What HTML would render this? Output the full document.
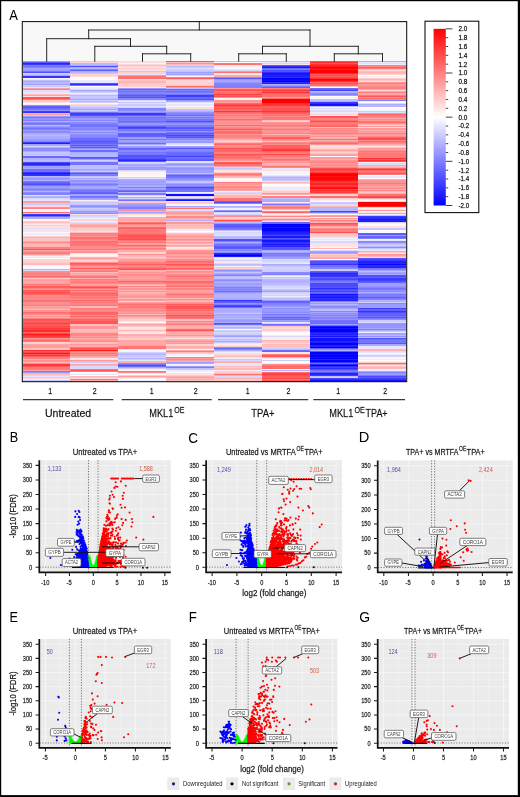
<!DOCTYPE html>
<html lang="en"><head><meta charset="utf-8"><title>Figure</title>
<style>
html,body{margin:0;padding:0;background:#fff;}
body{width:520px;height:797px;overflow:hidden;position:relative;font-family:'Liberation Sans', 'DejaVu Sans', sans-serif;}
svg{display:block;position:absolute;left:0;top:0;}
text{font-family:'Liberation Sans', 'DejaVu Sans', sans-serif;}
.bd{stroke:#000;stroke-width:0.3px;stroke-opacity:0.55;}
</style></head><body>
<svg width="520" height="797" viewBox="0 0 520 797">
<rect x="0" y="0" width="520" height="797" fill="#fff"/>

<rect x="22" y="21.5" width="385" height="360.3" fill="#f8f8f8"/>
<g shape-rendering="crispEdges">
<g fill="none" stroke-width="1"><path stroke="#ff8080" d="M22.50 61.5h47.95M22.50 89.5h47.95M22.50 99.5h47.95M22.50 247.5h47.95M22.50 248.5h47.95M22.50 275.5h47.95M22.50 288.5h47.95M22.50 297.5h47.95M22.50 299.5h47.95M22.50 339.5h47.95M22.50 357.5h47.95M22.50 358.5h47.95M70.43 235.5h47.95M70.43 239.5h47.95M70.43 296.5h47.95M70.43 298.5h47.95M70.43 301.5h47.95M70.43 308.5h47.95M70.43 309.5h47.95M70.43 318.5h47.95M70.43 334.5h47.95M70.43 351.5h47.95M70.43 355.5h47.95M70.43 371.5h47.95M118.36 246.5h47.95M118.36 262.5h47.95M118.36 265.5h47.95M118.36 282.5h47.95M118.36 283.5h47.95M118.36 305.5h47.95M118.36 310.5h47.95M118.36 315.5h47.95M118.36 347.5h47.95M166.29 77.5h47.95M166.29 263.5h47.95M166.29 266.5h47.95M166.29 269.5h47.95M166.29 275.5h47.95M166.29 288.5h47.95M166.29 312.5h47.95M166.29 314.5h47.95M214.22 135.5h47.95M214.22 136.5h47.95M214.22 147.5h47.95M214.22 152.5h47.95M214.22 153.5h47.95M214.22 182.5h47.95M262.15 88.5h47.95M262.15 153.5h47.95M262.15 160.5h47.95M262.15 196.5h47.95M262.15 197.5h47.95M262.15 211.5h47.95M262.15 219.5h47.95M262.15 354.5h47.95M310.08 119.5h47.95M310.08 123.5h47.95M310.08 142.5h47.95M310.08 167.5h47.95M310.08 220.5h47.95M310.08 230.5h47.95M358.01 83.5h47.95M358.01 87.5h47.95M358.01 88.5h47.95M358.01 92.5h47.95M358.01 116.5h47.95M358.01 133.5h47.95M358.01 142.5h47.95M358.01 152.5h47.95"/>
<path stroke="#5959ff" d="M22.50 62.5h47.95M22.50 183.5h47.95M70.43 83.5h47.95M70.43 141.5h47.95M70.43 145.5h47.95M70.43 147.5h47.95M70.43 157.5h47.95M118.36 95.5h47.95M118.36 115.5h47.95M118.36 157.5h47.95M118.36 161.5h47.95M166.29 127.5h47.95M166.29 133.5h47.95M166.29 148.5h47.95M166.29 160.5h47.95M214.22 78.5h47.95M214.22 248.5h47.95M214.22 301.5h47.95M262.15 65.5h47.95M262.15 238.5h47.95M262.15 247.5h47.95M262.15 249.5h47.95M310.08 290.5h47.95M310.08 351.5h47.95M310.08 372.5h47.95M358.01 234.5h47.95M358.01 343.5h47.95M358.01 377.5h47.95"/>
<path stroke="#2626ff" d="M22.50 63.5h47.95M22.50 163.5h47.95M22.50 164.5h47.95M22.50 215.5h47.95M118.36 160.5h47.95M214.22 253.5h47.95M310.08 275.5h47.95M310.08 296.5h47.95M310.08 299.5h47.95M310.08 300.5h47.95M310.08 333.5h47.95M310.08 341.5h47.95M310.08 345.5h47.95M310.08 359.5h47.95M310.08 364.5h47.95M310.08 374.5h47.95M358.01 220.5h47.95M358.01 263.5h47.95M358.01 266.5h47.95M358.01 267.5h47.95"/>
<path stroke="#3939ff" d="M22.50 64.5h47.95M22.50 172.5h47.95M70.43 113.5h47.95M118.36 113.5h47.95M118.36 114.5h47.95M118.36 159.5h47.95M166.29 95.5h47.95M166.29 199.5h47.95M214.22 306.5h47.95M310.08 102.5h47.95M310.08 274.5h47.95M310.08 276.5h47.95M310.08 375.5h47.95M358.01 216.5h47.95M358.01 260.5h47.95M358.01 278.5h47.95M358.01 279.5h47.95"/>
<path stroke="#7979ff" d="M22.50 65.5h47.95M22.50 117.5h47.95M22.50 181.5h47.95M22.50 185.5h47.95M22.50 371.5h47.95M70.43 144.5h47.95M70.43 175.5h47.95M70.43 184.5h47.95M70.43 191.5h47.95M118.36 119.5h47.95M118.36 193.5h47.95M118.36 194.5h47.95M118.36 364.5h47.95M166.29 61.5h47.95M166.29 92.5h47.95M166.29 94.5h47.95M166.29 117.5h47.95M166.29 122.5h47.95M166.29 125.5h47.95M166.29 129.5h47.95M166.29 132.5h47.95M166.29 177.5h47.95M166.29 186.5h47.95M166.29 190.5h47.95M166.29 367.5h47.95M214.22 229.5h47.95M262.15 86.5h47.95M262.15 204.5h47.95M262.15 253.5h47.95M262.15 314.5h47.95M262.15 318.5h47.95M310.08 281.5h47.95M358.01 289.5h47.95M358.01 296.5h47.95M358.01 298.5h47.95M358.01 318.5h47.95M358.01 340.5h47.95M358.01 342.5h47.95M358.01 375.5h47.95"/>
<path stroke="#7373ff" d="M22.50 66.5h47.95M22.50 71.5h47.95M22.50 109.5h47.95M22.50 123.5h47.95M22.50 128.5h47.95M22.50 169.5h47.95M22.50 171.5h47.95M70.43 85.5h47.95M70.43 112.5h47.95M70.43 124.5h47.95M70.43 125.5h47.95M70.43 126.5h47.95M70.43 139.5h47.95M70.43 162.5h47.95M70.43 163.5h47.95M70.43 164.5h47.95M70.43 190.5h47.95M118.36 94.5h47.95M118.36 130.5h47.95M118.36 139.5h47.95M118.36 152.5h47.95M118.36 154.5h47.95M118.36 190.5h47.95M118.36 200.5h47.95M166.29 119.5h47.95M166.29 120.5h47.95M166.29 191.5h47.95M214.22 228.5h47.95M214.22 244.5h47.95M214.22 245.5h47.95M310.08 265.5h47.95M310.08 320.5h47.95M310.08 322.5h47.95M310.08 325.5h47.95M310.08 370.5h47.95M358.01 268.5h47.95M358.01 288.5h47.95M358.01 294.5h47.95M358.01 316.5h47.95M358.01 341.5h47.95"/>
<path stroke="#8686ff" d="M22.50 67.5h47.95M22.50 127.5h47.95M22.50 131.5h47.95M22.50 141.5h47.95M22.50 194.5h47.95M70.43 69.5h47.95M70.43 116.5h47.95M70.43 120.5h47.95M70.43 123.5h47.95M70.43 128.5h47.95M70.43 135.5h47.95M70.43 136.5h47.95M70.43 137.5h47.95M70.43 172.5h47.95M70.43 189.5h47.95M118.36 90.5h47.95M118.36 92.5h47.95M118.36 99.5h47.95M118.36 109.5h47.95M118.36 110.5h47.95M118.36 150.5h47.95M118.36 363.5h47.95M166.29 113.5h47.95M166.29 139.5h47.95M166.29 149.5h47.95M166.29 178.5h47.95M214.22 77.5h47.95M214.22 84.5h47.95M214.22 203.5h47.95M214.22 347.5h47.95M214.22 349.5h47.95M262.15 273.5h47.95M262.15 304.5h47.95M262.15 325.5h47.95M310.08 94.5h47.95M310.08 260.5h47.95M310.08 311.5h47.95M310.08 318.5h47.95M358.01 241.5h47.95M358.01 287.5h47.95M358.01 303.5h47.95M358.01 372.5h47.95"/>
<path stroke="#a6a6ff" d="M22.50 68.5h47.95M22.50 75.5h47.95M22.50 133.5h47.95M22.50 138.5h47.95M22.50 168.5h47.95M70.43 109.5h47.95M70.43 131.5h47.95M70.43 169.5h47.95M70.43 182.5h47.95M70.43 186.5h47.95M70.43 187.5h47.95M70.43 188.5h47.95M70.43 207.5h47.95M118.36 111.5h47.95M118.36 138.5h47.95M118.36 144.5h47.95M118.36 164.5h47.95M118.36 165.5h47.95M118.36 180.5h47.95M118.36 183.5h47.95M118.36 188.5h47.95M118.36 203.5h47.95M118.36 204.5h47.95M118.36 209.5h47.95M118.36 367.5h47.95M166.29 140.5h47.95M166.29 165.5h47.95M166.29 183.5h47.95M166.29 206.5h47.95M214.22 80.5h47.95M214.22 81.5h47.95M214.22 251.5h47.95M214.22 271.5h47.95M214.22 281.5h47.95M214.22 285.5h47.95M214.22 299.5h47.95M214.22 314.5h47.95M214.22 315.5h47.95M214.22 319.5h47.95M262.15 250.5h47.95M262.15 252.5h47.95M310.08 251.5h47.95M310.08 308.5h47.95M310.08 312.5h47.95M358.01 272.5h47.95M358.01 274.5h47.95M358.01 328.5h47.95M358.01 334.5h47.95M358.01 344.5h47.95M358.01 371.5h47.95"/>
<path stroke="#9f9fff" d="M22.50 69.5h47.95M22.50 84.5h47.95M22.50 126.5h47.95M22.50 130.5h47.95M22.50 139.5h47.95M22.50 144.5h47.95M22.50 166.5h47.95M22.50 167.5h47.95M22.50 179.5h47.95M22.50 187.5h47.95M70.43 118.5h47.95M70.43 119.5h47.95M70.43 133.5h47.95M70.43 159.5h47.95M70.43 194.5h47.95M70.43 212.5h47.95M118.36 140.5h47.95M118.36 141.5h47.95M118.36 146.5h47.95M118.36 168.5h47.95M118.36 181.5h47.95M118.36 182.5h47.95M118.36 189.5h47.95M118.36 212.5h47.95M166.29 72.5h47.95M166.29 74.5h47.95M166.29 146.5h47.95M166.29 167.5h47.95M166.29 170.5h47.95M166.29 171.5h47.95M166.29 172.5h47.95M166.29 180.5h47.95M166.29 362.5h47.95M166.29 366.5h47.95M214.22 283.5h47.95M214.22 284.5h47.95M214.22 286.5h47.95M214.22 336.5h47.95M262.15 85.5h47.95M262.15 257.5h47.95M262.15 258.5h47.95M262.15 291.5h47.95M262.15 313.5h47.95M262.15 320.5h47.95M310.08 95.5h47.95M310.08 305.5h47.95M310.08 324.5h47.95M358.01 99.5h47.95M358.01 270.5h47.95M358.01 284.5h47.95M358.01 285.5h47.95M358.01 305.5h47.95M358.01 307.5h47.95M358.01 333.5h47.95M358.01 374.5h47.95"/>
<path stroke="#9999ff" d="M22.50 70.5h47.95M22.50 116.5h47.95M22.50 186.5h47.95M22.50 372.5h47.95M70.43 130.5h47.95M70.43 198.5h47.95M70.43 205.5h47.95M70.43 211.5h47.95M118.36 88.5h47.95M118.36 124.5h47.95M118.36 132.5h47.95M118.36 137.5h47.95M118.36 147.5h47.95M118.36 167.5h47.95M118.36 169.5h47.95M118.36 184.5h47.95M118.36 199.5h47.95M166.29 100.5h47.95M166.29 116.5h47.95M166.29 124.5h47.95M166.29 141.5h47.95M166.29 142.5h47.95M166.29 169.5h47.95M166.29 185.5h47.95M214.22 79.5h47.95M214.22 82.5h47.95M214.22 223.5h47.95M214.22 274.5h47.95M214.22 279.5h47.95M214.22 320.5h47.95M214.22 321.5h47.95M262.15 300.5h47.95M262.15 306.5h47.95M262.15 309.5h47.95M262.15 310.5h47.95M262.15 311.5h47.95M262.15 321.5h47.95M310.08 252.5h47.95M310.08 303.5h47.95M310.08 314.5h47.95M310.08 316.5h47.95M358.01 235.5h47.95M358.01 273.5h47.95M358.01 283.5h47.95M358.01 293.5h47.95M358.01 304.5h47.95M358.01 306.5h47.95M358.01 323.5h47.95M358.01 326.5h47.95"/>
<path stroke="#5353ff" d="M22.50 72.5h47.95M22.50 107.5h47.95M70.43 173.5h47.95M118.36 134.5h47.95M118.36 155.5h47.95M118.36 156.5h47.95M118.36 158.5h47.95M166.29 128.5h47.95M166.29 137.5h47.95M214.22 226.5h47.95M214.22 239.5h47.95M214.22 247.5h47.95M262.15 71.5h47.95M262.15 248.5h47.95M310.08 262.5h47.95M310.08 287.5h47.95M358.01 258.5h47.95M358.01 275.5h47.95M358.01 281.5h47.95M358.01 317.5h47.95M358.01 338.5h47.95"/>
<path stroke="#ccccff" d="M22.50 73.5h47.95M22.50 203.5h47.95M70.43 97.5h47.95M70.43 100.5h47.95M70.43 102.5h47.95M70.43 110.5h47.95M70.43 177.5h47.95M70.43 203.5h47.95M70.43 208.5h47.95M118.36 104.5h47.95M118.36 355.5h47.95M118.36 359.5h47.95M118.36 368.5h47.95M166.29 67.5h47.95M166.29 69.5h47.95M166.29 70.5h47.95M214.22 333.5h47.95M262.15 176.5h47.95M262.15 180.5h47.95M262.15 266.5h47.95M262.15 270.5h47.95M262.15 271.5h47.95M262.15 285.5h47.95M262.15 348.5h47.95M262.15 360.5h47.95M310.08 202.5h47.95M310.08 213.5h47.95M310.08 270.5h47.95M310.08 377.5h47.95M358.01 111.5h47.95M358.01 245.5h47.95M358.01 320.5h47.95M358.01 321.5h47.95M358.01 331.5h47.95M358.01 355.5h47.95"/>
<path stroke="#c6c6ff" d="M22.50 74.5h47.95M22.50 86.5h47.95M22.50 152.5h47.95M22.50 153.5h47.95M22.50 155.5h47.95M22.50 204.5h47.95M22.50 380.5h47.95M22.50 381.5h47.95M70.43 73.5h47.95M70.43 96.5h47.95M70.43 171.5h47.95M70.43 176.5h47.95M70.43 202.5h47.95M70.43 204.5h47.95M70.43 209.5h47.95M118.36 102.5h47.95M118.36 105.5h47.95M118.36 356.5h47.95M166.29 109.5h47.95M166.29 166.5h47.95M166.29 181.5h47.95M166.29 182.5h47.95M166.29 198.5h47.95M166.29 369.5h47.95M214.22 168.5h47.95M214.22 272.5h47.95M214.22 278.5h47.95M214.22 313.5h47.95M214.22 340.5h47.95M214.22 342.5h47.95M214.22 359.5h47.95M262.15 198.5h47.95M262.15 277.5h47.95M262.15 289.5h47.95M310.08 203.5h47.95M310.08 269.5h47.95M358.01 215.5h47.95M358.01 228.5h47.95M358.01 229.5h47.95M358.01 244.5h47.95M358.01 248.5h47.95"/>
<path stroke="#3333ff" d="M22.50 76.5h47.95M22.50 77.5h47.95M22.50 112.5h47.95M22.50 175.5h47.95M214.22 300.5h47.95M262.15 82.5h47.95M262.15 242.5h47.95M262.15 243.5h47.95M262.15 245.5h47.95M310.08 264.5h47.95M310.08 335.5h47.95M310.08 362.5h47.95M358.01 265.5h47.95M358.01 311.5h47.95M358.01 379.5h47.95"/>
<path stroke="#fff2f2" d="M22.50 78.5h47.95M22.50 104.5h47.95M22.50 256.5h47.95M22.50 268.5h47.95M70.43 221.5h47.95M70.43 254.5h47.95M118.36 63.5h47.95M118.36 172.5h47.95M118.36 173.5h47.95M118.36 174.5h47.95M118.36 215.5h47.95M118.36 216.5h47.95M118.36 351.5h47.95M118.36 370.5h47.95M166.29 349.5h47.95M214.22 66.5h47.95M214.22 181.5h47.95M262.15 186.5h47.95M262.15 214.5h47.95M358.01 162.5h47.95M358.01 211.5h47.95"/>
<path stroke="#ffdfdf" d="M22.50 79.5h47.95M22.50 96.5h47.95M22.50 102.5h47.95M22.50 226.5h47.95M22.50 229.5h47.95M22.50 230.5h47.95M22.50 231.5h47.95M70.43 104.5h47.95M70.43 214.5h47.95M70.43 231.5h47.95M70.43 253.5h47.95M70.43 359.5h47.95M118.36 62.5h47.95M118.36 70.5h47.95M166.29 108.5h47.95M166.29 201.5h47.95M166.29 248.5h47.95M166.29 338.5h47.95M166.29 373.5h47.95M166.29 374.5h47.95M214.22 65.5h47.95M214.22 73.5h47.95M214.22 170.5h47.95M214.22 345.5h47.95M262.15 170.5h47.95M262.15 190.5h47.95M262.15 331.5h47.95M262.15 353.5h47.95M310.08 113.5h47.95M310.08 244.5h47.95M358.01 81.5h47.95M358.01 226.5h47.95M358.01 365.5h47.95"/>
<path stroke="#bfbfff" d="M22.50 80.5h47.95M22.50 154.5h47.95M22.50 160.5h47.95M70.43 107.5h47.95M70.43 108.5h47.95M70.43 161.5h47.95M70.43 165.5h47.95M70.43 166.5h47.95M70.43 167.5h47.95M70.43 168.5h47.95M118.36 211.5h47.95M118.36 353.5h47.95M166.29 71.5h47.95M166.29 88.5h47.95M166.29 110.5h47.95M166.29 173.5h47.95M166.29 207.5h47.95M166.29 219.5h47.95M166.29 368.5h47.95M214.22 61.5h47.95M214.22 207.5h47.95M214.22 222.5h47.95M214.22 230.5h47.95M214.22 236.5h47.95M214.22 264.5h47.95M214.22 265.5h47.95M214.22 276.5h47.95M214.22 277.5h47.95M214.22 328.5h47.95M214.22 331.5h47.95M214.22 339.5h47.95M262.15 61.5h47.95M262.15 178.5h47.95M262.15 283.5h47.95M262.15 298.5h47.95M262.15 299.5h47.95M262.15 349.5h47.95M310.08 99.5h47.95M310.08 100.5h47.95M310.08 106.5h47.95M310.08 310.5h47.95M310.08 376.5h47.95M358.01 105.5h47.95M358.01 271.5h47.95"/>
<path stroke="#acacff" d="M22.50 81.5h47.95M22.50 136.5h47.95M22.50 137.5h47.95M22.50 145.5h47.95M22.50 151.5h47.95M22.50 177.5h47.95M22.50 197.5h47.95M22.50 217.5h47.95M22.50 218.5h47.95M70.43 65.5h47.95M70.43 67.5h47.95M70.43 71.5h47.95M70.43 90.5h47.95M70.43 99.5h47.95M70.43 121.5h47.95M70.43 149.5h47.95M70.43 152.5h47.95M70.43 178.5h47.95M70.43 195.5h47.95M70.43 199.5h47.95M118.36 179.5h47.95M118.36 185.5h47.95M118.36 186.5h47.95M118.36 197.5h47.95M166.29 101.5h47.95M166.29 163.5h47.95M166.29 363.5h47.95M214.22 206.5h47.95M214.22 242.5h47.95M214.22 273.5h47.95M214.22 293.5h47.95M214.22 298.5h47.95M214.22 308.5h47.95M214.22 309.5h47.95M214.22 310.5h47.95M214.22 311.5h47.95M214.22 317.5h47.95M214.22 322.5h47.95M214.22 335.5h47.95M214.22 341.5h47.95M214.22 350.5h47.95M262.15 84.5h47.95M262.15 199.5h47.95M262.15 200.5h47.95M262.15 201.5h47.95M262.15 205.5h47.95M262.15 264.5h47.95M262.15 307.5h47.95M310.08 92.5h47.95M310.08 101.5h47.95M310.08 253.5h47.95M358.01 61.5h47.95M358.01 104.5h47.95M358.01 292.5h47.95M358.01 301.5h47.95M358.01 330.5h47.95M358.01 345.5h47.95"/>
<path stroke="#b9b9ff" d="M22.50 82.5h47.95M22.50 83.5h47.95M22.50 135.5h47.95M22.50 176.5h47.95M22.50 196.5h47.95M22.50 269.5h47.95M70.43 63.5h47.95M70.43 64.5h47.95M70.43 68.5h47.95M70.43 72.5h47.95M70.43 91.5h47.95M70.43 95.5h47.95M70.43 98.5h47.95M70.43 101.5h47.95M70.43 111.5h47.95M70.43 155.5h47.95M70.43 179.5h47.95M70.43 210.5h47.95M118.36 192.5h47.95M166.29 66.5h47.95M214.22 238.5h47.95M214.22 269.5h47.95M214.22 318.5h47.95M214.22 325.5h47.95M262.15 179.5h47.95M262.15 203.5h47.95M262.15 251.5h47.95M262.15 279.5h47.95M262.15 284.5h47.95M262.15 290.5h47.95M310.08 91.5h47.95M310.08 208.5h47.95M310.08 210.5h47.95M310.08 304.5h47.95M310.08 309.5h47.95M358.01 246.5h47.95M358.01 300.5h47.95M358.01 335.5h47.95M358.01 337.5h47.95"/>
<path stroke="#d2d2ff" d="M22.50 85.5h47.95M22.50 146.5h47.95M70.43 92.5h47.95M70.43 105.5h47.95M70.43 160.5h47.95M70.43 223.5h47.95M70.43 362.5h47.95M118.36 107.5h47.95M118.36 145.5h47.95M118.36 162.5h47.95M118.36 163.5h47.95M118.36 177.5h47.95M118.36 198.5h47.95M118.36 352.5h47.95M118.36 357.5h47.95M166.29 65.5h47.95M166.29 143.5h47.95M166.29 196.5h47.95M166.29 221.5h47.95M214.22 169.5h47.95M214.22 214.5h47.95M214.22 260.5h47.95M214.22 326.5h47.95M214.22 330.5h47.95M214.22 334.5h47.95M214.22 337.5h47.95M214.22 377.5h47.95M262.15 260.5h47.95M262.15 261.5h47.95M262.15 267.5h47.95M262.15 268.5h47.95M262.15 269.5h47.95M262.15 278.5h47.95M262.15 286.5h47.95M262.15 292.5h47.95M262.15 293.5h47.95M262.15 295.5h47.95M262.15 297.5h47.95M358.01 222.5h47.95M358.01 302.5h47.95"/>
<path stroke="#e6e6ff" d="M22.50 87.5h47.95M22.50 92.5h47.95M22.50 200.5h47.95M22.50 227.5h47.95M22.50 376.5h47.95M70.43 217.5h47.95M70.43 374.5h47.95M118.36 74.5h47.95M118.36 171.5h47.95M118.36 349.5h47.95M118.36 360.5h47.95M166.29 104.5h47.95M166.29 105.5h47.95M166.29 197.5h47.95M214.22 69.5h47.95M214.22 213.5h47.95M214.22 231.5h47.95M214.22 259.5h47.95M214.22 343.5h47.95M214.22 353.5h47.95M214.22 364.5h47.95M262.15 62.5h47.95M262.15 168.5h47.95M262.15 169.5h47.95M262.15 175.5h47.95M262.15 263.5h47.95M262.15 322.5h47.95M310.08 239.5h47.95M310.08 243.5h47.95M358.01 62.5h47.95M358.01 176.5h47.95M358.01 240.5h47.95M358.01 250.5h47.95M358.01 346.5h47.95M358.01 347.5h47.95M358.01 348.5h47.95M358.01 352.5h47.95"/>
<path stroke="#ff9f9f" d="M22.50 88.5h47.95M22.50 114.5h47.95M22.50 202.5h47.95M22.50 254.5h47.95M22.50 283.5h47.95M22.50 346.5h47.95M22.50 347.5h47.95M70.43 225.5h47.95M70.43 250.5h47.95M70.43 258.5h47.95M70.43 273.5h47.95M70.43 284.5h47.95M70.43 336.5h47.95M70.43 339.5h47.95M118.36 226.5h47.95M118.36 247.5h47.95M118.36 259.5h47.95M118.36 260.5h47.95M118.36 273.5h47.95M118.36 277.5h47.95M118.36 278.5h47.95M118.36 294.5h47.95M118.36 295.5h47.95M118.36 300.5h47.95M118.36 302.5h47.95M118.36 312.5h47.95M118.36 316.5h47.95M118.36 341.5h47.95M118.36 345.5h47.95M118.36 376.5h47.95M166.29 212.5h47.95M166.29 240.5h47.95M166.29 245.5h47.95M166.29 254.5h47.95M166.29 287.5h47.95M166.29 291.5h47.95M166.29 292.5h47.95M166.29 322.5h47.95M166.29 358.5h47.95M166.29 360.5h47.95M214.22 102.5h47.95M214.22 124.5h47.95M214.22 166.5h47.95M214.22 185.5h47.95M262.15 161.5h47.95M262.15 165.5h47.95M310.08 150.5h47.95M310.08 157.5h47.95M310.08 207.5h47.95M310.08 215.5h47.95M310.08 218.5h47.95M310.08 221.5h47.95M358.01 89.5h47.95M358.01 132.5h47.95M358.01 135.5h47.95M358.01 255.5h47.95"/>
<path stroke="#dfdfff" d="M22.50 90.5h47.95M22.50 91.5h47.95M22.50 199.5h47.95M22.50 228.5h47.95M70.43 82.5h47.95M70.43 222.5h47.95M70.43 363.5h47.95M118.36 61.5h47.95M118.36 103.5h47.95M118.36 106.5h47.95M118.36 178.5h47.95M166.29 68.5h47.95M166.29 102.5h47.95M166.29 144.5h47.95M166.29 161.5h47.95M166.29 162.5h47.95M166.29 209.5h47.95M166.29 210.5h47.95M214.22 234.5h47.95M214.22 235.5h47.95M214.22 332.5h47.95M262.15 262.5h47.95M262.15 288.5h47.95M262.15 294.5h47.95M310.08 108.5h47.95M310.08 110.5h47.95M310.08 204.5h47.95M358.01 63.5h47.95M358.01 112.5h47.95M358.01 164.5h47.95M358.01 249.5h47.95"/>
<path stroke="#ececff" d="M22.50 93.5h47.95M22.50 233.5h47.95M22.50 234.5h47.95M22.50 257.5h47.95M70.43 80.5h47.95M70.43 81.5h47.95M70.43 88.5h47.95M70.43 93.5h47.95M70.43 218.5h47.95M118.36 101.5h47.95M118.36 196.5h47.95M118.36 380.5h47.95M166.29 192.5h47.95M166.29 229.5h47.95M166.29 230.5h47.95M166.29 365.5h47.95M166.29 370.5h47.95M214.22 261.5h47.95M262.15 187.5h47.95M262.15 188.5h47.95M262.15 296.5h47.95M262.15 335.5h47.95M262.15 337.5h47.95M262.15 371.5h47.95M310.08 109.5h47.95M310.08 112.5h47.95M358.01 64.5h47.95M358.01 177.5h47.95M358.01 214.5h47.95M358.01 253.5h47.95M358.01 332.5h47.95M358.01 354.5h47.95M358.01 369.5h47.95M358.01 370.5h47.95"/>
<path stroke="#ffb9b9" d="M22.50 94.5h47.95M22.50 213.5h47.95M22.50 222.5h47.95M22.50 245.5h47.95M22.50 264.5h47.95M22.50 309.5h47.95M70.43 259.5h47.95M70.43 324.5h47.95M70.43 330.5h47.95M70.43 331.5h47.95M70.43 376.5h47.95M118.36 71.5h47.95M118.36 81.5h47.95M118.36 256.5h47.95M118.36 258.5h47.95M118.36 285.5h47.95M118.36 336.5h47.95M166.29 64.5h47.95M166.29 226.5h47.95M166.29 301.5h47.95M166.29 319.5h47.95M166.29 336.5h47.95M166.29 352.5h47.95M214.22 195.5h47.95M214.22 197.5h47.95M214.22 361.5h47.95M214.22 368.5h47.95M214.22 369.5h47.95M214.22 373.5h47.95M262.15 141.5h47.95M262.15 182.5h47.95M262.15 209.5h47.95M262.15 344.5h47.95M262.15 346.5h47.95M310.08 127.5h47.95M310.08 149.5h47.95M310.08 206.5h47.95M310.08 219.5h47.95M310.08 227.5h47.95M310.08 248.5h47.95M358.01 256.5h47.95M358.01 349.5h47.95M358.01 368.5h47.95"/>
<path stroke="#ffa6a6" d="M22.50 95.5h47.95M22.50 241.5h47.95M22.50 250.5h47.95M22.50 279.5h47.95M22.50 281.5h47.95M22.50 282.5h47.95M22.50 306.5h47.95M22.50 308.5h47.95M22.50 317.5h47.95M22.50 344.5h47.95M22.50 370.5h47.95M70.43 226.5h47.95M70.43 346.5h47.95M70.43 356.5h47.95M70.43 364.5h47.95M70.43 380.5h47.95M118.36 219.5h47.95M118.36 220.5h47.95M118.36 243.5h47.95M118.36 324.5h47.95M118.36 343.5h47.95M118.36 344.5h47.95M166.29 237.5h47.95M166.29 255.5h47.95M166.29 290.5h47.95M166.29 325.5h47.95M166.29 328.5h47.95M166.29 340.5h47.95M166.29 342.5h47.95M166.29 379.5h47.95M166.29 381.5h47.95M214.22 75.5h47.95M214.22 190.5h47.95M214.22 362.5h47.95M310.08 135.5h47.95M310.08 154.5h47.95M310.08 226.5h47.95M310.08 258.5h47.95M358.01 91.5h47.95M358.01 93.5h47.95M358.01 94.5h47.95M358.01 118.5h47.95M358.01 144.5h47.95M358.01 149.5h47.95M358.01 186.5h47.95M358.01 198.5h47.95M358.01 213.5h47.95"/>
<path stroke="#ff5959" d="M22.50 97.5h47.95M22.50 286.5h47.95M22.50 290.5h47.95M22.50 320.5h47.95M22.50 322.5h47.95M22.50 324.5h47.95M22.50 325.5h47.95M22.50 351.5h47.95M22.50 356.5h47.95M22.50 366.5h47.95M70.43 263.5h47.95M70.43 268.5h47.95M70.43 322.5h47.95M70.43 323.5h47.95M118.36 223.5h47.95M118.36 235.5h47.95M118.36 238.5h47.95M166.29 78.5h47.95M166.29 268.5h47.95M166.29 304.5h47.95M166.29 307.5h47.95M214.22 89.5h47.95M214.22 129.5h47.95M214.22 162.5h47.95M262.15 89.5h47.95M262.15 93.5h47.95M262.15 106.5h47.95M262.15 109.5h47.95M262.15 138.5h47.95M262.15 355.5h47.95M262.15 376.5h47.95M310.08 63.5h47.95M310.08 74.5h47.95M310.08 76.5h47.95M310.08 117.5h47.95M310.08 171.5h47.95M358.01 96.5h47.95M358.01 159.5h47.95M358.01 173.5h47.95"/>
<path stroke="#ff4d4d" d="M22.50 98.5h47.95M22.50 292.5h47.95M22.50 319.5h47.95M22.50 326.5h47.95M22.50 327.5h47.95M22.50 333.5h47.95M22.50 354.5h47.95M70.43 287.5h47.95M70.43 348.5h47.95M118.36 236.5h47.95M118.36 239.5h47.95M214.22 104.5h47.95M214.22 106.5h47.95M214.22 108.5h47.95M214.22 220.5h47.95M262.15 108.5h47.95M262.15 110.5h47.95M262.15 148.5h47.95M262.15 154.5h47.95M310.08 75.5h47.95M310.08 121.5h47.95M310.08 168.5h47.95M310.08 189.5h47.95M358.01 138.5h47.95M358.01 139.5h47.95M358.01 161.5h47.95"/>
<path stroke="#ffbfbf" d="M22.50 100.5h47.95M22.50 115.5h47.95M22.50 239.5h47.95M22.50 263.5h47.95M22.50 348.5h47.95M22.50 374.5h47.95M70.43 215.5h47.95M70.43 232.5h47.95M70.43 272.5h47.95M70.43 306.5h47.95M70.43 325.5h47.95M70.43 329.5h47.95M70.43 342.5h47.95M70.43 343.5h47.95M118.36 65.5h47.95M118.36 298.5h47.95M118.36 314.5h47.95M118.36 318.5h47.95M118.36 330.5h47.95M118.36 337.5h47.95M166.29 62.5h47.95M166.29 79.5h47.95M166.29 215.5h47.95M166.29 224.5h47.95M166.29 227.5h47.95M166.29 228.5h47.95M166.29 241.5h47.95M166.29 298.5h47.95M166.29 320.5h47.95M166.29 348.5h47.95M166.29 378.5h47.95M166.29 380.5h47.95M214.22 140.5h47.95M214.22 177.5h47.95M214.22 267.5h47.95M214.22 356.5h47.95M214.22 366.5h47.95M214.22 380.5h47.95M214.22 381.5h47.95M262.15 120.5h47.95M262.15 220.5h47.95M310.08 151.5h47.95M310.08 153.5h47.95M310.08 235.5h47.95M310.08 255.5h47.95M358.01 69.5h47.95M358.01 71.5h47.95M358.01 73.5h47.95M358.01 145.5h47.95M358.01 166.5h47.95"/>
<path stroke="#ffcccc" d="M22.50 101.5h47.95M22.50 255.5h47.95M22.50 262.5h47.95M22.50 343.5h47.95M22.50 375.5h47.95M70.43 228.5h47.95M70.43 261.5h47.95M118.36 68.5h47.95M118.36 86.5h47.95M118.36 202.5h47.95M118.36 253.5h47.95M118.36 257.5h47.95M118.36 301.5h47.95M118.36 319.5h47.95M118.36 320.5h47.95M118.36 338.5h47.95M118.36 339.5h47.95M118.36 375.5h47.95M166.29 203.5h47.95M166.29 353.5h47.95M166.29 375.5h47.95M214.22 167.5h47.95M214.22 172.5h47.95M214.22 367.5h47.95M214.22 372.5h47.95M214.22 379.5h47.95M262.15 63.5h47.95M262.15 121.5h47.95M262.15 191.5h47.95M262.15 192.5h47.95M262.15 213.5h47.95M262.15 347.5h47.95M310.08 194.5h47.95M310.08 195.5h47.95M310.08 234.5h47.95M310.08 254.5h47.95M358.01 125.5h47.95M358.01 147.5h47.95M358.01 362.5h47.95"/>
<path stroke="#fff9f9" d="M22.50 103.5h47.95M22.50 219.5h47.95M70.43 78.5h47.95M70.43 103.5h47.95M118.36 175.5h47.95M118.36 176.5h47.95M118.36 322.5h47.95M118.36 381.5h47.95M166.29 204.5h47.95M166.29 372.5h47.95M214.22 180.5h47.95M214.22 329.5h47.95M262.15 332.5h47.95M262.15 334.5h47.95M262.15 359.5h47.95M310.08 98.5h47.95M358.01 75.5h47.95M358.01 208.5h47.95M358.01 224.5h47.95M358.01 358.5h47.95"/>
<path stroke="#8c8cff" d="M22.50 105.5h47.95M22.50 110.5h47.95M22.50 122.5h47.95M22.50 132.5h47.95M22.50 148.5h47.95M22.50 149.5h47.95M22.50 150.5h47.95M22.50 192.5h47.95M70.43 122.5h47.95M70.43 127.5h47.95M70.43 132.5h47.95M70.43 183.5h47.95M70.43 185.5h47.95M70.43 213.5h47.95M118.36 98.5h47.95M118.36 112.5h47.95M118.36 151.5h47.95M166.29 93.5h47.95M166.29 118.5h47.95M166.29 123.5h47.95M166.29 138.5h47.95M166.29 147.5h47.95M166.29 150.5h47.95M166.29 174.5h47.95M166.29 184.5h47.95M214.22 252.5h47.95M214.22 280.5h47.95M214.22 288.5h47.95M214.22 290.5h47.95M262.15 256.5h47.95M262.15 272.5h47.95M262.15 305.5h47.95M262.15 312.5h47.95M262.15 315.5h47.95M262.15 316.5h47.95M310.08 93.5h47.95M310.08 268.5h47.95M310.08 306.5h47.95M310.08 307.5h47.95M310.08 313.5h47.95M358.01 242.5h47.95M358.01 247.5h47.95M358.01 291.5h47.95M358.01 319.5h47.95"/>
<path stroke="#6666ff" d="M22.50 106.5h47.95M22.50 157.5h47.95M70.43 138.5h47.95M70.43 140.5h47.95M70.43 143.5h47.95M70.43 192.5h47.95M118.36 121.5h47.95M118.36 133.5h47.95M118.36 136.5h47.95M166.29 97.5h47.95M166.29 130.5h47.95M166.29 153.5h47.95M166.29 188.5h47.95M214.22 201.5h47.95M214.22 227.5h47.95M262.15 68.5h47.95M262.15 222.5h47.95M262.15 223.5h47.95M262.15 302.5h47.95M262.15 317.5h47.95M262.15 351.5h47.95M310.08 280.5h47.95M310.08 292.5h47.95M358.01 282.5h47.95M358.01 313.5h47.95"/>
<path stroke="#6c6cff" d="M22.50 108.5h47.95M22.50 156.5h47.95M22.50 170.5h47.95M22.50 182.5h47.95M22.50 216.5h47.95M70.43 150.5h47.95M70.43 151.5h47.95M70.43 196.5h47.95M118.36 91.5h47.95M118.36 96.5h47.95M118.36 117.5h47.95M118.36 143.5h47.95M118.36 149.5h47.95M118.36 366.5h47.95M166.29 89.5h47.95M166.29 91.5h47.95M166.29 98.5h47.95M166.29 115.5h47.95M166.29 134.5h47.95M166.29 152.5h47.95M166.29 154.5h47.95M166.29 157.5h47.95M166.29 158.5h47.95M166.29 176.5h47.95M166.29 189.5h47.95M214.22 211.5h47.95M214.22 291.5h47.95M214.22 307.5h47.95M214.22 324.5h47.95M214.22 348.5h47.95M262.15 319.5h47.95M262.15 324.5h47.95M262.15 350.5h47.95M310.08 88.5h47.95M310.08 266.5h47.95M310.08 321.5h47.95M310.08 323.5h47.95M310.08 363.5h47.95M358.01 236.5h47.95M358.01 339.5h47.95"/>
<path stroke="#4040ff" d="M22.50 111.5h47.95M22.50 142.5h47.95M22.50 214.5h47.95M118.36 127.5h47.95M166.29 96.5h47.95M262.15 239.5h47.95M310.08 90.5h47.95M310.08 211.5h47.95M310.08 291.5h47.95M310.08 367.5h47.95M310.08 381.5h47.95M358.01 280.5h47.95M358.01 308.5h47.95M358.01 378.5h47.95"/>
<path stroke="#ffb2b2" d="M22.50 113.5h47.95M22.50 244.5h47.95M22.50 246.5h47.95M22.50 359.5h47.95M22.50 362.5h47.95M70.43 224.5h47.95M70.43 227.5h47.95M70.43 257.5h47.95M70.43 307.5h47.95M70.43 357.5h47.95M70.43 361.5h47.95M70.43 365.5h47.95M118.36 82.5h47.95M118.36 213.5h47.95M118.36 221.5h47.95M118.36 255.5h47.95M118.36 290.5h47.95M118.36 292.5h47.95M118.36 293.5h47.95M118.36 361.5h47.95M118.36 362.5h47.95M166.29 225.5h47.95M166.29 243.5h47.95M166.29 246.5h47.95M166.29 258.5h47.95M166.29 270.5h47.95M166.29 327.5h47.95M166.29 339.5h47.95M166.29 376.5h47.95M214.22 139.5h47.95M214.22 142.5h47.95M214.22 161.5h47.95M214.22 176.5h47.95M214.22 196.5h47.95M214.22 378.5h47.95M262.15 134.5h47.95M262.15 163.5h47.95M262.15 164.5h47.95M262.15 340.5h47.95M262.15 357.5h47.95M310.08 137.5h47.95M310.08 140.5h47.95M310.08 159.5h47.95M310.08 222.5h47.95M310.08 233.5h47.95M358.01 72.5h47.95M358.01 79.5h47.95M358.01 124.5h47.95M358.01 191.5h47.95M358.01 364.5h47.95M358.01 367.5h47.95"/>
<path stroke="#9393ff" d="M22.50 118.5h47.95M22.50 119.5h47.95M22.50 140.5h47.95M22.50 178.5h47.95M22.50 188.5h47.95M22.50 190.5h47.95M70.43 134.5h47.95M70.43 148.5h47.95M70.43 180.5h47.95M70.43 181.5h47.95M70.43 206.5h47.95M118.36 116.5h47.95M118.36 123.5h47.95M118.36 131.5h47.95M118.36 142.5h47.95M118.36 205.5h47.95M118.36 206.5h47.95M166.29 112.5h47.95M166.29 131.5h47.95M166.29 164.5h47.95M166.29 168.5h47.95M166.29 179.5h47.95M214.22 210.5h47.95M214.22 243.5h47.95M214.22 249.5h47.95M214.22 270.5h47.95M214.22 292.5h47.95M214.22 303.5h47.95M262.15 308.5h47.95M310.08 319.5h47.95M310.08 349.5h47.95M358.01 286.5h47.95M358.01 290.5h47.95M358.01 324.5h47.95M358.01 325.5h47.95M358.01 327.5h47.95M358.01 336.5h47.95M358.01 373.5h47.95"/>
<path stroke="#8080ff" d="M22.50 120.5h47.95M22.50 124.5h47.95M22.50 129.5h47.95M22.50 189.5h47.95M22.50 193.5h47.95M70.43 117.5h47.95M70.43 129.5h47.95M70.43 146.5h47.95M70.43 174.5h47.95M70.43 197.5h47.95M118.36 93.5h47.95M118.36 108.5h47.95M118.36 118.5h47.95M118.36 120.5h47.95M118.36 122.5h47.95M118.36 125.5h47.95M118.36 129.5h47.95M118.36 153.5h47.95M118.36 187.5h47.95M118.36 207.5h47.95M118.36 208.5h47.95M166.29 90.5h47.95M166.29 114.5h47.95M166.29 126.5h47.95M166.29 151.5h47.95M214.22 83.5h47.95M214.22 85.5h47.95M214.22 86.5h47.95M214.22 87.5h47.95M214.22 241.5h47.95M214.22 250.5h47.95M214.22 275.5h47.95M214.22 287.5h47.95M214.22 289.5h47.95M214.22 304.5h47.95M262.15 69.5h47.95M262.15 254.5h47.95M262.15 255.5h47.95M262.15 274.5h47.95M262.15 303.5h47.95M310.08 212.5h47.95M310.08 267.5h47.95M310.08 282.5h47.95M310.08 301.5h47.95M310.08 315.5h47.95M310.08 317.5h47.95M310.08 371.5h47.95M358.01 100.5h47.95M358.01 238.5h47.95M358.01 269.5h47.95M358.01 295.5h47.95M358.01 299.5h47.95M358.01 329.5h47.95"/>
<path stroke="#b2b2ff" d="M22.50 121.5h47.95M22.50 125.5h47.95M22.50 134.5h47.95M22.50 147.5h47.95M22.50 158.5h47.95M22.50 159.5h47.95M22.50 161.5h47.95M22.50 180.5h47.95M22.50 191.5h47.95M70.43 153.5h47.95M70.43 154.5h47.95M70.43 156.5h47.95M70.43 170.5h47.95M118.36 166.5h47.95M118.36 354.5h47.95M118.36 358.5h47.95M166.29 73.5h47.95M166.29 111.5h47.95M166.29 220.5h47.95M214.22 237.5h47.95M214.22 282.5h47.95M214.22 294.5h47.95M214.22 295.5h47.95M214.22 296.5h47.95M214.22 297.5h47.95M214.22 312.5h47.95M214.22 316.5h47.95M214.22 327.5h47.95M262.15 177.5h47.95M262.15 265.5h47.95M262.15 280.5h47.95M262.15 281.5h47.95M262.15 282.5h47.95M262.15 370.5h47.95M310.08 209.5h47.95M310.08 302.5h47.95M310.08 350.5h47.95M358.01 106.5h47.95M358.01 243.5h47.95"/>
<path stroke="#2020ff" d="M22.50 143.5h47.95M214.22 256.5h47.95M262.15 75.5h47.95M262.15 76.5h47.95M262.15 83.5h47.95M262.15 232.5h47.95M262.15 233.5h47.95M262.15 246.5h47.95M310.08 273.5h47.95M310.08 332.5h47.95M310.08 334.5h47.95M310.08 342.5h47.95M310.08 346.5h47.95M310.08 373.5h47.95M358.01 261.5h47.95M358.01 262.5h47.95"/>
<path stroke="#4d4dff" d="M22.50 162.5h47.95M22.50 165.5h47.95M22.50 184.5h47.95M70.43 66.5h47.95M70.43 115.5h47.95M118.36 97.5h47.95M118.36 128.5h47.95M166.29 99.5h47.95M166.29 121.5h47.95M166.29 187.5h47.95M214.22 202.5h47.95M214.22 240.5h47.95M214.22 305.5h47.95M214.22 323.5h47.95M262.15 70.5h47.95M310.08 261.5h47.95M310.08 263.5h47.95M310.08 272.5h47.95M310.08 278.5h47.95M310.08 284.5h47.95M310.08 286.5h47.95M310.08 289.5h47.95M310.08 369.5h47.95M358.01 276.5h47.95M358.01 312.5h47.95M358.01 376.5h47.95"/>
<path stroke="#1919ff" d="M22.50 173.5h47.95M214.22 254.5h47.95M262.15 67.5h47.95M262.15 74.5h47.95M262.15 236.5h47.95M262.15 244.5h47.95M310.08 105.5h47.95M310.08 297.5h47.95M358.01 221.5h47.95"/>
<path stroke="#2d2dff" d="M22.50 174.5h47.95M70.43 84.5h47.95M262.15 66.5h47.95M262.15 72.5h47.95M262.15 77.5h47.95M262.15 234.5h47.95M310.08 103.5h47.95M310.08 288.5h47.95M310.08 295.5h47.95M310.08 298.5h47.95M310.08 366.5h47.95M310.08 368.5h47.95M310.08 379.5h47.95M358.01 217.5h47.95M358.01 218.5h47.95"/>
<path stroke="#d9d9ff" d="M22.50 195.5h47.95M22.50 198.5h47.95M22.50 270.5h47.95M70.43 89.5h47.95M70.43 94.5h47.95M70.43 106.5h47.95M70.43 201.5h47.95M70.43 216.5h47.95M70.43 366.5h47.95M70.43 367.5h47.95M70.43 368.5h47.95M118.36 100.5h47.95M118.36 170.5h47.95M118.36 195.5h47.95M166.29 75.5h47.95M166.29 193.5h47.95M214.22 70.5h47.95M214.22 192.5h47.95M214.22 212.5h47.95M214.22 232.5h47.95M214.22 233.5h47.95M214.22 257.5h47.95M214.22 338.5h47.95M214.22 351.5h47.95M214.22 360.5h47.95M214.22 376.5h47.95M262.15 259.5h47.95M262.15 275.5h47.95M262.15 287.5h47.95M262.15 323.5h47.95M262.15 336.5h47.95M310.08 111.5h47.95M310.08 241.5h47.95M310.08 242.5h47.95M310.08 250.5h47.95M358.01 103.5h47.95M358.01 163.5h47.95M358.01 257.5h47.95M358.01 322.5h47.95M358.01 356.5h47.95"/>
<path stroke="#ff9999" d="M22.50 201.5h47.95M22.50 280.5h47.95M22.50 307.5h47.95M22.50 316.5h47.95M22.50 338.5h47.95M22.50 345.5h47.95M22.50 361.5h47.95M70.43 251.5h47.95M70.43 266.5h47.95M70.43 269.5h47.95M70.43 285.5h47.95M70.43 289.5h47.95M70.43 327.5h47.95M70.43 328.5h47.95M70.43 344.5h47.95M70.43 360.5h47.95M118.36 75.5h47.95M118.36 225.5h47.95M118.36 244.5h47.95M118.36 272.5h47.95M118.36 276.5h47.95M118.36 279.5h47.95M118.36 291.5h47.95M118.36 296.5h47.95M118.36 297.5h47.95M118.36 311.5h47.95M166.29 87.5h47.95M166.29 222.5h47.95M166.29 223.5h47.95M166.29 242.5h47.95M166.29 251.5h47.95M166.29 257.5h47.95M166.29 331.5h47.95M166.29 343.5h47.95M166.29 377.5h47.95M214.22 71.5h47.95M214.22 88.5h47.95M214.22 126.5h47.95M214.22 160.5h47.95M214.22 183.5h47.95M214.22 184.5h47.95M214.22 188.5h47.95M214.22 215.5h47.95M262.15 97.5h47.95M262.15 122.5h47.95M262.15 127.5h47.95M262.15 131.5h47.95M262.15 140.5h47.95M262.15 193.5h47.95M310.08 129.5h47.95M310.08 134.5h47.95M310.08 155.5h47.95M310.08 158.5h47.95M310.08 163.5h47.95M310.08 166.5h47.95M310.08 216.5h47.95M358.01 84.5h47.95M358.01 120.5h47.95M358.01 126.5h47.95M358.01 128.5h47.95M358.01 129.5h47.95M358.01 131.5h47.95M358.01 134.5h47.95M358.01 180.5h47.95M358.01 187.5h47.95M358.01 210.5h47.95"/>
<path stroke="#ffd9d9" d="M22.50 205.5h47.95M22.50 223.5h47.95M22.50 378.5h47.95M70.43 62.5h47.95M70.43 76.5h47.95M70.43 219.5h47.95M70.43 378.5h47.95M118.36 64.5h47.95M118.36 66.5h47.95M118.36 69.5h47.95M118.36 79.5h47.95M118.36 214.5h47.95M118.36 329.5h47.95M166.29 80.5h47.95M166.29 107.5h47.95M214.22 141.5h47.95M214.22 217.5h47.95M214.22 268.5h47.95M214.22 354.5h47.95M214.22 357.5h47.95M214.22 365.5h47.95M262.15 181.5h47.95M262.15 217.5h47.95M262.15 221.5h47.95M262.15 328.5h47.95M262.15 343.5h47.95M310.08 147.5h47.95M310.08 199.5h47.95M310.08 237.5h47.95M358.01 70.5h47.95M358.01 90.5h47.95M358.01 127.5h47.95"/>
<path stroke="#ffd2d2" d="M22.50 206.5h47.95M22.50 221.5h47.95M22.50 225.5h47.95M22.50 236.5h47.95M22.50 259.5h47.95M22.50 260.5h47.95M22.50 261.5h47.95M22.50 342.5h47.95M70.43 74.5h47.95M70.43 75.5h47.95M70.43 220.5h47.95M70.43 230.5h47.95M70.43 260.5h47.95M118.36 72.5h47.95M118.36 73.5h47.95M118.36 85.5h47.95M118.36 252.5h47.95M118.36 331.5h47.95M166.29 81.5h47.95M166.29 82.5h47.95M166.29 83.5h47.95M166.29 84.5h47.95M166.29 249.5h47.95M166.29 344.5h47.95M166.29 345.5h47.95M214.22 194.5h47.95M214.22 263.5h47.95M214.22 346.5h47.95M214.22 371.5h47.95M262.15 183.5h47.95M262.15 327.5h47.95M262.15 330.5h47.95M310.08 114.5h47.95M310.08 145.5h47.95M310.08 148.5h47.95M310.08 152.5h47.95M310.08 198.5h47.95M310.08 205.5h47.95M310.08 236.5h47.95M358.01 74.5h47.95M358.01 78.5h47.95M358.01 201.5h47.95M358.01 207.5h47.95M358.01 351.5h47.95"/>
<path stroke="#ff9393" d="M22.50 207.5h47.95M22.50 271.5h47.95M22.50 289.5h47.95M22.50 302.5h47.95M22.50 310.5h47.95M22.50 311.5h47.95M22.50 360.5h47.95M22.50 363.5h47.95M70.43 236.5h47.95M70.43 262.5h47.95M70.43 275.5h47.95M70.43 326.5h47.95M70.43 340.5h47.95M70.43 352.5h47.95M70.43 354.5h47.95M70.43 381.5h47.95M118.36 210.5h47.95M118.36 254.5h47.95M118.36 261.5h47.95M118.36 275.5h47.95M118.36 280.5h47.95M118.36 288.5h47.95M118.36 289.5h47.95M118.36 299.5h47.95M118.36 309.5h47.95M166.29 63.5h47.95M166.29 213.5h47.95M166.29 236.5h47.95M166.29 250.5h47.95M166.29 256.5h47.95M166.29 271.5h47.95M166.29 272.5h47.95M166.29 280.5h47.95M166.29 302.5h47.95M166.29 335.5h47.95M214.22 100.5h47.95M214.22 101.5h47.95M214.22 121.5h47.95M214.22 122.5h47.95M214.22 134.5h47.95M214.22 138.5h47.95M214.22 145.5h47.95M214.22 189.5h47.95M262.15 124.5h47.95M262.15 130.5h47.95M262.15 132.5h47.95M262.15 162.5h47.95M262.15 364.5h47.95M310.08 132.5h47.95M310.08 136.5h47.95M310.08 141.5h47.95M310.08 144.5h47.95M310.08 160.5h47.95M310.08 164.5h47.95M358.01 82.5h47.95M358.01 85.5h47.95M358.01 113.5h47.95M358.01 148.5h47.95M358.01 182.5h47.95M358.01 184.5h47.95M358.01 254.5h47.95"/>
<path stroke="#ff8686" d="M22.50 208.5h47.95M22.50 252.5h47.95M22.50 274.5h47.95M22.50 277.5h47.95M22.50 285.5h47.95M22.50 296.5h47.95M22.50 314.5h47.95M22.50 318.5h47.95M70.43 234.5h47.95M70.43 246.5h47.95M70.43 270.5h47.95M70.43 280.5h47.95M70.43 291.5h47.95M70.43 303.5h47.95M70.43 304.5h47.95M70.43 311.5h47.95M70.43 315.5h47.95M70.43 317.5h47.95M118.36 224.5h47.95M118.36 266.5h47.95M118.36 286.5h47.95M118.36 303.5h47.95M118.36 308.5h47.95M118.36 372.5h47.95M166.29 217.5h47.95M166.29 253.5h47.95M166.29 278.5h47.95M166.29 289.5h47.95M166.29 293.5h47.95M166.29 295.5h47.95M166.29 311.5h47.95M166.29 321.5h47.95M166.29 359.5h47.95M214.22 116.5h47.95M214.22 120.5h47.95M214.22 127.5h47.95M214.22 130.5h47.95M214.22 137.5h47.95M214.22 146.5h47.95M214.22 159.5h47.95M214.22 187.5h47.95M214.22 221.5h47.95M262.15 123.5h47.95M262.15 133.5h47.95M262.15 157.5h47.95M262.15 167.5h47.95M262.15 208.5h47.95M262.15 216.5h47.95M310.08 118.5h47.95M310.08 128.5h47.95M310.08 130.5h47.95M310.08 162.5h47.95M310.08 228.5h47.95M358.01 65.5h47.95M358.01 66.5h47.95M358.01 117.5h47.95M358.01 190.5h47.95"/>
<path stroke="#f9f9ff" d="M22.50 209.5h47.95M22.50 232.5h47.95M22.50 258.5h47.95M22.50 266.5h47.95M22.50 267.5h47.95M70.43 255.5h47.95M70.43 372.5h47.95M70.43 373.5h47.95M118.36 350.5h47.95M166.29 106.5h47.95M166.29 356.5h47.95M214.22 62.5h47.95M214.22 68.5h47.95M214.22 98.5h47.95M214.22 205.5h47.95M214.22 266.5h47.95M262.15 172.5h47.95M262.15 174.5h47.95M262.15 195.5h47.95M262.15 361.5h47.95M262.15 369.5h47.95M310.08 156.5h47.95M310.08 201.5h47.95M310.08 214.5h47.95M310.08 247.5h47.95M358.01 108.5h47.95M358.01 109.5h47.95M358.01 200.5h47.95M358.01 225.5h47.95M358.01 230.5h47.95M358.01 231.5h47.95M358.01 232.5h47.95M358.01 353.5h47.95"/>
<path stroke="#f2f2ff" d="M22.50 210.5h47.95M22.50 211.5h47.95M22.50 235.5h47.95M22.50 379.5h47.95M118.36 369.5h47.95M166.29 76.5h47.95M166.29 103.5h47.95M166.29 145.5h47.95M166.29 205.5h47.95M166.29 354.5h47.95M166.29 355.5h47.95M166.29 364.5h47.95M166.29 371.5h47.95M214.22 67.5h47.95M214.22 99.5h47.95M214.22 191.5h47.95M214.22 204.5h47.95M214.22 208.5h47.95M214.22 209.5h47.95M214.22 258.5h47.95M214.22 352.5h47.95M214.22 358.5h47.95M262.15 173.5h47.95M262.15 276.5h47.95M310.08 97.5h47.95M310.08 107.5h47.95M310.08 217.5h47.95M310.08 238.5h47.95M310.08 240.5h47.95M358.01 101.5h47.95M358.01 110.5h47.95M358.01 239.5h47.95M358.01 357.5h47.95"/>
<path stroke="#ff6c6c" d="M22.50 212.5h47.95M22.50 276.5h47.95M22.50 301.5h47.95M22.50 312.5h47.95M70.43 237.5h47.95M70.43 241.5h47.95M70.43 286.5h47.95M70.43 290.5h47.95M70.43 294.5h47.95M70.43 295.5h47.95M70.43 314.5h47.95M70.43 316.5h47.95M118.36 78.5h47.95M118.36 245.5h47.95M118.36 304.5h47.95M166.29 86.5h47.95M166.29 261.5h47.95M166.29 265.5h47.95M166.29 282.5h47.95M166.29 305.5h47.95M166.29 316.5h47.95M166.29 329.5h47.95M214.22 92.5h47.95M214.22 93.5h47.95M214.22 107.5h47.95M214.22 110.5h47.95M214.22 119.5h47.95M214.22 164.5h47.95M262.15 95.5h47.95M262.15 98.5h47.95M262.15 159.5h47.95M262.15 368.5h47.95M262.15 372.5h47.95M310.08 85.5h47.95M310.08 120.5h47.95M310.08 125.5h47.95M310.08 139.5h47.95M358.01 98.5h47.95M358.01 114.5h47.95M358.01 122.5h47.95M358.01 172.5h47.95M358.01 195.5h47.95"/>
<path stroke="#ffecec" d="M22.50 220.5h47.95M22.50 265.5h47.95M70.43 200.5h47.95M70.43 256.5h47.95M118.36 378.5h47.95M166.29 232.5h47.95M166.29 247.5h47.95M214.22 74.5h47.95M214.22 171.5h47.95M214.22 178.5h47.95M214.22 344.5h47.95M214.22 370.5h47.95M262.15 171.5h47.95M262.15 210.5h47.95M262.15 338.5h47.95M262.15 339.5h47.95M310.08 115.5h47.95M310.08 200.5h47.95M358.01 76.5h47.95M358.01 77.5h47.95M358.01 223.5h47.95M358.01 361.5h47.95"/>
<path stroke="#ffe6e6" d="M22.50 224.5h47.95M70.43 87.5h47.95M70.43 358.5h47.95M118.36 67.5h47.95M118.36 87.5h47.95M118.36 321.5h47.95M118.36 327.5h47.95M118.36 328.5h47.95M118.36 332.5h47.95M118.36 333.5h47.95M118.36 373.5h47.95M214.22 262.5h47.95M214.22 363.5h47.95M262.15 64.5h47.95M262.15 189.5h47.95M262.15 202.5h47.95M262.15 352.5h47.95M262.15 358.5h47.95M262.15 363.5h47.95M310.08 146.5h47.95M310.08 245.5h47.95M310.08 246.5h47.95M358.01 146.5h47.95M358.01 199.5h47.95M358.01 209.5h47.95M358.01 212.5h47.95M358.01 227.5h47.95M358.01 359.5h47.95"/>
<path stroke="#ffacac" d="M22.50 237.5h47.95M22.50 243.5h47.95M22.50 315.5h47.95M22.50 373.5h47.95M70.43 274.5h47.95M70.43 278.5h47.95M70.43 332.5h47.95M70.43 338.5h47.95M70.43 345.5h47.95M118.36 217.5h47.95M118.36 218.5h47.95M118.36 250.5h47.95M118.36 251.5h47.95M118.36 270.5h47.95M118.36 271.5h47.95M118.36 284.5h47.95M118.36 287.5h47.95M118.36 317.5h47.95M118.36 325.5h47.95M118.36 334.5h47.95M118.36 335.5h47.95M118.36 340.5h47.95M118.36 342.5h47.95M166.29 211.5h47.95M166.29 214.5h47.95M166.29 218.5h47.95M166.29 234.5h47.95M166.29 235.5h47.95M166.29 238.5h47.95M166.29 273.5h47.95M166.29 300.5h47.95M166.29 326.5h47.95M166.29 332.5h47.95M166.29 333.5h47.95M166.29 334.5h47.95M166.29 346.5h47.95M166.29 347.5h47.95M166.29 350.5h47.95M166.29 361.5h47.95M214.22 76.5h47.95M214.22 219.5h47.95M214.22 375.5h47.95M262.15 194.5h47.95M310.08 138.5h47.95M310.08 257.5h47.95M358.01 130.5h47.95M358.01 165.5h47.95M358.01 167.5h47.95M358.01 179.5h47.95M358.01 189.5h47.95M358.01 193.5h47.95M358.01 251.5h47.95M358.01 350.5h47.95"/>
<path stroke="#ffc6c6" d="M22.50 238.5h47.95M22.50 240.5h47.95M22.50 278.5h47.95M22.50 349.5h47.95M22.50 377.5h47.95M70.43 61.5h47.95M70.43 229.5h47.95M70.43 377.5h47.95M118.36 80.5h47.95M118.36 83.5h47.95M118.36 84.5h47.95M118.36 201.5h47.95M118.36 323.5h47.95M118.36 326.5h47.95M118.36 377.5h47.95M166.29 85.5h47.95M166.29 202.5h47.95M166.29 233.5h47.95M166.29 244.5h47.95M166.29 337.5h47.95M214.22 193.5h47.95M214.22 218.5h47.95M214.22 355.5h47.95M262.15 215.5h47.95M262.15 218.5h47.95M262.15 326.5h47.95M262.15 329.5h47.95M262.15 341.5h47.95M262.15 342.5h47.95M262.15 345.5h47.95M310.08 86.5h47.95M310.08 256.5h47.95M358.01 80.5h47.95M358.01 192.5h47.95M358.01 252.5h47.95M358.01 366.5h47.95"/>
<path stroke="#ff8c8c" d="M22.50 242.5h47.95M22.50 251.5h47.95M22.50 272.5h47.95M22.50 295.5h47.95M22.50 298.5h47.95M22.50 303.5h47.95M22.50 304.5h47.95M70.43 240.5h47.95M70.43 247.5h47.95M70.43 248.5h47.95M70.43 252.5h47.95M70.43 267.5h47.95M70.43 281.5h47.95M70.43 283.5h47.95M70.43 299.5h47.95M70.43 310.5h47.95M70.43 333.5h47.95M70.43 335.5h47.95M70.43 337.5h47.95M70.43 341.5h47.95M118.36 241.5h47.95M118.36 249.5h47.95M118.36 274.5h47.95M118.36 313.5h47.95M166.29 216.5h47.95M166.29 239.5h47.95M166.29 252.5h47.95M166.29 259.5h47.95M166.29 260.5h47.95M166.29 267.5h47.95M166.29 274.5h47.95M166.29 277.5h47.95M166.29 279.5h47.95M166.29 284.5h47.95M166.29 296.5h47.95M166.29 297.5h47.95M166.29 299.5h47.95M166.29 303.5h47.95M166.29 323.5h47.95M166.29 341.5h47.95M214.22 97.5h47.95M214.22 114.5h47.95M214.22 117.5h47.95M214.22 118.5h47.95M214.22 123.5h47.95M214.22 173.5h47.95M214.22 175.5h47.95M214.22 186.5h47.95M214.22 216.5h47.95M262.15 116.5h47.95M262.15 126.5h47.95M262.15 128.5h47.95M262.15 135.5h47.95M262.15 136.5h47.95M262.15 139.5h47.95M262.15 142.5h47.95M262.15 144.5h47.95M262.15 158.5h47.95M262.15 206.5h47.95M310.08 131.5h47.95M310.08 161.5h47.95M310.08 165.5h47.95M358.01 86.5h47.95M358.01 97.5h47.95M358.01 119.5h47.95M358.01 123.5h47.95M358.01 136.5h47.95M358.01 140.5h47.95M358.01 143.5h47.95M358.01 150.5h47.95M358.01 181.5h47.95M358.01 185.5h47.95M358.01 188.5h47.95"/>
<path stroke="#ff5353" d="M22.50 249.5h47.95M70.43 321.5h47.95M70.43 370.5h47.95M118.36 269.5h47.95M166.29 264.5h47.95M166.29 306.5h47.95M166.29 308.5h47.95M166.29 315.5h47.95M166.29 330.5h47.95M214.22 90.5h47.95M214.22 96.5h47.95M214.22 148.5h47.95M214.22 154.5h47.95M214.22 163.5h47.95M262.15 91.5h47.95M262.15 112.5h47.95M262.15 356.5h47.95M262.15 375.5h47.95M262.15 380.5h47.95M262.15 381.5h47.95M310.08 61.5h47.95M310.08 83.5h47.95M310.08 116.5h47.95M310.08 223.5h47.95M310.08 232.5h47.95M358.01 196.5h47.95"/>
<path stroke="#ff7373" d="M22.50 253.5h47.95M22.50 300.5h47.95M22.50 368.5h47.95M70.43 238.5h47.95M70.43 242.5h47.95M70.43 244.5h47.95M70.43 249.5h47.95M70.43 276.5h47.95M70.43 282.5h47.95M70.43 297.5h47.95M70.43 305.5h47.95M70.43 353.5h47.95M118.36 76.5h47.95M118.36 77.5h47.95M118.36 240.5h47.95M118.36 242.5h47.95M118.36 267.5h47.95M118.36 346.5h47.95M118.36 348.5h47.95M166.29 208.5h47.95M166.29 262.5h47.95M166.29 276.5h47.95M166.29 286.5h47.95M166.29 294.5h47.95M166.29 313.5h47.95M214.22 64.5h47.95M214.22 72.5h47.95M214.22 113.5h47.95M214.22 131.5h47.95M214.22 133.5h47.95M214.22 156.5h47.95M214.22 165.5h47.95M214.22 174.5h47.95M214.22 198.5h47.95M214.22 199.5h47.95M214.22 200.5h47.95M214.22 374.5h47.95M262.15 94.5h47.95M262.15 96.5h47.95M262.15 114.5h47.95M262.15 115.5h47.95M262.15 117.5h47.95M262.15 125.5h47.95M262.15 129.5h47.95M262.15 155.5h47.95M262.15 207.5h47.95M262.15 367.5h47.95M310.08 122.5h47.95M310.08 124.5h47.95M310.08 225.5h47.95M358.01 68.5h47.95M358.01 194.5h47.95"/>
<path stroke="#ff7979" d="M22.50 273.5h47.95M22.50 284.5h47.95M22.50 305.5h47.95M22.50 313.5h47.95M22.50 341.5h47.95M22.50 367.5h47.95M22.50 369.5h47.95M70.43 233.5h47.95M70.43 243.5h47.95M70.43 245.5h47.95M70.43 265.5h47.95M70.43 271.5h47.95M70.43 277.5h47.95M70.43 279.5h47.95M70.43 288.5h47.95M70.43 292.5h47.95M70.43 302.5h47.95M70.43 347.5h47.95M70.43 369.5h47.95M70.43 379.5h47.95M118.36 222.5h47.95M118.36 229.5h47.95M118.36 230.5h47.95M118.36 231.5h47.95M118.36 232.5h47.95M118.36 233.5h47.95M118.36 248.5h47.95M118.36 263.5h47.95M118.36 306.5h47.95M118.36 307.5h47.95M118.36 371.5h47.95M166.29 283.5h47.95M166.29 285.5h47.95M166.29 309.5h47.95M166.29 318.5h47.95M166.29 324.5h47.95M166.29 351.5h47.95M166.29 357.5h47.95M214.22 63.5h47.95M214.22 91.5h47.95M214.22 115.5h47.95M214.22 128.5h47.95M214.22 143.5h47.95M214.22 158.5h47.95M262.15 118.5h47.95M262.15 119.5h47.95M262.15 143.5h47.95M262.15 152.5h47.95M262.15 156.5h47.95M262.15 166.5h47.95M262.15 365.5h47.95M262.15 379.5h47.95M310.08 133.5h47.95M310.08 193.5h47.95M310.08 196.5h47.95M310.08 229.5h47.95M310.08 231.5h47.95M358.01 95.5h47.95M358.01 115.5h47.95M358.01 121.5h47.95M358.01 151.5h47.95M358.01 153.5h47.95M358.01 154.5h47.95M358.01 155.5h47.95M358.01 156.5h47.95M358.01 157.5h47.95M358.01 171.5h47.95M358.01 174.5h47.95M358.01 183.5h47.95"/>
<path stroke="#ff6060" d="M22.50 287.5h47.95M22.50 291.5h47.95M22.50 293.5h47.95M22.50 294.5h47.95M22.50 321.5h47.95M70.43 293.5h47.95M70.43 312.5h47.95M70.43 319.5h47.95M118.36 228.5h47.95M118.36 234.5h47.95M118.36 237.5h47.95M118.36 264.5h47.95M118.36 268.5h47.95M118.36 281.5h47.95M214.22 95.5h47.95M214.22 125.5h47.95M214.22 155.5h47.95M262.15 107.5h47.95M262.15 137.5h47.95M262.15 145.5h47.95M262.15 146.5h47.95M262.15 377.5h47.95M310.08 126.5h47.95M358.01 67.5h47.95M358.01 137.5h47.95"/>
<path stroke="#ff4040" d="M22.50 323.5h47.95M22.50 336.5h47.95M214.22 94.5h47.95M214.22 105.5h47.95M262.15 90.5h47.95M262.15 374.5h47.95M310.08 172.5h47.95M310.08 185.5h47.95M310.08 192.5h47.95M358.01 197.5h47.95"/>
<path stroke="#ff3939" d="M22.50 328.5h47.95M22.50 355.5h47.95M22.50 365.5h47.95M214.22 111.5h47.95M262.15 92.5h47.95M262.15 105.5h47.95M310.08 169.5h47.95M310.08 182.5h47.95M358.01 169.5h47.95"/>
<path stroke="#ff4646" d="M22.50 329.5h47.95M22.50 337.5h47.95M22.50 352.5h47.95M262.15 149.5h47.95M262.15 373.5h47.95M262.15 378.5h47.95M310.08 77.5h47.95M310.08 170.5h47.95M310.08 191.5h47.95"/>
<path stroke="#ff2626" d="M22.50 330.5h47.95M310.08 73.5h47.95M310.08 183.5h47.95"/>
<path stroke="#ff2d2d" d="M22.50 331.5h47.95M22.50 350.5h47.95M262.15 103.5h47.95M262.15 150.5h47.95M310.08 62.5h47.95M310.08 190.5h47.95"/>
<path stroke="#ff6666" d="M22.50 332.5h47.95M22.50 340.5h47.95M70.43 264.5h47.95M70.43 300.5h47.95M70.43 313.5h47.95M70.43 320.5h47.95M70.43 349.5h47.95M118.36 227.5h47.95M166.29 281.5h47.95M166.29 310.5h47.95M166.29 317.5h47.95M214.22 103.5h47.95M214.22 109.5h47.95M214.22 112.5h47.95M214.22 132.5h47.95M214.22 144.5h47.95M214.22 149.5h47.95M214.22 150.5h47.95M214.22 151.5h47.95M214.22 157.5h47.95M262.15 113.5h47.95M262.15 147.5h47.95M262.15 151.5h47.95M262.15 212.5h47.95M262.15 366.5h47.95M310.08 82.5h47.95M310.08 84.5h47.95M310.08 143.5h47.95M310.08 197.5h47.95M310.08 224.5h47.95M358.01 141.5h47.95M358.01 168.5h47.95M358.01 170.5h47.95M358.01 363.5h47.95"/>
<path stroke="#ff1313" d="M22.50 334.5h47.95M310.08 180.5h47.95M310.08 187.5h47.95"/>
<path stroke="#ff3333" d="M22.50 335.5h47.95M22.50 364.5h47.95M262.15 104.5h47.95M262.15 111.5h47.95M310.08 64.5h47.95M310.08 78.5h47.95M310.08 81.5h47.95M310.08 181.5h47.95M310.08 186.5h47.95M358.01 158.5h47.95M358.01 160.5h47.95"/>
<path stroke="#ff1919" d="M22.50 353.5h47.95M70.43 350.5h47.95M310.08 66.5h47.95M310.08 69.5h47.95"/>
<path stroke="#6060ff" d="M70.43 70.5h47.95M70.43 142.5h47.95M70.43 158.5h47.95M70.43 193.5h47.95M118.36 89.5h47.95M118.36 126.5h47.95M118.36 135.5h47.95M118.36 148.5h47.95M118.36 191.5h47.95M166.29 136.5h47.95M166.29 155.5h47.95M166.29 159.5h47.95M166.29 175.5h47.95M214.22 224.5h47.95M214.22 225.5h47.95M214.22 246.5h47.95M214.22 302.5h47.95M262.15 87.5h47.95M262.15 301.5h47.95M310.08 89.5h47.95M310.08 271.5h47.95M310.08 277.5h47.95M310.08 293.5h47.95M310.08 348.5h47.95M358.01 233.5h47.95M358.01 237.5h47.95M358.01 277.5h47.95M358.01 297.5h47.95M358.01 309.5h47.95M358.01 310.5h47.95M358.01 314.5h47.95M358.01 315.5h47.95"/>
<path stroke="#ffffff" d="M70.43 77.5h47.95M70.43 79.5h47.95M70.43 86.5h47.95M70.43 375.5h47.95M118.36 374.5h47.95M118.36 379.5h47.95M166.29 231.5h47.95M214.22 179.5h47.95M262.15 184.5h47.95M262.15 185.5h47.95M262.15 333.5h47.95M262.15 362.5h47.95M310.08 87.5h47.95M310.08 96.5h47.95M310.08 249.5h47.95M310.08 259.5h47.95M358.01 102.5h47.95M358.01 107.5h47.95M358.01 175.5h47.95M358.01 178.5h47.95M358.01 360.5h47.95"/>
<path stroke="#4646ff" d="M70.43 114.5h47.95M118.36 365.5h47.95M166.29 135.5h47.95M166.29 156.5h47.95M262.15 235.5h47.95M310.08 279.5h47.95M310.08 283.5h47.95M310.08 285.5h47.95M310.08 337.5h47.95M310.08 378.5h47.95M358.01 259.5h47.95M358.01 381.5h47.95"/>
<path stroke="#0d0dff" d="M166.29 194.5h47.95M166.29 195.5h47.95M262.15 80.5h47.95M310.08 104.5h47.95M310.08 294.5h47.95M310.08 339.5h47.95M310.08 340.5h47.95M310.08 354.5h47.95M310.08 357.5h47.95"/>
<path stroke="#1313ff" d="M166.29 200.5h47.95M262.15 73.5h47.95M262.15 227.5h47.95M262.15 231.5h47.95M262.15 237.5h47.95M262.15 240.5h47.95M262.15 241.5h47.95M310.08 326.5h47.95M310.08 328.5h47.95M310.08 336.5h47.95M310.08 338.5h47.95M310.08 380.5h47.95M358.01 219.5h47.95M358.01 380.5h47.95"/>
<path stroke="#0000ff" d="M214.22 255.5h47.95M262.15 78.5h47.95M262.15 81.5h47.95M262.15 224.5h47.95M262.15 226.5h47.95M262.15 228.5h47.95M262.15 229.5h47.95M262.15 230.5h47.95M310.08 327.5h47.95M310.08 329.5h47.95M310.08 330.5h47.95M310.08 331.5h47.95M310.08 343.5h47.95M310.08 344.5h47.95M310.08 347.5h47.95M310.08 352.5h47.95M310.08 353.5h47.95M310.08 355.5h47.95M310.08 356.5h47.95M310.08 358.5h47.95M310.08 360.5h47.95M310.08 361.5h47.95M310.08 365.5h47.95"/>
<path stroke="#0606ff" d="M262.15 79.5h47.95M262.15 225.5h47.95M358.01 264.5h47.95"/>
<path stroke="#ff0000" d="M262.15 99.5h47.95M262.15 100.5h47.95M262.15 101.5h47.95M262.15 102.5h47.95M310.08 67.5h47.95M310.08 71.5h47.95M310.08 72.5h47.95M310.08 79.5h47.95M310.08 174.5h47.95M310.08 175.5h47.95M310.08 178.5h47.95M358.01 202.5h47.95M358.01 203.5h47.95M358.01 204.5h47.95M358.01 205.5h47.95"/>
<path stroke="#ff2020" d="M310.08 65.5h47.95M310.08 184.5h47.95M358.01 206.5h47.95"/>
<path stroke="#ff0d0d" d="M310.08 68.5h47.95M310.08 80.5h47.95M310.08 173.5h47.95M310.08 176.5h47.95M310.08 177.5h47.95M310.08 179.5h47.95"/>
<path stroke="#ff0606" d="M310.08 70.5h47.95M310.08 188.5h47.95"/></g>
</g>
<rect x="22.3" y="21.6" width="384.4" height="360.1" fill="none" stroke="#111" stroke-width="1.05"/>
<g stroke="#1c1c1c" stroke-width="0.95" fill="none" stroke-linecap="square">
<line x1="199.3" y1="21.5" x2="199.3" y2="30"/>
<line x1="88.7" y1="30" x2="310" y2="30"/>
<line x1="88.7" y1="30" x2="88.7" y2="38.7"/>
<line x1="310" y1="30" x2="310" y2="46.3"/>
<line x1="46.7" y1="38.7" x2="130.5" y2="38.7"/>
<line x1="46.7" y1="38.7" x2="46.7" y2="61.3"/>
<line x1="130.5" y1="38.7" x2="130.5" y2="46.3"/>
<line x1="94.8" y1="46.3" x2="166.7" y2="46.3"/>
<line x1="94.8" y1="46.3" x2="94.8" y2="61.3"/>
<line x1="166.7" y1="46.3" x2="166.7" y2="53.8"/>
<line x1="142.5" y1="53.8" x2="190.7" y2="53.8"/>
<line x1="142.5" y1="53.8" x2="142.5" y2="61.3"/>
<line x1="190.7" y1="53.8" x2="190.7" y2="61.3"/>
<line x1="262.5" y1="46.3" x2="358.3" y2="46.3"/>
<line x1="262.5" y1="46.3" x2="262.5" y2="53.8"/>
<line x1="358.3" y1="46.3" x2="358.3" y2="53.8"/>
<line x1="238.7" y1="53.8" x2="286.3" y2="53.8"/>
<line x1="238.7" y1="53.8" x2="238.7" y2="61.3"/>
<line x1="286.3" y1="53.8" x2="286.3" y2="61.3"/>
<line x1="334.3" y1="53.8" x2="382.5" y2="53.8"/>
<line x1="334.3" y1="53.8" x2="334.3" y2="61.3"/>
<line x1="382.5" y1="53.8" x2="382.5" y2="61.3"/>
</g>
<defs><linearGradient id="cb" x1="0" y1="0" x2="0" y2="1">
<stop offset="0" stop-color="#ff0000"/><stop offset="0.5" stop-color="#ffffff"/><stop offset="1" stop-color="#0000ff"/></linearGradient></defs>
<rect x="425" y="21.2" width="53.8" height="191.4" fill="#fff" stroke="#111" stroke-width="1.1"/>
<rect x="433.6" y="28.85" width="12.2" height="176.65" fill="url(#cb)"/>
<line x1="445.8" y1="28.85" x2="452.4" y2="28.85" stroke="#222" stroke-width="0.85"/>
<text class="bd" x="458.5" y="31.25" font-size="6.8" fill="#000" textLength="8.8" lengthAdjust="spacingAndGlyphs">2.0</text>
<line x1="445.8" y1="37.68" x2="448.2" y2="37.68" stroke="#222" stroke-width="0.85"/>
<text class="bd" x="458.5" y="40.08" font-size="6.8" fill="#000" textLength="8.8" lengthAdjust="spacingAndGlyphs">1.8</text>
<line x1="445.8" y1="46.52" x2="448.2" y2="46.52" stroke="#222" stroke-width="0.85"/>
<text class="bd" x="458.5" y="48.91" font-size="6.8" fill="#000" textLength="8.8" lengthAdjust="spacingAndGlyphs">1.6</text>
<line x1="445.8" y1="55.35" x2="448.2" y2="55.35" stroke="#222" stroke-width="0.85"/>
<text class="bd" x="458.5" y="57.75" font-size="6.8" fill="#000" textLength="8.8" lengthAdjust="spacingAndGlyphs">1.4</text>
<line x1="445.8" y1="64.18" x2="448.2" y2="64.18" stroke="#222" stroke-width="0.85"/>
<text class="bd" x="458.5" y="66.58" font-size="6.8" fill="#000" textLength="8.8" lengthAdjust="spacingAndGlyphs">1.2</text>
<line x1="445.8" y1="73.01" x2="452.4" y2="73.01" stroke="#222" stroke-width="0.85"/>
<text class="bd" x="458.5" y="75.41" font-size="6.8" fill="#000" textLength="8.8" lengthAdjust="spacingAndGlyphs">1.0</text>
<line x1="445.8" y1="81.84" x2="448.2" y2="81.84" stroke="#222" stroke-width="0.85"/>
<text class="bd" x="458.5" y="84.25" font-size="6.8" fill="#000" textLength="8.8" lengthAdjust="spacingAndGlyphs">0.8</text>
<line x1="445.8" y1="90.68" x2="448.2" y2="90.68" stroke="#222" stroke-width="0.85"/>
<text class="bd" x="458.5" y="93.08" font-size="6.8" fill="#000" textLength="8.8" lengthAdjust="spacingAndGlyphs">0.6</text>
<line x1="445.8" y1="99.51" x2="448.2" y2="99.51" stroke="#222" stroke-width="0.85"/>
<text class="bd" x="458.5" y="101.91" font-size="6.8" fill="#000" textLength="8.8" lengthAdjust="spacingAndGlyphs">0.4</text>
<line x1="445.8" y1="108.34" x2="448.2" y2="108.34" stroke="#222" stroke-width="0.85"/>
<text class="bd" x="458.5" y="110.74" font-size="6.8" fill="#000" textLength="8.8" lengthAdjust="spacingAndGlyphs">0.2</text>
<line x1="445.8" y1="117.18" x2="452.4" y2="117.18" stroke="#222" stroke-width="0.85"/>
<text class="bd" x="458.5" y="119.58" font-size="6.8" fill="#000" textLength="8.8" lengthAdjust="spacingAndGlyphs">0.0</text>
<line x1="445.8" y1="126.01" x2="448.2" y2="126.01" stroke="#222" stroke-width="0.85"/>
<text class="bd" x="458.5" y="128.41" font-size="6.8" fill="#000" textLength="10.6" lengthAdjust="spacingAndGlyphs">-0.2</text>
<line x1="445.8" y1="134.84" x2="448.2" y2="134.84" stroke="#222" stroke-width="0.85"/>
<text class="bd" x="458.5" y="137.24" font-size="6.8" fill="#000" textLength="10.6" lengthAdjust="spacingAndGlyphs">-0.4</text>
<line x1="445.8" y1="143.67" x2="448.2" y2="143.67" stroke="#222" stroke-width="0.85"/>
<text class="bd" x="458.5" y="146.07" font-size="6.8" fill="#000" textLength="10.6" lengthAdjust="spacingAndGlyphs">-0.6</text>
<line x1="445.8" y1="152.50" x2="448.2" y2="152.50" stroke="#222" stroke-width="0.85"/>
<text class="bd" x="458.5" y="154.91" font-size="6.8" fill="#000" textLength="10.6" lengthAdjust="spacingAndGlyphs">-0.8</text>
<line x1="445.8" y1="161.34" x2="452.4" y2="161.34" stroke="#222" stroke-width="0.85"/>
<text class="bd" x="458.5" y="163.74" font-size="6.8" fill="#000" textLength="10.6" lengthAdjust="spacingAndGlyphs">-1.0</text>
<line x1="445.8" y1="170.17" x2="448.2" y2="170.17" stroke="#222" stroke-width="0.85"/>
<text class="bd" x="458.5" y="172.57" font-size="6.8" fill="#000" textLength="10.6" lengthAdjust="spacingAndGlyphs">-1.2</text>
<line x1="445.8" y1="179.00" x2="448.2" y2="179.00" stroke="#222" stroke-width="0.85"/>
<text class="bd" x="458.5" y="181.40" font-size="6.8" fill="#000" textLength="10.6" lengthAdjust="spacingAndGlyphs">-1.4</text>
<line x1="445.8" y1="187.84" x2="448.2" y2="187.84" stroke="#222" stroke-width="0.85"/>
<text class="bd" x="458.5" y="190.24" font-size="6.8" fill="#000" textLength="10.6" lengthAdjust="spacingAndGlyphs">-1.6</text>
<line x1="445.8" y1="196.67" x2="448.2" y2="196.67" stroke="#222" stroke-width="0.85"/>
<text class="bd" x="458.5" y="199.07" font-size="6.8" fill="#000" textLength="10.6" lengthAdjust="spacingAndGlyphs">-1.8</text>
<line x1="445.8" y1="205.50" x2="452.4" y2="205.50" stroke="#222" stroke-width="0.85"/>
<text class="bd" x="458.5" y="207.90" font-size="6.8" fill="#000" textLength="10.6" lengthAdjust="spacingAndGlyphs">-2.0</text>
<text class="bd" x="50.10" y="394.30" font-size="8.3" text-anchor="middle" fill="#111" textLength="3.90" lengthAdjust="spacingAndGlyphs">1</text>
<text class="bd" x="94.60" y="394.30" font-size="8.3" text-anchor="middle" fill="#111" textLength="3.90" lengthAdjust="spacingAndGlyphs">2</text>
<text class="bd" x="151.80" y="394.30" font-size="8.3" text-anchor="middle" fill="#111" textLength="3.90" lengthAdjust="spacingAndGlyphs">1</text>
<text class="bd" x="195.80" y="394.30" font-size="8.3" text-anchor="middle" fill="#111" textLength="3.90" lengthAdjust="spacingAndGlyphs">2</text>
<text class="bd" x="247.60" y="394.30" font-size="8.3" text-anchor="middle" fill="#111" textLength="3.90" lengthAdjust="spacingAndGlyphs">1</text>
<text class="bd" x="288.40" y="394.30" font-size="8.3" text-anchor="middle" fill="#111" textLength="3.90" lengthAdjust="spacingAndGlyphs">2</text>
<text class="bd" x="338.10" y="394.30" font-size="8.3" text-anchor="middle" fill="#111" textLength="3.90" lengthAdjust="spacingAndGlyphs">1</text>
<text class="bd" x="385.10" y="394.30" font-size="8.3" text-anchor="middle" fill="#111" textLength="3.90" lengthAdjust="spacingAndGlyphs">2</text>
<line x1="23" y1="399.6" x2="113.3" y2="399.6" stroke="#3a3a3a" stroke-width="1.1"/>
<line x1="121.7" y1="399.6" x2="211.7" y2="399.6" stroke="#3a3a3a" stroke-width="1.1"/>
<line x1="218" y1="399.6" x2="308.3" y2="399.6" stroke="#3a3a3a" stroke-width="1.1"/>
<line x1="313.3" y1="399.6" x2="405" y2="399.6" stroke="#3a3a3a" stroke-width="1.1"/>
<text class="bd" x="45.00" y="416.80" font-size="11.2" text-anchor="start" fill="#111" textLength="46.20" lengthAdjust="spacingAndGlyphs">Untreated</text>
<text class="bd" x="149.30" y="416.80" font-size="11.2" text-anchor="start" fill="#111" textLength="24.00" lengthAdjust="spacingAndGlyphs">MKL1</text>
<text class="bd" x="174.30" y="413.10" font-size="8.5" text-anchor="start" fill="#111" textLength="10.20" lengthAdjust="spacingAndGlyphs">OE</text>
<text class="bd" x="251.30" y="416.80" font-size="11.2" text-anchor="start" fill="#111" textLength="23.20" lengthAdjust="spacingAndGlyphs">TPA+</text>
<text class="bd" x="329.30" y="416.80" font-size="11.2" text-anchor="start" fill="#111" textLength="24.00" lengthAdjust="spacingAndGlyphs">MKL1</text>
<text class="bd" x="354.50" y="413.10" font-size="8.5" text-anchor="start" fill="#111" textLength="10.30" lengthAdjust="spacingAndGlyphs">OE</text>
<text class="bd" x="365.60" y="416.80" font-size="11.2" text-anchor="start" fill="#111" textLength="22.00" lengthAdjust="spacingAndGlyphs">TPA+</text>
<text x="9.23" y="20.3" font-size="15.1" fill="#000" textLength="8.66" lengthAdjust="spacingAndGlyphs">A</text>
<text x="9.64" y="442.3" font-size="15.1" fill="#000" textLength="8.46" lengthAdjust="spacingAndGlyphs">B</text>
<text x="188.15" y="442.5" font-size="15.1" fill="#000" textLength="9.81" lengthAdjust="spacingAndGlyphs">C</text>
<text x="358.80" y="442.3" font-size="15.1" fill="#000" textLength="10.58" lengthAdjust="spacingAndGlyphs">D</text>
<text x="9.39" y="621.9" font-size="15.1" fill="#000" textLength="8.46" lengthAdjust="spacingAndGlyphs">E</text>
<text x="188.74" y="621.9" font-size="15.1" fill="#000" textLength="8.12" lengthAdjust="spacingAndGlyphs">F</text>
<text x="359.37" y="622.0" font-size="15.1" fill="#000" textLength="10.81" lengthAdjust="spacingAndGlyphs">G</text>
<g id="pB">
<rect x="39.6" y="460.2" width="131.20" height="112.10" fill="#ebebeb"/>
<path d="M57.52 460.2V572.3M81.38 460.2V572.3M105.22 460.2V572.3M129.07 460.2V572.3M152.92 460.2V572.3M39.6 560.02H170.8M39.6 545.46H170.8M39.6 530.90H170.8M39.6 516.34H170.8M39.6 501.78H170.8M39.6 487.22H170.8M39.6 472.66H170.8" stroke="#f3f3f3" stroke-width="0.5" fill="none"/>
<path d="M45.60 460.2V572.3M69.45 460.2V572.3M93.30 460.2V572.3M117.15 460.2V572.3M141.00 460.2V572.3M164.85 460.2V572.3M39.6 567.30H170.8M39.6 552.74H170.8M39.6 538.18H170.8M39.6 523.62H170.8M39.6 509.06H170.8M39.6 494.50H170.8M39.6 479.94H170.8M39.6 465.38H170.8" stroke="#fafafa" stroke-width="0.6" fill="none"/>
<path d="M88.53 460.2V572.3M98.07 460.2V572.3M39.6 567.13H170.8" stroke="#666" stroke-width="0.9" stroke-dasharray="1.2 1.5" fill="none"/>
<path d="M88.34 567.30L88.34 555.65L88.69 555.65L89.05 555.65L89.40 555.65L89.76 555.65L90.11 557.02L90.47 558.81L90.82 560.39L91.17 561.76L91.53 562.92L91.88 563.87L92.24 564.60L92.59 565.13L92.95 565.45L93.30 565.55L93.65 565.45L94.01 565.13L94.36 564.60L94.72 563.87L95.07 562.92L95.43 561.76L95.78 560.39L96.13 558.81L96.49 557.02L96.84 555.65L97.20 555.65L97.55 555.65L97.91 555.65L98.26 555.65L98.26 567.30Z" fill="#00fa00" stroke="#00fa00" stroke-width="0.8" stroke-linejoin="round"/>
<path d="M78.2 557.2h0M81.8 563.8h0M81.8 565.9h0M85.1 558.8h0M83.7 561.4h0M77.2 560.9h0M85.9 565.5h0M86.3 561.8h0M85.1 564.5h0M87.8 566.3h0M86.4 556.9h0M80.3 564.1h0M85.5 563.7h0M83.9 564.6h0M83.5 564.3h0M84.3 562.8h0M80.9 561.6h0M87.5 564.6h0M85.8 549.5h0M88.0 564.0h0M84.5 563.9h0M86.4 563.0h0M87.6 566.9h0M87.1 563.0h0M87.6 566.1h0M83.5 565.9h0M79.0 563.9h0M86.0 561.6h0M82.1 559.2h0M85.6 562.7h0M80.0 560.2h0M85.6 551.5h0M87.4 565.8h0M83.9 555.0h0M79.8 533.6h0M79.8 561.4h0M80.9 562.0h0M82.3 541.4h0M81.8 562.4h0M78.8 559.4h0M83.1 560.0h0M80.9 541.7h0M84.8 552.1h0M84.7 566.8h0M87.1 565.0h0M84.6 549.2h0M84.0 566.1h0M81.1 562.9h0M83.6 563.9h0M86.1 548.8h0M84.6 565.9h0M85.4 564.6h0M84.3 547.8h0M86.0 563.6h0M84.6 554.7h0M85.2 562.0h0M87.4 564.8h0M86.2 552.1h0M83.1 556.3h0M87.5 566.1h0M87.7 566.0h0M84.6 560.6h0M81.9 553.2h0M86.8 557.9h0M83.1 560.2h0M83.6 560.4h0M85.3 566.5h0M82.5 565.0h0M83.4 546.7h0M86.8 563.2h0M77.8 565.1h0M82.9 557.9h0M84.9 562.0h0M84.8 558.8h0M87.1 555.3h0M84.3 556.1h0M76.8 561.3h0M81.6 563.2h0M86.8 559.3h0M85.7 563.5h0M80.6 549.2h0M80.8 537.5h0M86.8 565.3h0M84.5 563.2h0M86.3 563.5h0M82.3 556.2h0M83.8 544.7h0M87.6 558.2h0M84.0 549.4h0M80.5 563.9h0M85.6 565.9h0M86.1 558.8h0M83.5 564.2h0M84.1 549.4h0M82.1 563.1h0M86.2 549.4h0M87.5 566.3h0M80.1 557.2h0M84.0 566.1h0M84.6 559.1h0M83.9 553.9h0M87.3 561.4h0M84.1 562.2h0M85.5 564.2h0M85.8 562.3h0M85.1 555.7h0M80.6 529.9h0M82.8 566.1h0M86.2 562.7h0M82.7 543.8h0M86.1 566.9h0M82.8 560.5h0M81.9 560.1h0M81.8 557.0h0M84.4 556.6h0M82.1 542.6h0M87.1 564.8h0M85.2 565.7h0M84.0 564.0h0M84.1 550.9h0M84.1 554.4h0M86.6 559.3h0M80.2 562.3h0M85.5 558.9h0M86.2 562.1h0M86.4 558.6h0M80.7 556.0h0M76.9 541.0h0M82.4 559.8h0M86.3 549.1h0M85.8 549.1h0M87.0 562.8h0M77.5 541.7h0M86.2 558.3h0M84.9 563.7h0M81.2 537.4h0M85.4 560.5h0M79.8 554.4h0M87.9 566.9h0M85.7 565.2h0M86.5 558.6h0M84.9 555.8h0M86.8 559.5h0M85.0 565.1h0M86.5 562.3h0M84.9 565.8h0M81.3 562.1h0M86.6 565.4h0M82.8 564.0h0M84.1 559.4h0M79.2 558.8h0M87.8 566.1h0M85.1 563.4h0M85.6 560.2h0M86.4 565.9h0M84.3 559.2h0M83.7 550.5h0M86.6 550.7h0M86.9 559.0h0M82.9 554.2h0M84.7 562.4h0M83.4 543.4h0M85.4 564.2h0M86.8 548.5h0M84.7 563.1h0M78.7 541.2h0M86.8 562.6h0M85.5 565.7h0M81.1 564.5h0M78.7 555.2h0M83.2 562.8h0M84.4 560.8h0M86.0 548.2h0M85.7 552.9h0M83.3 561.1h0M85.5 566.9h0M85.0 558.4h0M86.1 550.3h0M86.8 552.5h0M85.5 562.4h0M84.0 557.5h0M85.1 563.4h0M85.3 559.2h0M85.7 559.7h0M83.2 560.6h0M82.2 558.7h0M85.7 564.8h0M86.5 557.7h0M84.7 549.8h0M82.4 564.4h0M81.4 561.6h0M81.8 555.2h0M85.4 564.6h0M85.2 554.8h0M84.6 558.2h0M87.1 561.3h0M84.2 559.9h0M83.1 563.3h0M81.8 562.8h0M84.9 564.8h0M85.6 559.5h0M81.3 536.9h0M87.0 559.0h0M82.9 564.7h0M80.6 532.4h0M86.6 564.2h0M85.5 563.6h0M84.7 565.2h0M85.8 556.3h0M85.7 565.0h0M84.3 564.6h0M82.2 552.8h0M85.6 561.6h0M80.5 546.6h0M84.2 545.5h0M83.4 556.9h0M86.6 555.8h0M86.0 559.1h0M85.8 565.3h0M84.8 543.1h0M84.4 555.3h0M85.7 566.2h0M80.3 540.9h0M83.2 538.0h0M84.9 561.4h0M80.4 555.0h0M81.5 564.0h0M82.3 544.0h0M87.5 562.2h0M78.5 557.5h0M87.6 561.6h0M86.5 562.6h0M86.0 566.4h0M83.6 546.3h0M81.5 542.7h0M86.8 564.2h0M86.7 563.7h0M86.9 557.7h0M82.2 556.4h0M86.1 566.3h0M87.3 562.1h0M79.5 544.0h0M85.9 553.3h0M84.8 560.7h0M86.5 565.5h0M81.1 556.0h0M82.4 557.5h0M82.7 550.5h0M85.9 562.0h0M82.2 566.5h0M85.1 563.8h0M85.8 561.8h0M87.0 564.6h0M78.9 555.4h0M85.8 557.7h0M84.4 548.8h0M81.7 562.2h0M85.1 564.2h0M82.5 556.4h0M80.7 539.7h0M83.1 540.0h0M77.0 561.9h0M85.9 565.4h0M84.9 563.8h0M85.6 546.5h0M82.1 564.1h0M82.1 565.0h0M83.5 566.5h0M79.8 563.9h0M85.6 555.9h0M87.1 565.9h0M83.0 563.3h0M86.6 559.2h0M80.5 534.2h0M85.0 561.0h0M83.1 556.3h0M84.6 550.4h0M85.8 556.5h0M80.3 564.1h0M87.9 564.2h0M87.3 567.0h0M85.6 554.7h0M84.8 564.9h0M85.1 560.1h0M84.8 565.3h0M86.8 564.6h0M84.2 563.7h0M79.4 563.6h0M85.0 563.0h0M80.2 553.5h0M85.8 564.2h0M84.6 559.5h0M86.2 565.1h0M87.7 564.4h0M86.5 566.8h0M87.1 560.5h0M87.1 565.9h0M84.6 563.2h0M85.0 556.6h0M86.1 562.7h0M83.8 563.2h0M87.8 562.5h0M85.3 559.5h0M85.8 566.8h0M85.6 566.7h0M84.1 556.5h0M82.8 563.3h0M80.3 552.2h0M85.1 556.6h0M83.4 552.5h0M85.0 551.5h0M86.2 553.0h0M80.1 562.3h0M86.6 566.4h0M84.7 564.9h0M80.4 552.7h0M86.0 561.9h0M79.4 540.0h0M83.1 558.2h0M83.7 554.0h0M79.8 565.5h0M82.3 556.1h0M81.9 561.5h0M86.4 565.1h0M87.7 566.8h0M84.7 563.0h0M86.9 562.9h0M84.4 558.1h0M80.2 562.2h0M78.2 560.9h0M83.8 565.7h0M87.4 557.6h0M82.6 543.9h0M85.1 561.3h0M87.8 564.4h0M79.8 556.6h0M85.4 562.1h0M84.3 565.4h0M86.9 557.6h0M86.5 555.9h0M86.7 564.8h0M81.9 563.4h0M83.1 563.3h0M84.7 547.4h0M84.8 565.1h0M82.1 560.0h0M85.1 564.4h0M84.3 561.4h0M86.0 563.9h0M82.8 566.4h0M86.6 558.8h0M85.9 548.9h0M86.1 562.9h0M85.1 561.9h0M86.9 565.0h0M83.3 566.4h0M86.4 557.4h0M85.0 554.1h0M87.8 566.7h0M80.4 556.0h0M85.6 566.5h0M86.4 566.3h0M85.5 562.5h0M87.4 564.3h0M86.0 555.3h0M82.6 566.2h0M77.9 531.1h0M86.2 564.5h0M82.8 536.6h0M83.7 541.9h0M85.6 566.1h0M87.5 563.9h0M85.3 559.1h0M85.9 563.2h0M85.7 558.0h0M86.8 558.7h0M87.1 557.2h0M79.4 561.9h0M83.4 553.0h0M83.3 562.6h0M84.3 559.0h0M84.0 561.5h0M84.8 548.9h0M86.1 566.8h0M80.5 561.8h0M76.8 529.9h0M86.1 565.3h0M82.1 561.5h0M81.8 538.6h0M87.8 563.1h0M81.2 537.8h0M84.5 559.1h0M87.5 560.3h0M86.2 564.7h0M86.1 565.4h0M84.0 557.4h0M84.0 546.1h0M78.4 541.4h0M84.8 566.6h0M87.2 561.6h0M81.1 566.3h0M78.5 562.8h0M86.6 565.4h0M83.5 552.5h0M87.1 561.5h0M86.3 556.3h0M81.9 539.7h0M79.7 561.9h0M79.5 536.3h0M81.9 545.3h0M85.0 554.2h0M84.6 564.5h0M80.9 555.7h0M85.4 562.4h0M81.1 558.2h0M86.3 566.2h0M84.1 559.6h0M86.0 550.0h0M79.6 540.5h0M86.0 565.0h0M81.9 559.4h0M87.2 553.7h0M87.0 565.1h0M84.2 566.6h0M86.9 562.2h0M82.5 566.2h0M82.6 563.5h0M77.6 532.5h0M84.1 563.6h0M83.5 565.5h0M84.3 566.5h0M84.8 553.7h0M87.2 565.8h0M83.5 556.8h0M83.0 559.2h0M84.5 564.6h0M86.2 561.0h0M82.6 564.2h0M85.0 548.5h0M81.4 566.3h0M84.0 565.5h0M85.7 563.3h0M85.4 564.8h0M82.9 552.4h0M86.8 559.5h0M86.6 563.4h0M85.5 557.3h0M85.1 566.0h0M87.2 562.4h0M80.8 546.6h0M85.8 557.4h0M87.7 565.3h0M85.0 545.9h0M86.6 563.0h0M85.1 563.8h0M87.2 558.9h0M85.4 555.3h0M84.8 563.9h0M85.3 554.3h0M83.9 564.0h0M84.2 557.9h0M81.9 556.5h0M84.8 548.7h0M86.0 561.9h0M86.1 561.3h0M83.0 544.9h0M83.6 548.4h0M86.7 559.9h0M84.1 557.1h0M84.7 550.5h0M86.8 558.0h0M85.0 562.0h0M86.5 562.9h0M85.2 557.3h0M80.9 564.1h0M81.5 564.1h0M81.9 559.2h0M84.2 549.8h0M85.9 562.5h0M81.3 553.1h0M85.7 561.6h0M85.2 559.1h0M84.3 560.4h0M85.5 559.6h0M86.0 560.1h0M87.0 561.6h0M87.2 566.4h0M84.1 565.5h0M84.1 556.3h0M85.6 548.4h0M86.5 557.1h0M83.5 550.6h0M81.0 562.0h0M86.2 566.1h0M86.6 559.4h0M85.4 566.7h0M76.6 557.5h0M80.3 541.3h0M82.4 563.1h0M86.5 565.7h0M81.7 534.5h0M86.3 563.5h0M86.4 564.2h0M85.2 553.8h0M80.4 552.2h0M85.5 562.3h0M84.5 550.0h0M85.7 555.7h0M82.3 551.4h0M87.0 558.4h0M86.5 566.1h0M83.3 549.0h0M86.1 566.6h0M86.2 563.9h0M84.4 560.8h0M79.7 562.2h0M80.3 534.7h0M81.3 561.6h0M85.5 560.8h0M82.3 553.1h0M85.8 554.5h0M79.8 533.8h0M83.8 551.2h0M79.8 559.9h0M76.8 532.4h0M84.0 562.9h0M81.2 560.8h0M82.9 566.4h0M87.5 565.9h0M79.7 564.5h0M87.1 566.7h0M80.4 543.3h0M81.8 550.0h0M81.7 545.7h0M85.1 561.9h0M84.1 561.7h0M84.4 559.5h0M83.0 566.0h0M85.7 557.1h0M84.6 553.2h0M84.2 544.0h0M81.0 558.0h0M83.7 554.3h0M87.3 566.3h0M81.4 554.0h0M84.0 540.7h0M82.6 542.2h0M86.9 565.2h0M82.1 566.2h0M87.7 566.6h0M86.1 557.6h0M77.2 563.6h0M85.0 563.8h0M85.0 566.0h0M80.5 550.5h0M85.6 550.5h0M86.1 562.5h0M84.2 566.2h0M85.9 566.8h0M83.6 548.9h0M85.6 563.3h0M86.3 566.8h0M79.6 533.1h0M82.4 556.1h0M86.4 561.4h0M86.8 564.8h0M83.4 566.3h0M77.8 534.5h0M78.3 541.5h0M84.5 565.6h0M87.0 562.2h0M81.6 540.0h0M84.5 559.1h0M85.3 556.4h0M83.7 561.6h0M84.2 545.9h0M82.2 566.0h0M82.7 556.1h0M77.3 549.6h0M86.7 566.1h0M87.8 563.9h0M81.6 563.4h0M86.2 552.1h0M85.2 554.5h0M86.7 551.7h0M82.6 554.0h0M85.2 564.4h0M82.9 560.0h0M80.6 529.6h0M84.0 554.5h0M86.2 564.8h0M83.9 566.0h0M82.5 555.8h0M84.7 561.7h0M84.8 558.7h0M86.1 554.1h0M83.3 562.8h0M85.9 546.6h0M79.4 559.9h0M86.9 564.3h0M86.6 563.8h0M86.5 564.4h0M87.6 566.9h0M85.9 563.8h0M81.7 561.0h0M87.1 562.3h0M78.0 564.0h0M86.9 562.3h0M81.6 563.8h0M80.0 530.5h0M77.0 554.1h0M86.7 554.0h0M80.6 552.8h0M87.5 563.8h0M81.7 540.1h0M87.2 565.7h0M84.6 564.2h0M87.6 566.1h0M86.1 555.7h0M84.7 551.4h0M84.3 565.4h0M82.0 563.8h0M85.8 554.4h0M85.1 546.3h0M86.3 556.2h0M77.1 530.8h0M87.2 560.8h0M87.2 555.3h0M78.5 557.4h0M84.5 547.5h0M84.2 566.8h0M86.1 558.9h0M86.1 551.3h0M87.0 559.6h0M83.7 564.8h0M83.8 565.5h0M85.7 566.6h0M86.4 564.3h0M81.9 556.5h0M87.7 565.2h0M81.8 537.0h0M85.3 557.2h0M86.5 561.9h0M83.1 564.9h0M86.8 563.3h0M82.1 564.4h0M86.9 564.2h0M85.9 555.6h0M81.1 542.3h0M84.8 562.2h0M83.7 545.9h0M87.1 557.2h0M83.7 562.6h0M80.8 556.6h0M81.3 559.3h0M87.2 562.2h0M86.1 549.4h0M85.1 554.0h0M85.0 558.4h0M83.8 543.6h0M87.9 565.3h0M86.0 555.6h0M81.9 560.3h0M84.8 562.2h0M87.3 563.6h0M83.5 565.0h0M80.5 556.0h0M86.0 565.5h0M86.3 562.3h0M86.1 563.5h0M83.1 564.7h0M82.5 546.6h0M84.1 566.4h0M84.8 564.8h0M84.9 563.0h0M87.1 566.8h0M83.5 559.7h0M86.5 566.5h0M84.3 565.8h0M84.3 562.1h0M77.6 565.2h0M85.9 554.5h0M81.8 551.9h0M86.2 554.5h0M83.0 551.4h0M84.7 549.4h0M85.7 556.6h0M85.8 556.9h0M83.6 564.4h0M85.3 544.8h0M87.1 564.5h0M82.0 565.0h0M86.3 559.8h0M85.0 566.5h0M86.1 555.2h0M85.4 550.0h0M80.9 548.9h0M82.1 541.4h0M82.2 551.8h0M82.8 547.8h0M82.7 566.3h0M84.2 566.3h0M82.2 565.6h0M81.1 566.2h0M85.7 564.0h0M82.6 563.7h0M87.2 566.4h0M84.8 562.5h0M86.5 564.1h0M81.9 561.6h0M85.9 560.0h0M83.5 559.3h0M85.2 551.0h0M86.6 565.0h0M85.2 565.9h0M87.3 563.4h0M81.8 558.9h0M86.2 562.3h0M81.6 535.2h0M86.9 555.1h0M83.0 539.6h0M86.3 563.3h0M83.8 566.0h0M80.9 562.5h0M79.3 561.2h0M84.2 564.1h0M83.7 566.3h0M87.0 565.3h0M84.0 565.6h0M82.0 561.7h0M85.3 557.2h0M87.2 563.8h0M79.3 565.1h0M84.8 562.6h0M86.5 564.9h0M86.5 561.8h0M86.5 559.2h0M86.8 566.5h0M85.6 564.7h0M83.3 558.8h0M78.4 564.8h0M85.5 559.9h0M78.6 560.8h0M87.4 562.4h0M86.1 563.5h0M85.0 557.7h0M82.4 562.0h0M84.0 553.8h0M81.6 553.5h0M87.5 565.8h0M84.7 556.3h0M83.8 565.9h0M82.2 556.8h0M83.4 555.4h0M88.2 566.6h0M84.4 566.7h0M87.6 557.7h0M87.8 564.0h0M86.9 565.9h0M79.4 564.1h0M82.4 564.2h0M83.6 543.0h0M86.7 561.5h0M83.5 564.7h0M85.1 549.4h0M77.3 563.0h0M87.1 566.1h0M82.6 536.7h0M84.5 548.0h0M83.4 565.0h0M84.5 557.8h0M86.6 558.6h0M79.8 565.8h0M85.7 552.1h0M85.0 565.2h0M84.0 555.1h0M85.1 559.9h0M82.6 543.3h0M84.8 566.0h0M86.4 560.2h0M86.1 560.2h0M86.1 560.9h0M85.1 566.4h0M86.4 565.5h0M87.7 565.1h0M87.4 565.9h0M84.9 563.2h0M87.4 563.0h0M86.7 548.5h0M83.8 551.7h0M83.6 552.1h0M76.9 555.5h0M84.6 566.8h0M86.4 562.8h0M82.5 565.9h0M82.3 540.2h0M83.6 544.4h0M87.9 566.0h0M85.2 562.8h0M86.1 551.9h0M80.9 561.7h0M80.7 534.1h0M78.9 565.6h0M80.2 555.2h0M86.4 565.5h0M79.1 554.9h0M84.5 556.6h0M81.3 564.4h0M81.6 562.5h0M84.4 562.7h0M86.8 561.1h0M82.3 554.4h0M84.8 565.9h0M82.9 564.8h0M86.4 556.2h0M87.2 560.7h0M83.1 556.9h0M84.6 559.9h0M85.1 554.1h0M85.7 561.6h0M82.3 565.8h0M86.6 560.0h0M84.7 566.7h0M88.2 566.0h0M83.9 557.6h0M82.7 561.5h0M85.2 557.6h0M87.0 565.3h0M87.6 566.5h0M80.5 562.9h0M85.2 555.8h0M83.1 557.3h0M84.3 553.9h0M83.5 566.6h0M83.7 566.2h0M82.6 560.1h0M80.7 558.3h0M82.8 540.9h0M79.8 537.0h0M86.2 565.3h0M85.2 562.5h0M86.1 556.1h0M82.7 548.6h0M86.5 560.2h0M76.9 565.5h0M86.1 561.1h0M85.0 560.1h0M87.0 565.0h0M81.7 565.4h0M87.7 565.2h0M83.6 548.2h0M85.8 551.0h0M85.6 564.4h0M78.5 536.1h0M85.0 566.8h0M80.8 556.7h0M85.5 551.7h0M87.1 561.9h0M80.0 562.8h0M78.8 558.9h0M85.3 563.9h0M76.6 534.5h0M84.0 563.4h0M84.7 553.5h0M81.9 539.6h0M85.9 562.1h0M84.1 543.3h0M78.1 540.8h0M85.5 546.2h0M84.9 564.3h0M82.6 566.2h0M82.4 544.0h0M87.6 564.6h0M82.9 554.1h0M82.0 545.0h0M83.0 548.5h0M82.1 560.1h0M85.9 556.8h0M79.5 565.9h0M84.4 564.5h0M87.4 561.1h0M87.1 552.1h0M87.5 563.3h0M80.0 561.8h0M83.7 565.3h0M83.8 564.7h0M86.7 561.6h0M86.3 560.8h0M77.6 555.5h0M83.3 551.4h0M82.0 558.0h0M82.3 564.6h0M85.6 555.8h0M83.0 559.2h0M85.0 564.6h0M84.9 557.3h0M86.1 564.2h0M86.6 566.4h0M82.6 563.0h0M83.3 563.4h0M81.2 562.3h0M86.1 566.3h0M87.0 563.1h0M84.6 551.9h0M83.5 564.9h0M83.2 562.5h0M86.5 557.0h0M85.8 563.8h0M85.8 561.1h0M79.6 558.8h0M85.0 556.4h0M81.8 560.0h0M84.4 556.8h0M87.1 566.8h0M86.2 559.1h0M84.0 550.2h0M83.3 539.0h0M83.6 561.9h0M86.1 558.7h0M79.2 530.5h0M83.3 540.9h0M87.2 560.7h0M86.8 559.3h0M84.9 563.3h0M81.1 565.0h0M78.7 553.4h0M85.8 553.8h0M87.1 561.9h0M87.8 564.1h0M84.3 562.2h0M79.2 564.2h0M81.2 563.3h0M82.6 562.4h0M85.7 565.0h0M86.4 561.9h0M79.0 550.6h0M85.0 557.2h0M79.2 564.2h0M86.8 564.7h0M85.6 562.3h0M79.7 532.1h0M80.4 565.2h0M86.9 558.7h0M83.4 553.6h0M85.2 562.1h0M84.6 557.6h0M83.7 558.2h0M87.1 559.8h0M87.3 557.6h0M86.4 550.8h0M85.5 564.4h0M81.7 562.1h0M86.1 565.6h0M84.2 566.5h0M84.1 566.2h0M80.3 538.3h0M83.3 543.2h0M84.5 566.2h0M82.6 538.1h0M85.7 549.7h0M82.7 551.2h0M87.1 563.2h0M80.9 534.2h0M81.6 531.3h0M82.3 551.0h0M82.2 564.9h0M82.3 536.3h0M84.1 556.0h0M83.9 564.0h0M85.3 562.5h0M86.5 559.6h0M81.0 534.2h0M83.5 565.2h0M80.4 561.1h0M81.7 534.7h0M87.2 565.4h0M86.1 559.3h0M81.6 539.2h0M80.1 551.6h0M80.5 564.5h0M84.7 551.7h0M86.7 563.8h0M87.6 567.0h0M82.1 564.1h0M87.3 566.7h0M84.9 556.0h0M81.5 565.3h0M84.1 557.1h0M84.9 552.0h0M80.3 539.5h0M82.1 557.7h0M87.0 563.3h0M87.9 565.0h0M82.3 560.3h0M82.1 565.7h0M86.9 564.0h0M86.6 551.8h0M86.3 555.5h0M83.5 559.8h0M88.0 566.2h0M50.4 558.0h0M60.9 565.0h0M76.6 561.5h0M75.7 554.2h0M77.1 549.2h0M74.2 557.1h0M77.6 565.0h0M76.1 546.9h0M74.7 541.7h0M77.6 535.3h0M76.6 532.4h0M78.0 530.9h0M69.5 558.6h0M68.0 563.8h0M72.3 549.8h0M71.4 565.6h0M75.4 511.4h0M78.7 510.8h0M79.4 512.0h0M75.2 516.9h0M78.7 516.9h0M79.7 517.5h0M80.1 520.1h0M78.3 521.6h0M77.1 514.0h0M79.2 523.6h0M77.6 524.8h0" stroke="#0000ff" stroke-width="2.1" stroke-linecap="round" fill="none"/>
<path d="M112.6 558.2h0M120.8 547.3h0M111.7 551.2h0M115.6 552.4h0M106.8 542.2h0M115.5 552.0h0M115.4 545.1h0M123.5 555.1h0M123.9 543.0h0M114.4 553.0h0M118.7 551.4h0M111.1 557.7h0M111.1 521.9h0M107.9 554.8h0M112.6 525.0h0M115.9 530.7h0M108.9 538.7h0M118.5 527.3h0M120.4 549.8h0M121.8 550.4h0M120.3 537.6h0M108.0 536.3h0M114.7 522.3h0M105.1 552.4h0M107.3 549.9h0M115.1 552.6h0M110.8 556.7h0M118.5 555.6h0M120.1 529.3h0M111.6 532.9h0M119.5 540.4h0M105.5 534.9h0M110.8 535.5h0M112.7 522.5h0M108.3 529.5h0M118.3 537.5h0M105.9 552.3h0M123.6 549.8h0M107.5 547.7h0M115.0 538.9h0M104.3 558.4h0M114.2 551.6h0M116.4 528.3h0M106.2 539.4h0M112.4 528.6h0M123.4 542.8h0M109.1 525.3h0M104.8 546.1h0M112.2 551.8h0M117.9 538.9h0M109.3 542.9h0M118.1 546.3h0M105.6 541.1h0M108.2 535.0h0M108.3 553.5h0M122.2 546.1h0M110.1 538.2h0M118.2 533.2h0M120.3 548.7h0M112.8 544.8h0M114.6 536.8h0M116.9 556.0h0M111.7 531.7h0M118.0 543.4h0M113.3 548.6h0M119.0 540.4h0M109.6 557.5h0M111.2 523.7h0M117.8 534.9h0M123.0 557.4h0M116.3 551.4h0M112.2 551.7h0M111.3 524.4h0M105.8 547.2h0M120.0 557.0h0M108.1 555.5h0M120.6 549.8h0M112.8 558.0h0M106.5 539.1h0M120.1 545.7h0M115.0 566.7h0M111.6 566.0h0M113.2 563.0h0M115.6 560.2h0M114.5 561.0h0M111.4 563.3h0M118.6 562.4h0M116.5 563.3h0M122.2 565.9h0M118.4 562.9h0M122.3 565.9h0M116.5 566.8h0M120.4 560.9h0M115.6 561.3h0M120.4 566.9h0M117.4 566.7h0M114.9 561.4h0M112.0 563.1h0M110.9 566.2h0M125.0 566.3h0M112.7 560.4h0M114.9 565.5h0M111.5 563.5h0M110.9 565.5h0M113.5 561.8h0M112.5 562.9h0M113.8 560.1h0M124.2 563.1h0M112.5 561.9h0M123.4 566.9h0M113.1 561.5h0M122.1 563.1h0M111.9 565.2h0M113.7 560.2h0M113.5 564.4h0M120.8 562.4h0M118.8 562.5h0M111.7 566.8h0M115.8 564.2h0M120.8 564.1h0M101.9 564.5h0M100.9 554.4h0M102.6 557.3h0M123.3 554.7h0M107.4 555.6h0M106.1 562.3h0M99.4 566.3h0M100.9 551.9h0M99.8 558.0h0M100.4 562.4h0M102.3 554.4h0M112.9 508.9h0M99.5 555.3h0M105.9 555.3h0M100.3 563.6h0M104.1 562.4h0M99.1 557.7h0M109.5 565.6h0M99.8 563.6h0M100.9 564.5h0M112.3 562.4h0M108.0 555.7h0M98.1 565.9h0M99.2 564.7h0M102.0 560.6h0M100.1 563.5h0M104.4 555.1h0M102.8 563.2h0M103.1 537.8h0M99.3 561.6h0M101.5 555.9h0M106.9 565.1h0M105.7 564.7h0M104.8 536.7h0M104.4 566.2h0M109.8 551.0h0M102.2 564.9h0M101.8 565.5h0M99.7 565.9h0M101.9 565.8h0M105.9 539.9h0M99.1 562.7h0M101.6 542.1h0M102.2 565.3h0M103.7 562.0h0M98.7 566.0h0M103.4 551.1h0M103.1 564.1h0M102.0 559.2h0M99.6 562.7h0M101.2 555.0h0M102.2 566.2h0M108.6 560.3h0M108.0 538.4h0M108.5 565.0h0M99.7 564.3h0M98.2 564.8h0M98.4 566.3h0M101.0 565.6h0M106.4 557.4h0M100.1 565.8h0M102.2 562.4h0M100.1 560.9h0M99.2 566.5h0M102.8 563.4h0M99.4 564.2h0M104.9 544.6h0M100.0 558.5h0M99.0 564.1h0M102.9 540.5h0M102.2 552.8h0M101.7 550.8h0M99.8 566.9h0M101.8 559.0h0M102.8 549.5h0M113.2 563.4h0M99.3 554.3h0M100.0 563.5h0M102.3 551.5h0M117.4 563.2h0M105.5 535.9h0M102.6 555.8h0M100.0 550.4h0M100.7 563.0h0M107.1 533.2h0M99.2 558.6h0M102.9 556.1h0M101.7 547.1h0M107.6 551.7h0M99.3 564.7h0M110.3 554.1h0M102.9 534.5h0M103.2 537.9h0M99.8 561.7h0M100.6 563.0h0M101.9 566.1h0M104.4 531.0h0M102.5 552.3h0M101.7 553.5h0M106.4 546.1h0M109.9 495.8h0M103.6 545.2h0M105.4 563.5h0M102.8 549.7h0M103.6 555.5h0M100.9 547.3h0M119.8 561.0h0M104.0 531.5h0M104.1 554.9h0M122.7 495.7h0M113.3 542.3h0M102.3 557.2h0M101.0 564.4h0M100.6 555.0h0M101.2 542.5h0M100.6 566.1h0M110.3 547.9h0M100.3 565.5h0M104.0 555.5h0M100.5 558.2h0M104.6 549.4h0M100.9 566.6h0M106.4 565.1h0M105.8 540.2h0M100.2 553.4h0M102.9 559.1h0M100.8 566.2h0M102.0 563.1h0M98.5 565.1h0M105.3 551.7h0M98.8 558.1h0M101.3 566.4h0M101.2 562.3h0M101.1 549.2h0M109.0 553.3h0M102.9 557.0h0M101.8 543.8h0M100.7 550.3h0M99.7 561.8h0M101.1 547.7h0M116.0 542.4h0M100.9 549.3h0M114.8 564.2h0M100.5 551.9h0M98.2 564.3h0M99.9 563.5h0M106.7 562.9h0M103.2 551.9h0M99.0 555.1h0M100.8 547.0h0M104.2 565.2h0M103.9 563.7h0M99.4 553.3h0M101.3 543.1h0M106.5 529.5h0M101.7 546.4h0M101.7 563.8h0M100.4 548.7h0M107.9 556.2h0M109.7 562.5h0M106.1 538.1h0M114.5 562.0h0M100.8 557.2h0M99.5 565.0h0M98.6 559.5h0M102.0 551.7h0M99.2 556.9h0M101.4 544.7h0M103.4 551.6h0M102.8 550.3h0M104.0 529.4h0M99.1 559.3h0M98.2 566.8h0M100.5 565.4h0M101.2 564.3h0M98.5 565.0h0M99.9 552.2h0M104.0 556.3h0M104.2 544.2h0M99.8 561.5h0M99.1 566.5h0M99.4 562.2h0M99.6 556.5h0M105.7 547.2h0M105.4 562.0h0M104.6 539.3h0M98.4 558.5h0M109.8 550.3h0M98.3 565.3h0M98.3 563.8h0M106.1 566.2h0M102.4 559.1h0M107.9 562.3h0M111.7 563.0h0M103.8 528.9h0M100.6 547.8h0M100.5 564.8h0M101.6 562.7h0M100.4 561.7h0M103.6 550.6h0M104.2 553.9h0M105.9 559.1h0M102.7 537.4h0M99.8 556.0h0M101.5 559.5h0M104.4 558.5h0M100.3 561.9h0M106.1 552.8h0M119.3 561.9h0M100.5 562.9h0M100.1 561.5h0M108.8 510.5h0M100.1 552.1h0M106.5 563.3h0M98.5 561.9h0M101.3 562.7h0M103.5 542.7h0M110.1 560.0h0M104.1 554.7h0M105.1 562.9h0M98.1 562.5h0M99.0 565.3h0M101.2 559.5h0M104.6 549.2h0M98.5 560.1h0M106.1 528.9h0M107.2 554.8h0M100.0 566.6h0M99.2 561.4h0M103.4 559.3h0M108.0 562.8h0M100.0 561.4h0M101.4 552.0h0M100.4 552.8h0M99.1 564.5h0M101.7 564.3h0M104.6 563.6h0M100.7 544.0h0M105.9 525.7h0M102.2 564.5h0M108.1 560.8h0M102.5 556.4h0M99.3 557.4h0M108.4 556.1h0M102.0 549.8h0M101.0 562.3h0M100.8 565.0h0M101.1 561.5h0M109.2 553.0h0M112.6 494.8h0M105.2 564.8h0M106.0 565.1h0M111.3 544.2h0M103.0 548.2h0M100.1 556.4h0M100.1 554.9h0M99.3 560.1h0M105.7 562.8h0M98.2 560.0h0M99.1 558.7h0M99.4 561.1h0M99.9 563.9h0M101.9 563.3h0M101.7 558.9h0M99.2 560.6h0M114.0 542.3h0M99.7 564.1h0M102.9 547.6h0M103.9 554.1h0M102.3 558.2h0M106.7 550.3h0M104.0 530.8h0M99.5 563.9h0M108.3 538.0h0M99.8 565.5h0M100.1 548.5h0M99.8 563.5h0M101.0 550.4h0M106.8 557.2h0M100.6 549.7h0M101.2 557.9h0M101.3 562.4h0M109.4 551.4h0M102.1 558.0h0M102.9 562.2h0M113.1 529.5h0M98.4 563.7h0M98.8 566.9h0M98.4 563.3h0M100.1 565.4h0M104.0 564.0h0M100.7 566.2h0M103.5 566.2h0M104.1 532.9h0M111.4 556.6h0M99.7 558.4h0M101.8 563.3h0M104.2 561.1h0M102.2 546.0h0M125.7 519.9h0M103.2 563.5h0M101.4 559.8h0M112.1 561.6h0M104.5 562.2h0M102.2 556.0h0M106.8 540.6h0M107.2 559.3h0M98.6 561.1h0M101.7 556.9h0M98.2 566.7h0M101.2 548.6h0M102.6 546.2h0M104.7 558.8h0M98.6 558.8h0M101.3 555.8h0M102.0 563.9h0M125.0 507.4h0M101.3 565.9h0M110.2 565.1h0M100.0 566.9h0M100.4 553.9h0M104.5 551.9h0M100.5 553.4h0M106.1 539.9h0M103.8 561.1h0M101.1 564.6h0M111.3 549.1h0M104.0 553.1h0M99.6 560.4h0M116.0 557.9h0M98.7 562.4h0M98.3 564.0h0M99.4 565.2h0M103.3 565.5h0M99.4 565.4h0M99.0 563.3h0M111.9 552.2h0M100.9 557.7h0M109.8 512.3h0M100.8 555.5h0M105.5 531.8h0M101.1 555.5h0M102.9 564.6h0M98.3 565.1h0M102.9 558.8h0M105.4 561.0h0M102.7 564.8h0M103.6 564.7h0M100.0 566.0h0M99.7 560.7h0M109.8 555.4h0M116.7 548.5h0M100.6 563.8h0M100.9 545.8h0M99.6 557.8h0M105.7 561.8h0M108.3 558.6h0M103.0 563.7h0M99.3 553.8h0M115.6 545.9h0M112.4 531.3h0M119.3 556.3h0M110.6 562.0h0M103.9 558.7h0M99.4 564.5h0M100.7 562.4h0M98.3 566.3h0M99.4 562.1h0M101.7 546.2h0M102.5 557.4h0M99.5 565.8h0M99.7 566.8h0M98.2 560.1h0M103.5 563.3h0M103.1 564.5h0M98.8 559.7h0M107.3 559.8h0M109.5 523.2h0M104.0 561.4h0M111.2 563.5h0M99.9 564.7h0M111.4 559.9h0M99.9 553.4h0M105.0 546.9h0M98.3 563.9h0M98.2 562.5h0M101.8 557.3h0M99.3 561.1h0M105.3 565.6h0M107.9 564.0h0M98.5 562.1h0M100.9 566.6h0M107.2 564.0h0M102.1 545.0h0M100.8 559.7h0M99.4 563.7h0M98.3 559.2h0M100.5 566.3h0M98.3 566.3h0M99.1 557.8h0M104.3 563.0h0M111.8 550.4h0M104.1 547.2h0M105.6 561.5h0M107.9 563.1h0M104.0 562.6h0M104.3 550.0h0M104.9 549.0h0M103.5 538.2h0M100.5 564.4h0M108.2 556.2h0M106.3 544.1h0M103.7 565.3h0M101.2 548.1h0M98.8 566.7h0M99.7 566.1h0M99.4 557.4h0M101.9 556.7h0M106.4 549.1h0M99.0 565.9h0M108.3 565.1h0M102.8 559.8h0M105.6 559.1h0M103.9 564.9h0M107.6 518.1h0M104.5 541.5h0M99.4 564.0h0M113.9 497.1h0M103.2 548.0h0M100.2 561.9h0M102.2 565.5h0M100.3 555.0h0M103.5 563.0h0M100.2 552.8h0M109.3 499.6h0M111.6 555.7h0M101.5 550.7h0M107.8 563.7h0M101.5 545.4h0M102.0 563.5h0M100.7 555.9h0M100.8 555.0h0M98.3 563.3h0M101.1 557.0h0M99.6 559.5h0M102.9 556.5h0M98.4 565.5h0M105.2 561.7h0M101.9 563.1h0M99.3 558.8h0M101.8 566.5h0M99.5 566.1h0M102.2 541.3h0M103.8 564.2h0M100.3 549.2h0M103.6 558.8h0M102.5 562.4h0M98.9 565.7h0M102.4 560.8h0M101.1 565.3h0M104.1 564.3h0M105.2 529.6h0M100.6 551.4h0M110.0 503.7h0M106.6 564.9h0M111.5 491.5h0M99.0 564.6h0M100.9 549.5h0M99.8 565.0h0M107.8 557.4h0M101.3 562.8h0M101.9 565.2h0M107.1 547.3h0M98.7 563.0h0M99.0 563.6h0M106.3 560.5h0M100.2 553.4h0M99.6 564.6h0M102.0 552.4h0M109.1 562.5h0M107.6 519.6h0M99.4 562.1h0M105.1 552.0h0M100.0 551.5h0M103.4 536.6h0M100.8 564.2h0M109.6 561.8h0M99.0 565.4h0M103.4 537.3h0M109.0 553.3h0M112.6 558.4h0M100.5 545.9h0M100.8 560.3h0M108.0 563.5h0M99.5 564.4h0M101.2 557.9h0M107.1 556.8h0M100.5 564.6h0M101.6 562.1h0M101.6 557.9h0M99.3 565.7h0M99.5 555.6h0M99.1 565.4h0M109.7 560.4h0M107.2 564.3h0M100.4 564.4h0M101.8 551.3h0M98.3 560.9h0M98.4 559.4h0M103.4 563.1h0M99.3 554.2h0M107.7 557.6h0M103.7 558.8h0M98.3 560.7h0M107.0 548.8h0M103.7 560.7h0M102.6 565.3h0M101.1 542.5h0M101.7 553.8h0M104.6 548.2h0M106.9 538.7h0M101.6 553.7h0M98.9 564.9h0M101.7 549.4h0M110.9 557.2h0M100.1 566.3h0M103.5 557.6h0M102.8 564.9h0M112.5 555.7h0M98.6 566.6h0M112.1 535.8h0M105.5 564.1h0M104.7 540.8h0M106.3 565.9h0M102.2 558.9h0M101.6 559.4h0M98.6 558.9h0M100.5 560.9h0M101.9 548.5h0M122.3 525.2h0M98.5 565.3h0M106.0 559.8h0M98.8 563.1h0M99.7 562.4h0M101.0 556.9h0M103.4 556.5h0M109.4 562.1h0M106.1 564.5h0M103.6 564.8h0M104.5 565.8h0M104.1 564.4h0M100.2 565.8h0M98.7 566.3h0M100.9 547.2h0M99.4 561.7h0M110.0 554.2h0M103.3 539.2h0M103.1 564.9h0M99.6 566.7h0M103.5 561.6h0M105.4 537.8h0M101.2 562.4h0M99.6 562.4h0M113.5 549.3h0M102.2 560.5h0M101.3 545.6h0M102.2 546.1h0M116.2 552.7h0M100.6 564.9h0M103.4 553.6h0M98.7 557.8h0M99.3 558.3h0M100.2 548.6h0M109.2 542.2h0M98.9 556.0h0M103.1 564.6h0M101.7 562.0h0M108.2 551.4h0M107.4 562.6h0M101.9 544.6h0M100.1 559.9h0M103.3 562.1h0M100.9 552.4h0M101.7 559.9h0M99.0 562.9h0M100.8 558.7h0M99.0 563.0h0M110.2 555.3h0M100.4 563.7h0M101.5 562.6h0M100.7 554.4h0M102.4 554.8h0M102.6 565.6h0M100.2 563.3h0M105.0 559.5h0M103.7 558.7h0M107.6 552.2h0M114.5 564.4h0M105.2 558.8h0M100.6 561.1h0M98.2 560.5h0M118.3 548.7h0M108.3 561.1h0M103.5 552.5h0M102.7 563.7h0M103.6 535.3h0M109.6 560.6h0M110.5 562.8h0M101.9 560.7h0M108.8 547.7h0M99.4 554.5h0M112.3 546.5h0M100.1 547.8h0M100.8 546.8h0M111.0 565.2h0M103.3 559.3h0M102.3 550.0h0M98.3 565.4h0M104.2 558.9h0M99.9 558.6h0M108.9 558.5h0M101.3 562.3h0M105.6 550.1h0M99.2 560.9h0M100.2 566.9h0M110.3 523.8h0M106.0 545.4h0M104.9 565.4h0M101.2 546.9h0M102.9 549.6h0M99.1 558.2h0M107.5 547.8h0M99.7 559.9h0M106.5 544.0h0M103.1 564.6h0M98.5 562.0h0M101.2 560.0h0M102.8 566.2h0M102.0 565.4h0M109.6 551.0h0M99.7 561.5h0M102.8 552.3h0M107.5 565.4h0M98.9 563.7h0M102.0 547.8h0M100.8 555.4h0M99.0 563.4h0M102.2 536.4h0M103.0 540.2h0M108.9 564.2h0M116.1 555.1h0M103.4 551.2h0M101.3 543.4h0M101.1 553.7h0M104.2 565.0h0M105.1 564.8h0M99.5 558.9h0M98.3 564.3h0M121.2 555.6h0M103.1 555.1h0M101.9 564.4h0M101.2 547.4h0M100.9 556.4h0M99.1 566.7h0M102.8 554.7h0M98.7 560.3h0M104.4 565.9h0M99.4 566.3h0M99.6 566.3h0M100.4 549.8h0M103.7 540.3h0M103.9 566.2h0M101.2 565.3h0M98.6 557.9h0M100.1 563.1h0M100.8 562.9h0M122.9 544.4h0M103.3 565.8h0M101.8 552.3h0M98.6 558.5h0M98.8 560.8h0M99.3 557.8h0M99.8 551.0h0M109.9 525.4h0M120.1 554.9h0M102.0 564.6h0M100.9 564.5h0M112.1 545.5h0M101.6 565.2h0M109.8 547.2h0M98.8 560.2h0M100.5 552.4h0M98.4 564.5h0M99.0 561.1h0M99.2 564.5h0M104.3 560.1h0M103.3 566.2h0M103.6 554.0h0M102.6 555.4h0M115.8 549.5h0M103.5 560.8h0M99.6 565.6h0M99.4 552.7h0M100.4 564.8h0M103.1 552.3h0M102.3 563.7h0M100.3 552.4h0M104.0 560.9h0M106.4 534.6h0M103.7 547.1h0M100.4 560.0h0M105.3 562.7h0M98.5 565.1h0M99.0 557.7h0M103.6 548.5h0M101.9 556.9h0M103.8 558.9h0M102.8 553.9h0M101.9 563.5h0M106.5 560.0h0M99.6 563.2h0M100.0 560.7h0M100.0 557.2h0M101.4 566.6h0M102.3 541.3h0M109.7 553.5h0M101.2 563.3h0M102.8 561.6h0M113.0 554.9h0M99.8 562.3h0M103.9 542.9h0M101.8 538.3h0M102.1 554.4h0M100.4 565.4h0M99.1 557.6h0M99.1 566.4h0M107.0 553.7h0M106.0 551.3h0M98.6 559.2h0M99.4 552.1h0M98.9 562.0h0M102.5 545.4h0M98.8 562.2h0M102.5 560.5h0M111.3 556.3h0M112.2 564.4h0M112.7 546.8h0M98.5 559.7h0M110.8 542.9h0M104.0 565.9h0M105.8 555.3h0M106.4 558.8h0M115.5 518.3h0M101.7 550.5h0M108.7 543.3h0M101.4 542.9h0M106.0 563.4h0M103.0 557.4h0M117.0 547.3h0M119.6 551.5h0M101.3 561.6h0M103.3 559.0h0M98.3 566.0h0M99.2 559.5h0M105.1 548.7h0M111.3 555.0h0M99.1 562.5h0M101.3 565.6h0M101.8 562.6h0M100.4 566.5h0M103.8 532.9h0M101.9 565.3h0M101.0 561.8h0M102.4 549.1h0M107.6 525.1h0M101.1 565.7h0M100.0 558.8h0M102.7 549.8h0M101.1 551.3h0M99.3 556.0h0M104.4 559.9h0M99.9 567.0h0M99.9 556.5h0M99.9 561.9h0M99.3 564.9h0M99.1 563.0h0M104.2 558.7h0M98.2 559.9h0M103.4 561.4h0M98.4 560.9h0M100.7 563.6h0M103.1 546.9h0M100.0 555.6h0M108.9 560.8h0M104.4 548.2h0M101.8 563.6h0M98.2 565.9h0M99.7 566.1h0M98.2 562.8h0M99.5 555.2h0M100.5 545.0h0M100.3 546.5h0M105.1 552.1h0M103.1 559.9h0M102.6 559.0h0M102.5 566.3h0M111.0 565.0h0M98.2 565.3h0M103.0 544.4h0M125.6 556.7h0M113.1 562.4h0M101.5 554.6h0M100.0 556.2h0M104.2 550.4h0M105.7 553.0h0M103.4 545.2h0M106.1 536.3h0M99.4 561.9h0M101.5 549.4h0M100.0 564.6h0M110.5 537.9h0M104.2 564.2h0M98.3 561.1h0M109.9 564.9h0M100.6 558.8h0M101.3 549.9h0M109.5 560.1h0M108.2 564.5h0M116.8 517.7h0M105.5 556.3h0M112.7 549.3h0M98.2 564.8h0M98.3 563.9h0M101.9 561.7h0M114.3 487.9h0M99.1 558.6h0M101.7 566.7h0M99.7 563.5h0M98.4 563.5h0M104.0 545.3h0M98.4 559.4h0M107.5 546.8h0M104.2 556.0h0M108.0 556.9h0M101.9 563.1h0M103.7 565.2h0M103.5 552.5h0M102.8 547.2h0M112.0 558.0h0M106.5 558.6h0M99.1 556.8h0M105.6 549.2h0M109.4 565.1h0M99.3 563.1h0M107.7 562.4h0M99.1 559.6h0M104.6 531.8h0M102.6 565.4h0M107.0 516.8h0M102.6 556.9h0M99.7 560.2h0M100.1 557.8h0M99.7 557.3h0M99.1 555.4h0M100.1 565.2h0M99.7 553.3h0M103.5 530.6h0M110.0 557.1h0M99.8 555.3h0M100.0 558.8h0M102.3 559.4h0M106.7 553.2h0M110.4 551.7h0M99.0 565.3h0M110.8 558.2h0M101.4 559.5h0M102.0 553.0h0M100.7 562.2h0M101.0 553.5h0M98.1 563.8h0M107.6 564.8h0M99.9 560.7h0M107.2 565.2h0M100.3 556.7h0M99.9 563.0h0M103.4 560.5h0M102.0 555.7h0M113.5 552.5h0M103.6 556.3h0M113.5 556.4h0M99.1 565.6h0M100.4 552.0h0M104.0 536.5h0M102.2 549.8h0M105.8 540.4h0M103.4 547.9h0M103.6 551.6h0M100.8 564.4h0M100.3 566.5h0M100.4 549.8h0M117.4 549.9h0M98.5 565.1h0M107.0 557.7h0M107.5 544.1h0M109.5 503.2h0M104.8 554.5h0M101.5 554.1h0M100.7 561.1h0M99.2 563.1h0M101.2 566.9h0M104.3 542.4h0M104.3 555.1h0M103.5 551.2h0M102.8 559.6h0M99.1 555.9h0M114.4 563.6h0M104.1 565.1h0M101.0 558.1h0M101.2 563.4h0M99.9 563.8h0M101.0 554.1h0M109.9 512.5h0M99.3 558.3h0M102.7 560.1h0M98.7 566.9h0M99.8 554.6h0M98.1 565.3h0M108.6 529.1h0M101.2 561.3h0M98.9 559.5h0M112.5 534.8h0M102.8 552.7h0M104.0 566.3h0M102.3 564.7h0M98.9 564.3h0M103.2 562.0h0M103.7 561.7h0M101.1 561.5h0M106.7 564.8h0M99.2 566.4h0M98.6 560.3h0M105.5 565.9h0M109.2 564.1h0M104.2 562.7h0M102.7 556.7h0M103.2 532.7h0M109.9 542.7h0M109.5 560.0h0M100.4 561.8h0M98.4 559.3h0M106.7 557.6h0M99.2 558.9h0M100.8 555.8h0M100.5 565.1h0M99.9 559.3h0M111.0 551.4h0M99.6 565.8h0M98.7 562.2h0M108.2 563.8h0M108.2 549.0h0M105.8 529.7h0M100.4 545.9h0M104.4 540.3h0M99.6 559.2h0M100.3 555.7h0M99.6 565.0h0M100.4 555.6h0M119.1 554.8h0M113.5 557.0h0M104.9 553.3h0M102.7 565.4h0M102.7 554.5h0M104.9 535.7h0M101.0 556.7h0M100.5 565.5h0M101.7 554.1h0M108.6 563.7h0M103.8 544.1h0M106.9 554.4h0M100.6 566.6h0M103.4 553.4h0M121.6 507.7h0M100.1 559.3h0M102.5 563.4h0M101.8 557.4h0M99.2 564.0h0M98.8 565.3h0M104.7 548.0h0M102.6 566.1h0M125.7 542.5h0M102.6 558.5h0M103.8 557.8h0M100.2 558.1h0M103.7 528.4h0M98.8 562.4h0M100.0 564.8h0M102.6 540.6h0M112.2 556.1h0M99.7 566.2h0M98.2 564.7h0M102.7 563.8h0M98.8 562.0h0M100.0 551.9h0M99.9 566.5h0M99.6 562.5h0M100.5 563.5h0M105.5 551.7h0M98.5 562.8h0M102.2 563.2h0M98.6 562.8h0M101.2 562.3h0M101.2 560.8h0M102.2 563.8h0M105.4 544.4h0M114.0 562.8h0M98.9 557.4h0M105.6 558.1h0M106.0 551.3h0M98.6 562.9h0M99.0 561.8h0M100.1 565.5h0M104.1 553.9h0M98.6 567.0h0M98.5 564.1h0M98.2 561.1h0M103.2 551.1h0M123.1 522.9h0M100.8 556.2h0M98.9 554.5h0M105.4 564.4h0M115.1 519.1h0M98.3 559.5h0M98.4 558.9h0M104.0 550.5h0M98.3 564.5h0M101.9 559.7h0M99.4 561.9h0M99.2 566.5h0M109.2 551.4h0M110.0 565.2h0M106.9 562.9h0M102.0 553.6h0M104.8 556.3h0M99.3 564.8h0M99.2 558.5h0M105.0 553.9h0M104.8 566.4h0M106.4 518.0h0M103.5 564.2h0M110.6 555.9h0M98.9 566.1h0M108.4 533.9h0M100.1 562.8h0M111.5 560.7h0M101.3 542.8h0M102.0 546.7h0M116.8 535.6h0M102.3 555.3h0M110.2 558.5h0M100.3 557.8h0M99.4 562.3h0M101.2 550.8h0M107.3 565.2h0M101.9 548.1h0M104.6 546.3h0M101.6 559.0h0M98.3 560.8h0M98.3 564.0h0M105.9 565.1h0M103.7 563.5h0M104.1 533.8h0M100.5 554.0h0M98.1 560.6h0M105.6 564.2h0M104.7 539.9h0M100.6 553.8h0M101.6 557.1h0M102.4 538.7h0M105.9 566.0h0M104.8 563.0h0M106.1 556.2h0M99.6 554.4h0M100.1 561.6h0M100.4 567.0h0M98.8 560.6h0M121.9 544.4h0M98.9 562.7h0M98.9 556.8h0M102.7 554.9h0M102.8 559.9h0M99.8 557.2h0M98.9 555.6h0M102.5 545.2h0M99.8 553.6h0M122.9 552.0h0M116.8 515.8h0M99.0 565.6h0M107.6 534.4h0M102.9 559.2h0M121.6 519.1h0M99.4 553.1h0M99.4 564.9h0M108.3 559.1h0M99.3 555.3h0M99.5 563.1h0M110.4 549.6h0M102.3 564.7h0M108.9 512.3h0M109.8 498.2h0M106.0 561.8h0M101.1 564.5h0M109.2 564.7h0M103.1 544.1h0M100.4 560.3h0M105.4 565.6h0M106.0 552.2h0M102.1 553.6h0M100.4 564.3h0M101.3 565.6h0M99.9 557.3h0M99.9 562.9h0M109.5 554.3h0M99.8 562.8h0M112.5 564.0h0M103.0 548.0h0M113.6 547.1h0M99.2 557.1h0M102.0 558.9h0M104.1 547.1h0M100.9 561.0h0M104.3 550.6h0M100.9 552.3h0M99.4 559.2h0M112.0 565.0h0M98.3 562.5h0M117.4 486.7h0M101.1 563.4h0M101.3 561.8h0M107.8 560.7h0M104.6 554.1h0M103.4 549.2h0M102.6 546.9h0M105.5 535.9h0M100.2 560.2h0M111.3 562.8h0M98.3 566.9h0M101.1 549.0h0M109.3 548.5h0M103.5 553.3h0M101.9 565.6h0M125.9 546.1h0M100.1 566.8h0M103.4 544.6h0M103.3 563.0h0M98.3 566.4h0M100.1 553.5h0M98.4 565.3h0M99.8 557.6h0M102.3 548.8h0M98.8 563.3h0M103.0 547.5h0M98.5 566.0h0M108.9 541.3h0M100.7 558.2h0M98.9 557.4h0M103.4 544.2h0M105.1 543.1h0M100.9 564.4h0M101.4 551.3h0M99.4 563.6h0M99.8 565.2h0M99.2 565.9h0M99.4 555.8h0M100.5 562.8h0M104.1 549.4h0M99.5 560.6h0M116.6 551.8h0M110.2 564.9h0M103.8 559.6h0M98.6 566.9h0M98.3 563.6h0M104.3 524.7h0M103.9 553.2h0M104.3 542.1h0M112.5 564.2h0M103.2 548.3h0M105.1 566.2h0M100.7 546.1h0M106.1 564.6h0M100.4 561.6h0M107.6 556.9h0M102.5 561.6h0M108.0 542.4h0M101.0 566.6h0M103.8 545.8h0M105.1 558.5h0M101.4 540.2h0M100.8 558.2h0M102.9 552.4h0M109.3 564.8h0M106.6 564.5h0M102.6 547.1h0M112.5 508.2h0M98.5 557.9h0M112.2 563.2h0M103.1 549.2h0M111.5 564.8h0M100.6 564.9h0M106.7 546.1h0M105.5 555.5h0M100.4 558.8h0M99.1 565.4h0M111.2 562.0h0M101.1 565.7h0M110.6 532.9h0M99.4 565.9h0M99.2 565.7h0M99.7 552.8h0M100.9 561.5h0M99.2 559.2h0M106.5 550.6h0M101.7 549.3h0M126.9 540.5h0M99.7 565.8h0M103.6 563.8h0M99.3 563.2h0M101.9 555.4h0M99.2 557.3h0M105.3 563.3h0M106.4 547.8h0M101.4 546.0h0M99.7 557.2h0M101.9 556.8h0M98.7 562.4h0M100.9 558.0h0M103.2 551.5h0M106.2 565.5h0M100.8 566.9h0M98.5 561.0h0M115.7 486.5h0M100.7 565.8h0M98.3 560.6h0M105.4 562.0h0M98.9 564.3h0M101.9 548.4h0M99.1 562.6h0M99.8 564.3h0M102.7 559.3h0M99.3 560.6h0M98.2 565.9h0M105.3 565.0h0M99.4 561.6h0M104.7 554.0h0M104.7 551.1h0M101.4 565.5h0M107.4 538.7h0M103.0 558.7h0M111.7 561.6h0M100.1 550.1h0M98.4 565.4h0M102.5 558.8h0M99.5 566.8h0M99.7 555.1h0M106.8 531.0h0M109.0 510.2h0M105.8 552.5h0M102.2 543.6h0M100.3 560.1h0M102.1 564.4h0M98.7 564.5h0M100.8 563.0h0M105.1 565.1h0M102.9 538.6h0M103.9 564.6h0M103.3 565.8h0M118.4 561.0h0M103.5 553.9h0M99.5 557.0h0M111.1 554.8h0M102.9 539.4h0M109.3 518.2h0M106.5 558.6h0M99.8 565.6h0M103.7 563.5h0M101.5 542.0h0M101.8 560.1h0M101.8 566.7h0M98.6 557.1h0M102.7 553.9h0M100.2 558.1h0M111.5 557.8h0M103.7 558.1h0M102.4 555.1h0M98.3 564.8h0M106.3 521.4h0M105.5 559.1h0M99.0 566.4h0M100.1 550.3h0M98.6 564.9h0M98.9 557.3h0M111.3 563.8h0M98.2 566.6h0M108.4 533.1h0M100.4 555.1h0M98.8 567.0h0M101.5 565.0h0M98.5 561.6h0M104.1 552.7h0M100.6 564.1h0M101.7 548.4h0M100.1 563.9h0M103.0 565.1h0M103.9 560.8h0M100.1 558.2h0M99.9 556.2h0M102.3 563.5h0M107.7 549.4h0M103.6 554.3h0M102.7 558.7h0M102.1 561.2h0M98.6 562.3h0M98.5 560.1h0M102.7 541.0h0M109.8 544.8h0M100.1 565.7h0M107.9 560.1h0M102.5 566.4h0M103.9 557.5h0M115.7 482.2h0M107.2 551.5h0M104.1 562.8h0M98.7 566.3h0M114.8 551.5h0M99.9 563.7h0M100.8 566.6h0M105.9 561.9h0M110.3 555.0h0M98.4 565.6h0M98.9 563.0h0M99.3 566.6h0M100.3 559.8h0M103.4 562.2h0M103.4 546.6h0M105.8 548.3h0M102.2 560.7h0M99.5 566.0h0M99.2 556.6h0M102.1 553.6h0M103.1 565.6h0M113.3 553.6h0M108.3 565.3h0M120.8 543.5h0M103.4 565.2h0M101.1 555.2h0M98.9 566.5h0M113.0 563.1h0M108.6 554.1h0M100.0 564.5h0M99.5 552.8h0M99.5 559.2h0M113.0 543.0h0M105.6 550.9h0M99.4 557.4h0M102.7 561.0h0M107.7 554.3h0M99.0 560.4h0M99.7 561.3h0M100.5 564.5h0M109.3 519.5h0M102.2 557.2h0M105.9 555.2h0M108.3 561.5h0M111.5 560.3h0M99.2 554.5h0M109.2 564.4h0M100.9 557.9h0M99.9 563.7h0M107.8 516.4h0M99.8 560.1h0M98.8 566.5h0M101.9 557.8h0M101.5 553.7h0M106.6 565.5h0M100.5 560.9h0M102.1 561.7h0M105.9 565.3h0M101.2 541.5h0M103.1 560.9h0M108.4 548.1h0M109.8 556.2h0M106.2 566.1h0M101.6 566.6h0M106.6 548.6h0M117.7 514.3h0M103.1 554.3h0M99.2 558.6h0M106.3 556.2h0M103.0 554.2h0M103.7 564.7h0M99.1 566.4h0M99.1 566.0h0M100.4 564.2h0M106.5 550.5h0M101.2 554.8h0M108.8 547.8h0M101.6 563.3h0M105.3 531.8h0M108.4 519.9h0M98.6 566.2h0M101.3 561.4h0M106.8 565.8h0M103.2 558.2h0M99.3 566.7h0M112.5 555.6h0M99.5 558.5h0M105.1 551.8h0M100.8 565.9h0M101.9 553.7h0M102.3 562.9h0M101.3 555.6h0M100.6 563.7h0M100.4 546.3h0M105.6 528.8h0M104.1 557.6h0M101.3 563.8h0M100.3 562.7h0M101.7 554.3h0M108.1 562.1h0M107.3 514.8h0M99.7 566.6h0M102.2 557.9h0M104.9 528.8h0M99.9 561.5h0M109.7 560.8h0M103.0 538.9h0M106.0 564.9h0M98.7 559.7h0M105.1 561.9h0M100.4 558.1h0M100.9 545.5h0M99.3 557.9h0M104.3 558.7h0M101.9 542.0h0M123.3 560.2h0M98.6 565.8h0M102.9 533.5h0M115.7 554.5h0M108.5 564.4h0M98.7 564.2h0M98.9 561.0h0M99.4 561.9h0M99.3 565.6h0M125.7 485.8h0M99.7 553.9h0M102.0 539.1h0M105.5 561.9h0M100.3 555.8h0M104.7 566.1h0M115.8 548.1h0M98.5 565.6h0M111.2 478.5h0M112.4 478.5h0M113.3 478.5h0M114.8 478.5h0M115.7 478.5h0M117.1 478.5h0M118.1 478.5h0M121.9 478.5h0M123.4 478.5h0M124.8 478.5h0M126.2 478.5h0M127.6 478.5h0M129.1 478.5h0M130.5 478.5h0M131.9 478.5h0M133.4 478.5h0M153.4 516.9h0M131.9 519.0h0M129.6 512.6h0M131.5 526.5h0M132.4 522.2h0M143.4 539.6h0M136.2 537.6h0M123.8 492.8h0M122.9 498.9h0M121.0 481.4h0M120.5 504.7h0" stroke="#ff0000" stroke-width="2.1" stroke-linecap="round" fill="none"/>
<line x1="72.3" y1="567.47" x2="113.3" y2="567.47" stroke="#0a0a0a" stroke-width="1.15" stroke-linecap="round"/>
<path d="M125.4 567.7h0M142.9 567.7h0M147.2 567.7h0" stroke="#111111" stroke-width="2.0" stroke-linecap="round" fill="none"/>
<path d="M39.30 460.2V573.10M38.50 572.3H170.8" stroke="#111" stroke-width="1.7" fill="none"/>
<path d="M35.60 567.30H39.6M35.60 552.74H39.6M35.60 538.18H39.6M35.60 523.62H39.6M35.60 509.06H39.6M35.60 494.50H39.6M35.60 479.94H39.6M35.60 465.38H39.6M45.60 572.3V575.9M69.45 572.3V575.9M93.30 572.3V575.9M117.15 572.3V575.9M141.00 572.3V575.9M164.85 572.3V575.9" stroke="#1a1a1a" stroke-width="1.05" fill="none"/>
<text x="32.20" y="569.60" font-size="6.5" text-anchor="end" fill="#222" textLength="3.15" lengthAdjust="spacingAndGlyphs" class="bd">0</text>
<text x="32.20" y="555.04" font-size="6.5" text-anchor="end" fill="#222" textLength="6.30" lengthAdjust="spacingAndGlyphs" class="bd">50</text>
<text x="32.20" y="540.48" font-size="6.5" text-anchor="end" fill="#222" textLength="9.45" lengthAdjust="spacingAndGlyphs" class="bd">100</text>
<text x="32.20" y="525.92" font-size="6.5" text-anchor="end" fill="#222" textLength="9.45" lengthAdjust="spacingAndGlyphs" class="bd">150</text>
<text x="32.20" y="511.36" font-size="6.5" text-anchor="end" fill="#222" textLength="9.45" lengthAdjust="spacingAndGlyphs" class="bd">200</text>
<text x="32.20" y="496.80" font-size="6.5" text-anchor="end" fill="#222" textLength="9.45" lengthAdjust="spacingAndGlyphs" class="bd">250</text>
<text x="32.20" y="482.24" font-size="6.5" text-anchor="end" fill="#222" textLength="9.45" lengthAdjust="spacingAndGlyphs" class="bd">300</text>
<text x="32.20" y="467.68" font-size="6.5" text-anchor="end" fill="#222" textLength="9.45" lengthAdjust="spacingAndGlyphs" class="bd">350</text>
<text x="45.30" y="584.60" font-size="6.5" text-anchor="middle" fill="#222" textLength="8.30" lengthAdjust="spacingAndGlyphs" class="bd">-10</text>
<text x="69.15" y="584.60" font-size="6.5" text-anchor="middle" fill="#222" textLength="5.15" lengthAdjust="spacingAndGlyphs" class="bd">-5</text>
<text x="93.30" y="584.60" font-size="6.5" text-anchor="middle" fill="#222" textLength="3.15" lengthAdjust="spacingAndGlyphs" class="bd">0</text>
<text x="117.15" y="584.60" font-size="6.5" text-anchor="middle" fill="#222" textLength="3.15" lengthAdjust="spacingAndGlyphs" class="bd">5</text>
<text x="141.00" y="584.60" font-size="6.5" text-anchor="middle" fill="#222" textLength="6.30" lengthAdjust="spacingAndGlyphs" class="bd">10</text>
<text x="164.85" y="584.60" font-size="6.5" text-anchor="middle" fill="#222" textLength="6.30" lengthAdjust="spacingAndGlyphs" class="bd">15</text>
<text x="72.80" y="454.80" font-size="8.8" text-anchor="start" fill="#111" textLength="64.40" lengthAdjust="spacingAndGlyphs" class="bd">Untreated vs TPA+</text>
<text class="bd" transform="translate(16.0,516.2) rotate(-90)" font-size="8.2" text-anchor="middle" textLength="43.9" lengthAdjust="spacingAndGlyphs" fill="#111">-log10 (FDR)</text>
<text x="47.70" y="470.90" font-size="6.5" text-anchor="start" fill="#5a50a5" textLength="13.70" lengthAdjust="spacingAndGlyphs">1,133</text>
<text x="139.20" y="470.90" font-size="6.5" text-anchor="start" fill="#d75a46" textLength="13.70" lengthAdjust="spacingAndGlyphs">1,588</text>
<line x1="134.5" y1="478.6" x2="142.7" y2="478.6" stroke="#111" stroke-width="0.95"/>
<line x1="74.3" y1="542.3" x2="81.7" y2="541.8" stroke="#111" stroke-width="0.95"/>
<line x1="63.5" y1="552.3" x2="106" y2="552.3" stroke="#111" stroke-width="0.95"/>
<line x1="102" y1="546.8" x2="139.1" y2="546.8" stroke="#111" stroke-width="0.95"/>
<line x1="102" y1="563" x2="121.6" y2="563" stroke="#111" stroke-width="0.95"/>
<rect x="142.7" y="475.0" width="16.70" height="7.30" rx="1.4" fill="#fff" stroke="#555" stroke-width="0.75"/>
<text x="151.05" y="480.50" font-size="5.8" text-anchor="middle" textLength="10.9" lengthAdjust="spacingAndGlyphs" fill="#3a3a3a">EGR3</text>
<rect x="57.5" y="538.4" width="16.80" height="7.80" rx="1.4" fill="#fff" stroke="#555" stroke-width="0.75"/>
<text x="65.90" y="544.15" font-size="5.8" text-anchor="middle" textLength="11.0" lengthAdjust="spacingAndGlyphs" fill="#3a3a3a">GYPE</text>
<rect x="45.4" y="548.3" width="18.10" height="8.00" rx="1.4" fill="#fff" stroke="#555" stroke-width="0.75"/>
<text x="54.45" y="554.15" font-size="5.8" text-anchor="middle" textLength="12.3" lengthAdjust="spacingAndGlyphs" fill="#3a3a3a">GYPB</text>
<rect x="62.2" y="558.6" width="18.80" height="7.80" rx="1.4" fill="#fff" stroke="#555" stroke-width="0.75"/>
<text x="71.60" y="564.35" font-size="5.8" text-anchor="middle" textLength="13.0" lengthAdjust="spacingAndGlyphs" fill="#3a3a3a">ACTA2</text>
<rect x="139.1" y="543.5" width="19.40" height="7.30" rx="1.4" fill="#fff" stroke="#555" stroke-width="0.75"/>
<text x="148.80" y="549.00" font-size="5.8" text-anchor="middle" textLength="13.6" lengthAdjust="spacingAndGlyphs" fill="#3a3a3a">CAPN2</text>
<rect x="105.8" y="549.1" width="18.10" height="7.40" rx="1.4" fill="#fff" stroke="#555" stroke-width="0.75"/>
<text x="114.85" y="554.65" font-size="5.8" text-anchor="middle" textLength="12.3" lengthAdjust="spacingAndGlyphs" fill="#3a3a3a">GYPA</text>
<rect x="121.6" y="558.3" width="23.40" height="7.60" rx="1.4" fill="#fff" stroke="#555" stroke-width="0.75"/>
<text x="133.30" y="563.95" font-size="5.8" text-anchor="middle" textLength="17.6" lengthAdjust="spacingAndGlyphs" fill="#3a3a3a">CORO1A</text>
</g>
<g id="pC">
<rect x="206.4" y="460.2" width="135.70" height="112.10" fill="#ebebeb"/>
<path d="M224.50 460.2V572.3M249.30 460.2V572.3M274.10 460.2V572.3M298.90 460.2V572.3M323.70 460.2V572.3M206.4 560.02H342.1M206.4 545.46H342.1M206.4 530.90H342.1M206.4 516.34H342.1M206.4 501.78H342.1M206.4 487.22H342.1M206.4 472.66H342.1" stroke="#f3f3f3" stroke-width="0.5" fill="none"/>
<path d="M212.10 460.2V572.3M236.90 460.2V572.3M261.70 460.2V572.3M286.50 460.2V572.3M311.30 460.2V572.3M336.10 460.2V572.3M206.4 567.30H342.1M206.4 552.74H342.1M206.4 538.18H342.1M206.4 523.62H342.1M206.4 509.06H342.1M206.4 494.50H342.1M206.4 479.94H342.1M206.4 465.38H342.1" stroke="#fafafa" stroke-width="0.6" fill="none"/>
<path d="M256.74 460.2V572.3M266.66 460.2V572.3M206.4 567.13H342.1" stroke="#666" stroke-width="0.9" stroke-dasharray="1.2 1.5" fill="none"/>
<path d="M256.54 567.30L256.54 556.23L256.91 556.23L257.28 556.23L257.65 556.23L258.02 556.23L258.38 557.52L258.75 559.20L259.12 560.69L259.49 561.98L259.86 563.07L260.23 563.97L260.59 564.66L260.96 565.16L261.33 565.45L261.70 565.55L262.07 565.45L262.44 565.16L262.81 564.66L263.17 563.97L263.54 563.07L263.91 561.98L264.28 560.69L264.65 559.20L265.02 557.52L265.38 556.23L265.75 556.23L266.12 556.23L266.49 556.23L266.86 556.23L266.86 567.30Z" fill="#00fa00" stroke="#00fa00" stroke-width="0.8" stroke-linejoin="round"/>
<path d="M248.1 536.3h0M255.4 564.3h0M251.3 543.8h0M251.7 563.5h0M254.0 558.9h0M253.2 561.9h0M255.0 559.8h0M252.5 558.9h0M253.5 565.1h0M256.0 563.6h0M254.6 565.9h0M250.1 538.6h0M249.0 529.4h0M253.9 553.0h0M251.5 553.3h0M256.0 559.1h0M251.1 552.1h0M252.7 560.9h0M251.4 565.0h0M255.5 566.0h0M252.9 554.3h0M253.0 554.6h0M254.7 564.4h0M242.2 562.1h0M250.6 562.1h0M254.4 566.3h0M255.0 566.6h0M251.3 549.6h0M252.0 544.1h0M253.7 555.8h0M253.1 559.2h0M249.9 547.6h0M247.9 542.5h0M250.3 543.2h0M251.1 555.0h0M254.8 561.3h0M253.4 564.2h0M250.3 565.6h0M248.1 543.9h0M251.7 557.6h0M249.3 558.5h0M246.8 553.3h0M251.5 560.9h0M254.9 565.0h0M256.3 566.2h0M253.4 556.7h0M254.0 563.6h0M249.7 535.9h0M250.6 558.4h0M255.5 560.2h0M252.1 547.6h0M250.1 554.5h0M251.7 565.3h0M246.0 555.5h0M248.2 555.0h0M245.7 544.1h0M249.3 546.0h0M247.7 561.2h0M252.8 556.9h0M254.8 558.2h0M252.8 563.3h0M253.6 553.8h0M249.9 538.3h0M252.5 548.8h0M251.5 549.9h0M254.3 556.5h0M250.0 565.4h0M252.2 565.4h0M252.7 566.2h0M249.9 556.3h0M253.9 551.6h0M251.0 554.2h0M249.1 563.2h0M252.5 566.1h0M251.3 547.3h0M256.3 565.6h0M254.5 556.1h0M251.6 559.1h0M253.1 550.9h0M247.4 557.7h0M253.7 558.8h0M247.8 549.7h0M250.7 541.0h0M244.0 563.3h0M245.8 562.3h0M252.5 556.1h0M253.6 561.4h0M252.1 558.9h0M252.4 557.6h0M253.7 559.2h0M253.3 554.4h0M253.1 563.6h0M252.1 543.6h0M254.8 562.0h0M255.1 564.5h0M252.6 553.2h0M255.3 565.1h0M247.9 563.9h0M252.5 565.3h0M255.8 563.7h0M250.0 560.2h0M251.9 548.1h0M252.1 561.6h0M248.6 561.9h0M251.8 565.5h0M255.3 559.6h0M251.1 555.8h0M254.1 557.6h0M252.7 551.8h0M253.1 565.4h0M251.5 562.2h0M254.6 566.9h0M253.3 559.5h0M250.3 556.5h0M255.1 566.2h0M252.7 558.3h0M252.5 565.9h0M253.0 550.5h0M244.9 564.0h0M253.2 549.3h0M250.9 565.8h0M251.4 563.4h0M256.2 560.0h0M253.6 552.5h0M247.5 559.2h0M251.2 541.3h0M251.8 551.4h0M254.2 558.1h0M252.1 558.3h0M249.2 535.7h0M250.6 562.2h0M248.7 549.2h0M250.0 564.0h0M251.3 565.1h0M250.5 562.2h0M245.9 565.6h0M250.3 538.2h0M246.7 557.2h0M253.4 555.8h0M247.0 558.4h0M252.0 546.1h0M250.4 545.5h0M253.4 564.6h0M255.7 565.3h0M246.2 529.6h0M246.4 532.7h0M251.2 560.9h0M255.7 559.7h0M250.4 559.2h0M253.9 556.6h0M247.6 538.0h0M247.3 532.2h0M250.6 556.9h0M249.3 564.9h0M251.2 558.2h0M249.4 553.0h0M254.6 559.8h0M254.6 561.0h0M253.1 563.9h0M248.1 566.1h0M246.0 529.8h0M253.5 555.9h0M254.2 559.5h0M248.2 527.5h0M252.1 555.8h0M247.1 542.4h0M250.8 564.1h0M253.5 552.4h0M248.7 558.2h0M254.9 561.9h0M254.4 561.8h0M254.8 561.9h0M249.7 551.5h0M247.0 556.3h0M253.2 562.6h0M251.0 559.6h0M251.1 538.2h0M252.8 562.2h0M251.1 555.9h0M253.2 554.3h0M249.3 551.9h0M254.4 557.7h0M249.5 546.1h0M253.4 562.5h0M246.8 542.4h0M254.3 559.0h0M254.3 555.5h0M255.2 565.0h0M252.2 563.1h0M254.6 558.3h0M247.6 557.0h0M254.0 555.7h0M253.1 555.8h0M251.8 563.0h0M250.6 535.9h0M250.7 542.6h0M252.5 551.1h0M251.3 544.6h0M249.1 540.9h0M251.2 552.4h0M254.4 564.1h0M252.5 552.3h0M253.5 549.9h0M254.6 561.4h0M250.6 562.2h0M247.8 561.4h0M251.8 546.2h0M250.7 558.4h0M246.4 525.1h0M254.8 564.8h0M250.9 560.2h0M250.1 535.4h0M256.1 564.4h0M247.6 559.4h0M252.6 562.9h0M244.8 542.9h0M252.1 554.3h0M251.3 557.9h0M250.5 547.4h0M245.0 552.6h0M251.8 546.4h0M252.0 563.4h0M249.2 563.9h0M245.1 556.0h0M253.4 563.3h0M253.0 561.3h0M250.8 563.5h0M249.8 558.6h0M240.7 555.2h0M252.6 558.2h0M251.2 554.7h0M247.7 536.7h0M254.9 562.4h0M243.4 543.3h0M253.4 562.1h0M254.4 566.9h0M252.4 549.4h0M253.4 556.8h0M254.9 565.9h0M246.3 563.3h0M254.8 565.5h0M253.0 565.6h0M245.3 541.3h0M254.2 564.8h0M240.8 564.2h0M250.6 566.4h0M254.2 557.3h0M243.6 553.2h0M248.2 565.7h0M250.6 543.1h0M254.8 560.6h0M255.9 560.7h0M250.3 538.5h0M252.4 563.2h0M250.9 539.4h0M254.5 561.8h0M254.6 555.0h0M254.5 559.5h0M252.2 564.2h0M253.5 564.4h0M251.5 559.8h0M256.2 565.1h0M247.6 564.4h0M251.5 559.7h0M252.8 551.9h0M252.1 557.7h0M252.6 558.4h0M248.4 534.1h0M253.6 565.3h0M250.2 563.6h0M256.2 562.2h0M249.4 547.8h0M252.1 555.3h0M247.5 560.7h0M249.9 529.0h0M249.1 535.9h0M252.8 561.7h0M252.6 564.8h0M253.1 562.0h0M252.3 561.0h0M248.4 561.7h0M251.0 566.1h0M251.7 559.2h0M255.8 566.0h0M248.9 529.8h0M247.8 550.4h0M249.9 558.4h0M248.6 560.2h0M248.3 531.0h0M252.2 564.4h0M254.0 561.4h0M250.8 551.4h0M252.1 562.1h0M254.5 563.2h0M255.4 559.5h0M241.7 544.7h0M243.2 561.5h0M252.2 564.1h0M252.4 558.4h0M253.3 552.3h0M252.0 564.8h0M254.9 563.9h0M250.1 547.9h0M251.4 565.9h0M248.2 555.9h0M253.0 559.0h0M244.3 540.5h0M250.1 534.0h0M254.8 557.0h0M255.9 565.7h0M247.3 555.6h0M245.0 532.8h0M249.4 537.8h0M251.4 566.3h0M252.5 544.6h0M252.5 549.5h0M254.8 563.7h0M256.1 566.9h0M250.9 562.2h0M250.7 548.5h0M252.7 561.9h0M255.0 556.4h0M253.1 557.2h0M247.7 561.4h0M250.7 544.9h0M247.3 551.2h0M253.8 561.2h0M248.0 541.1h0M252.2 549.1h0M248.2 560.9h0M250.1 551.4h0M253.4 563.2h0M252.8 562.2h0M243.5 542.2h0M252.9 554.3h0M252.4 566.3h0M254.6 554.0h0M252.1 564.9h0M250.9 540.8h0M252.6 564.6h0M251.6 556.8h0M249.7 533.1h0M249.0 558.8h0M251.4 556.1h0M249.5 523.9h0M251.2 555.0h0M252.4 549.4h0M255.5 557.3h0M253.7 564.9h0M255.2 561.9h0M250.0 564.2h0M253.6 562.2h0M250.8 549.3h0M254.7 563.6h0M256.0 564.5h0M254.8 554.5h0M248.5 547.5h0M248.9 558.3h0M253.5 554.7h0M254.1 562.4h0M247.6 558.3h0M252.3 564.9h0M252.4 552.8h0M249.2 525.8h0M253.9 556.5h0M251.8 546.7h0M252.3 556.7h0M253.4 560.9h0M249.9 549.6h0M253.6 565.0h0M249.5 535.4h0M254.9 566.4h0M251.9 552.7h0M254.6 554.4h0M254.7 561.7h0M253.6 566.7h0M253.6 566.0h0M250.3 565.9h0M254.4 555.0h0M255.1 566.0h0M254.3 556.9h0M252.9 564.7h0M244.2 553.4h0M248.8 563.8h0M253.5 562.2h0M254.7 566.2h0M255.8 562.1h0M250.1 561.3h0M253.6 566.7h0M247.8 539.6h0M253.0 565.2h0M251.0 547.6h0M252.4 548.8h0M254.7 554.8h0M246.6 537.6h0M253.3 550.5h0M254.1 565.3h0M249.9 557.0h0M255.9 560.1h0M245.2 526.7h0M249.8 551.7h0M253.7 554.3h0M250.4 562.2h0M250.7 556.0h0M253.1 559.5h0M254.8 556.4h0M241.7 544.2h0M250.2 563.3h0M255.4 566.6h0M253.0 564.9h0M249.9 565.0h0M253.2 558.3h0M254.3 563.7h0M253.1 566.7h0M249.8 547.3h0M249.3 549.2h0M255.5 563.4h0M246.4 565.4h0M249.0 535.5h0M247.5 540.9h0M251.8 554.6h0M253.8 559.0h0M251.5 558.9h0M248.4 530.1h0M254.5 561.1h0M251.9 556.9h0M248.2 550.8h0M247.7 552.0h0M249.0 546.2h0M247.7 565.7h0M251.0 566.0h0M252.4 559.9h0M255.1 565.9h0M248.6 557.1h0M253.8 559.1h0M251.5 562.0h0M252.7 560.4h0M254.1 564.2h0M247.7 557.1h0M247.2 533.6h0M256.1 564.1h0M250.7 565.8h0M252.7 549.6h0M253.7 563.3h0M254.0 562.4h0M254.7 557.3h0M246.4 551.7h0M253.9 557.4h0M253.7 557.9h0M250.2 541.0h0M247.2 553.8h0M247.8 564.5h0M253.8 565.9h0M252.9 562.4h0M251.0 549.7h0M254.4 564.6h0M253.6 564.3h0M249.2 565.6h0M254.8 566.3h0M249.7 533.1h0M254.0 565.0h0M255.9 563.5h0M253.9 556.7h0M250.8 563.4h0M254.4 564.6h0M254.4 564.3h0M243.8 560.2h0M255.1 560.4h0M252.5 550.3h0M242.1 562.3h0M250.5 556.0h0M248.6 552.3h0M253.2 551.9h0M249.2 543.5h0M248.6 555.4h0M249.7 546.0h0M250.4 549.1h0M250.9 547.4h0M256.1 566.7h0M251.3 566.0h0M255.5 561.8h0M249.9 553.5h0M249.9 561.6h0M247.3 540.1h0M250.6 553.9h0M248.5 549.7h0M251.6 543.1h0M244.6 565.6h0M252.2 564.6h0M255.2 562.0h0M254.4 564.0h0M248.6 564.6h0M253.5 552.9h0M253.1 555.6h0M254.6 563.1h0M252.9 561.2h0M254.4 565.8h0M247.9 548.9h0M253.9 550.2h0M254.9 561.8h0M247.2 556.0h0M254.7 565.6h0M253.8 555.6h0M252.2 561.1h0M253.0 565.6h0M254.6 560.0h0M246.9 541.2h0M252.7 564.0h0M249.4 525.6h0M249.8 554.0h0M253.0 564.8h0M242.4 556.7h0M254.3 561.3h0M249.7 553.1h0M246.6 539.0h0M252.8 563.7h0M251.7 555.6h0M247.7 543.0h0M254.1 557.8h0M256.3 565.9h0M253.7 565.5h0M250.4 564.8h0M249.0 535.0h0M254.7 557.7h0M248.4 563.9h0M256.6 566.3h0M253.7 557.8h0M244.5 541.0h0M253.4 556.4h0M247.6 546.4h0M248.8 563.5h0M250.5 565.9h0M242.3 550.3h0M250.0 554.1h0M255.4 557.0h0M252.6 560.5h0M250.6 553.5h0M254.9 564.4h0M248.4 545.4h0M251.4 559.7h0M250.5 550.7h0M253.1 564.0h0M252.5 565.4h0M254.3 561.3h0M254.7 554.2h0M250.9 555.8h0M252.1 562.4h0M250.1 559.3h0M253.8 564.6h0M252.6 564.8h0M253.5 549.5h0M253.4 557.7h0M252.6 563.4h0M251.0 565.8h0M255.5 562.4h0M248.1 554.9h0M247.2 564.8h0M248.0 565.8h0M254.3 552.6h0M255.1 566.7h0M253.3 563.9h0M249.4 525.7h0M248.7 541.0h0M250.1 565.0h0M250.3 555.5h0M250.9 551.2h0M242.0 556.1h0M251.5 564.4h0M254.6 559.2h0M250.6 549.4h0M252.4 551.5h0M250.8 548.6h0M255.1 567.0h0M254.7 561.9h0M253.3 552.1h0M250.0 543.5h0M252.2 563.5h0M253.9 562.8h0M253.9 560.9h0M247.4 545.7h0M252.4 549.4h0M247.6 541.0h0M254.1 560.3h0M253.9 565.9h0M252.5 558.1h0M252.0 563.8h0M253.0 560.1h0M251.6 542.5h0M253.1 550.2h0M244.4 538.1h0M252.4 552.1h0M254.2 564.1h0M249.4 564.5h0M253.2 563.9h0M253.2 561.5h0M251.6 542.4h0M250.8 545.9h0M253.2 550.8h0M251.2 548.6h0M251.0 547.5h0M250.0 540.3h0M251.2 557.8h0M245.6 531.9h0M250.1 548.0h0M255.4 562.1h0M248.2 535.8h0M251.3 565.2h0M253.5 557.7h0M244.0 558.2h0M251.6 563.6h0M253.7 562.4h0M252.1 565.4h0M255.1 559.3h0M249.4 562.3h0M243.3 546.0h0M254.5 564.5h0M247.8 551.8h0M253.5 552.0h0M251.8 561.2h0M250.8 565.4h0M253.4 555.8h0M252.8 563.0h0M251.2 549.7h0M247.7 554.7h0M254.4 558.2h0M251.0 547.2h0M255.1 558.4h0M251.9 550.3h0M254.0 566.0h0M249.3 542.6h0M248.5 563.9h0M252.8 557.3h0M246.1 537.2h0M249.1 558.0h0M250.2 561.1h0M251.5 565.7h0M249.7 545.4h0M253.8 564.6h0M240.4 549.8h0M252.9 564.8h0M254.6 566.9h0M245.1 544.8h0M252.0 562.4h0M254.5 563.7h0M251.7 561.1h0M254.2 563.1h0M245.8 546.5h0M254.2 562.7h0M255.1 560.6h0M249.7 538.9h0M254.3 565.4h0M255.0 560.3h0M255.2 562.0h0M247.1 542.3h0M253.9 560.0h0M250.1 554.7h0M254.7 566.6h0M246.7 533.6h0M252.8 564.0h0M254.4 563.0h0M254.6 560.4h0M252.6 561.7h0M253.7 566.1h0M255.1 563.2h0M256.3 563.3h0M252.8 566.2h0M241.6 553.4h0M251.3 566.2h0M255.1 560.4h0M253.3 548.6h0M251.2 550.8h0M255.8 565.6h0M250.2 561.8h0M252.3 566.2h0M255.6 565.2h0M250.6 553.4h0M252.8 554.1h0M253.2 563.4h0M253.8 560.3h0M253.1 566.5h0M254.7 561.2h0M252.4 551.0h0M252.2 564.2h0M252.8 559.6h0M252.8 550.4h0M251.9 547.4h0M255.0 561.2h0M248.9 541.2h0M254.2 553.0h0M252.2 553.9h0M249.2 560.0h0M252.2 557.9h0M248.4 555.3h0M248.3 542.9h0M243.6 561.1h0M254.3 564.0h0M248.1 558.3h0M250.1 533.1h0M250.4 561.8h0M248.4 545.7h0M248.3 561.9h0M253.9 566.7h0M248.5 561.7h0M249.9 545.3h0M252.3 555.2h0M240.5 540.3h0M256.2 566.6h0M255.4 561.0h0M250.7 564.7h0M251.8 555.3h0M249.7 546.5h0M251.8 543.6h0M254.0 562.6h0M251.0 535.8h0M254.6 554.5h0M254.6 565.7h0M249.0 539.5h0M249.8 542.9h0M247.3 557.6h0M250.2 558.8h0M249.5 544.4h0M248.2 565.0h0M254.4 557.5h0M253.4 558.5h0M246.2 555.7h0M254.6 562.7h0M251.3 553.7h0M247.1 556.0h0M249.1 536.8h0M251.2 538.4h0M248.0 531.0h0M251.1 565.8h0M243.0 542.2h0M251.6 549.1h0M250.9 564.7h0M251.7 542.7h0M245.7 526.6h0M248.8 566.1h0M251.4 562.0h0M249.7 564.4h0M249.9 541.9h0M249.9 537.9h0M252.6 547.4h0M251.5 553.9h0M255.2 566.6h0M254.5 561.6h0M255.0 558.7h0M255.3 563.0h0M254.1 566.8h0M253.8 557.9h0M255.4 564.9h0M250.2 530.5h0M251.8 566.3h0M250.2 549.2h0M245.2 560.7h0M253.8 553.4h0M249.7 560.8h0M253.1 566.1h0M251.5 545.7h0M250.7 550.7h0M248.6 554.8h0M247.3 550.0h0M254.6 562.9h0M250.7 534.4h0M251.5 549.7h0M250.8 550.5h0M248.9 538.1h0M248.3 533.8h0M254.1 566.9h0M255.0 566.2h0M251.8 564.3h0M252.7 545.4h0M252.2 551.0h0M249.6 560.0h0M255.7 562.8h0M250.7 550.7h0M254.7 564.2h0M254.2 558.2h0M254.6 563.9h0M253.8 554.9h0M227.0 565.0h0M236.4 558.0h0M241.9 550.1h0M242.9 541.1h0M240.9 532.6h0M242.9 558.6h0M241.9 563.8h0M243.3 546.9h0M240.4 552.7h0M238.9 561.5h0M241.4 541.1h0M239.9 536.7h0" stroke="#0000ff" stroke-width="2.1" stroke-linecap="round" fill="none"/>
<path d="M291.9 540.7h0M276.0 534.3h0M290.6 552.5h0M276.3 531.9h0M282.8 541.5h0M278.1 531.1h0M281.6 525.4h0M289.4 546.9h0M284.0 524.4h0M280.0 553.7h0M285.7 547.2h0M282.9 529.2h0M287.4 540.3h0M276.1 548.9h0M293.0 539.6h0M278.3 549.9h0M276.0 526.2h0M291.0 553.6h0M276.1 532.2h0M288.0 535.7h0M286.6 527.0h0M295.5 550.1h0M276.7 547.2h0M289.2 545.4h0M288.8 540.3h0M280.9 522.0h0M286.1 528.0h0M286.1 528.5h0M287.7 552.8h0M290.4 538.1h0M286.4 531.7h0M290.6 552.7h0M282.6 546.4h0M292.8 548.5h0M295.0 541.1h0M275.7 542.9h0M285.0 518.2h0M291.7 536.2h0M276.1 530.8h0M284.2 533.8h0M286.6 555.1h0M295.3 538.2h0M294.2 546.2h0M275.8 526.3h0M279.1 543.8h0M293.9 541.0h0M277.3 523.3h0M275.2 531.2h0M278.6 550.6h0M281.1 521.1h0M287.8 521.0h0M293.8 539.7h0M284.1 542.7h0M286.6 518.5h0M280.1 522.0h0M278.8 541.8h0M275.0 561.9h0M271.5 566.5h0M273.9 552.4h0M267.9 564.9h0M285.0 562.2h0M270.7 545.1h0M283.0 560.9h0M272.1 553.7h0M277.1 523.0h0M277.9 564.2h0M281.1 537.5h0M268.0 559.0h0M284.1 541.7h0M271.9 553.4h0M271.4 550.0h0M278.0 562.2h0M284.9 558.9h0M280.7 553.2h0M278.1 564.9h0M274.8 563.9h0M273.3 561.0h0M297.8 537.9h0M271.3 557.7h0M284.2 558.1h0M276.7 525.1h0M275.8 554.9h0M269.2 552.7h0M269.6 548.0h0M276.1 542.1h0M277.4 555.2h0M270.0 554.9h0M274.0 564.7h0M280.2 563.3h0M269.0 564.0h0M270.7 544.6h0M273.2 558.7h0M272.8 563.4h0M276.6 561.9h0M270.5 549.9h0M279.8 559.6h0M272.6 563.4h0M274.3 564.1h0M282.2 549.6h0M299.6 488.7h0M276.8 534.6h0M273.7 556.0h0M279.4 564.6h0M279.1 543.6h0M282.1 563.7h0M285.2 541.7h0M272.3 560.8h0M278.8 536.0h0M272.7 551.2h0M271.2 559.1h0M278.8 544.3h0M273.0 550.0h0M267.7 562.4h0M270.2 556.4h0M284.2 564.2h0M274.5 556.6h0M284.7 560.8h0M271.2 566.6h0M274.3 539.2h0M292.3 535.1h0M277.5 565.3h0M275.4 538.8h0M277.5 537.8h0M275.7 562.9h0M289.3 491.5h0M272.1 548.2h0M273.5 557.0h0M273.7 562.5h0M273.0 559.3h0M276.7 565.5h0M271.2 541.3h0M272.9 565.0h0M268.1 566.1h0M276.0 555.6h0M274.9 564.2h0M270.5 565.2h0M275.1 560.8h0M266.9 562.3h0M268.3 565.9h0M270.1 563.8h0M270.5 565.3h0M278.4 561.7h0M273.9 538.2h0M287.2 537.6h0M275.8 563.3h0M269.1 553.6h0M276.2 546.7h0M284.4 533.6h0M282.1 562.6h0M273.4 555.7h0M275.3 542.0h0M282.7 551.4h0M270.6 565.3h0M269.8 560.6h0M278.1 560.6h0M286.4 555.1h0M266.9 557.9h0M279.2 554.2h0M288.8 530.6h0M278.5 551.8h0M285.1 563.9h0M269.0 567.0h0M284.1 546.4h0M267.2 566.5h0M274.1 565.3h0M276.4 549.3h0M270.3 559.1h0M285.7 560.8h0M272.9 563.2h0M277.5 559.3h0M274.2 556.9h0M271.0 563.0h0M281.0 556.3h0M271.7 563.8h0M281.1 523.1h0M268.6 563.5h0M274.5 566.0h0M269.9 560.8h0M286.5 555.2h0M286.0 520.2h0M271.5 551.2h0M271.1 565.5h0M278.1 565.7h0M279.2 558.8h0M281.9 554.2h0M279.8 546.2h0M272.8 553.2h0M272.9 563.6h0M274.8 566.1h0M267.9 566.2h0M275.0 553.9h0M284.4 561.6h0M273.0 564.7h0M277.3 548.0h0M269.0 550.3h0M272.2 564.1h0M283.4 514.1h0M269.3 556.4h0M269.1 559.2h0M272.1 562.2h0M279.9 564.5h0M267.4 558.6h0M269.0 566.4h0M271.8 543.1h0M267.0 557.9h0M280.7 558.7h0M273.0 561.5h0M271.3 548.1h0M291.9 553.8h0M272.3 559.5h0M270.6 560.7h0M270.4 559.0h0M279.4 564.9h0M271.6 563.7h0M278.5 538.6h0M280.5 553.1h0M294.2 489.0h0M271.6 559.9h0M278.3 543.6h0M272.3 564.1h0M273.2 559.7h0M283.0 557.9h0M282.7 562.0h0M276.0 547.0h0M269.4 565.6h0M294.5 546.4h0M279.3 559.3h0M274.0 564.1h0M272.0 551.0h0M266.7 560.8h0M267.8 561.8h0M270.2 564.6h0M272.5 542.8h0M268.0 558.1h0M267.0 565.1h0M270.3 563.7h0M278.4 554.3h0M293.3 558.4h0M281.6 565.1h0M281.2 564.0h0M272.9 564.8h0M296.8 559.0h0M276.2 558.8h0M282.2 545.8h0M270.6 555.7h0M280.3 542.3h0M269.6 556.9h0M287.7 559.0h0M270.7 559.0h0M275.3 543.7h0M280.5 560.5h0M296.7 559.5h0M275.8 529.0h0M270.2 555.6h0M267.0 560.8h0M272.7 552.5h0M276.2 546.0h0M274.8 564.2h0M268.6 564.5h0M271.1 564.0h0M270.4 565.1h0M273.5 546.0h0M273.5 559.9h0M283.3 560.7h0M288.1 534.4h0M289.1 492.9h0M269.2 566.4h0M267.0 566.3h0M272.6 563.3h0M274.5 556.6h0M278.1 565.9h0M270.5 561.2h0M274.9 564.6h0M275.9 564.0h0M271.2 564.9h0M266.9 564.7h0M271.6 540.6h0M271.1 565.9h0M276.0 563.8h0M284.1 531.0h0M278.5 565.8h0M274.4 562.0h0M273.7 564.8h0M271.6 561.2h0M276.7 565.5h0M273.9 565.3h0M284.8 551.3h0M281.7 549.6h0M269.4 558.3h0M267.5 562.2h0M282.7 563.3h0M271.9 566.7h0M267.2 559.7h0M270.0 559.9h0M276.7 558.0h0M269.5 549.4h0M295.4 523.2h0M281.7 554.0h0M270.0 556.9h0M268.1 560.2h0M272.2 564.7h0M269.3 560.7h0M269.0 557.6h0M268.8 562.9h0M276.9 549.6h0M271.0 563.0h0M271.6 565.0h0M288.7 558.4h0M280.1 541.4h0M268.3 566.3h0M267.1 560.2h0M277.6 552.5h0M282.2 556.5h0M284.6 552.7h0M271.7 566.7h0M274.6 561.9h0M269.6 555.5h0M271.2 561.6h0M281.8 552.8h0M271.5 548.3h0M273.0 566.4h0M270.2 563.4h0M284.0 560.1h0M293.6 481.7h0M267.4 566.0h0M267.5 563.7h0M283.8 561.2h0M275.8 560.8h0M271.2 563.4h0M270.4 555.5h0M278.0 556.4h0M268.5 561.5h0M273.0 552.0h0M272.7 553.9h0M275.1 550.0h0M270.4 548.1h0M267.9 564.1h0M277.3 558.6h0M281.4 547.7h0M273.0 561.3h0M270.3 549.5h0M268.0 559.3h0M269.5 565.3h0M275.4 558.7h0M282.1 529.9h0M277.6 545.2h0M269.1 562.7h0M270.1 565.6h0M270.1 550.7h0M266.9 559.4h0M270.9 565.7h0M272.1 545.1h0M271.9 562.6h0M290.2 502.1h0M270.5 558.5h0M298.4 519.5h0M268.6 565.4h0M268.4 566.4h0M276.5 545.9h0M273.7 562.5h0M275.4 538.2h0M267.1 562.1h0M277.6 560.9h0M282.4 547.6h0M290.3 555.2h0M287.9 548.7h0M278.4 557.9h0M268.1 566.2h0M268.5 565.7h0M272.6 563.6h0M274.1 562.8h0M284.8 540.8h0M288.0 559.5h0M283.4 540.6h0M268.2 554.2h0M275.5 560.3h0M269.5 561.9h0M276.7 561.9h0M267.7 557.4h0M275.6 563.2h0M282.8 558.1h0M271.8 549.4h0M288.9 543.6h0M286.1 562.3h0M270.9 557.9h0M268.6 559.1h0M267.6 561.9h0M268.3 558.2h0M271.9 563.6h0M276.4 562.3h0M274.0 565.0h0M272.2 546.4h0M268.3 557.9h0M267.2 562.9h0M283.5 563.4h0M277.3 556.5h0M277.3 562.9h0M270.0 565.2h0M271.3 561.9h0M274.9 553.8h0M272.0 559.7h0M268.0 566.0h0M267.5 562.6h0M270.8 566.3h0M273.0 563.2h0M284.3 563.2h0M292.5 524.0h0M267.1 564.5h0M277.8 552.7h0M266.9 566.9h0M270.4 566.6h0M272.0 541.6h0M266.9 561.2h0M271.5 564.9h0M292.0 545.5h0M281.0 560.7h0M272.4 564.2h0M286.0 557.1h0M269.7 557.6h0M284.5 557.1h0M268.7 561.5h0M282.5 532.6h0M266.8 566.5h0M273.9 562.0h0M268.2 565.8h0M281.6 549.8h0M274.5 533.4h0M274.4 557.8h0M269.8 553.8h0M281.3 552.2h0M269.2 553.5h0M277.9 565.4h0M275.6 532.9h0M274.6 562.0h0M272.1 554.4h0M281.8 549.1h0M268.8 560.3h0M268.9 561.9h0M272.4 541.7h0M279.3 563.1h0M287.5 553.3h0M282.0 544.8h0M277.4 564.2h0M272.9 560.8h0M275.1 539.7h0M274.3 553.3h0M271.6 553.6h0M284.1 559.4h0M272.6 559.5h0M268.1 558.2h0M275.8 561.6h0M277.3 539.2h0M268.6 564.5h0M289.7 557.7h0M276.3 563.2h0M274.1 546.0h0M269.5 565.3h0M270.9 562.0h0M270.3 555.5h0M272.5 553.4h0M273.2 562.1h0M268.0 564.2h0M280.9 554.4h0M273.6 559.9h0M270.3 564.3h0M282.3 556.4h0M276.4 553.7h0M275.8 556.0h0M273.6 530.7h0M267.4 561.9h0M279.6 561.6h0M272.4 565.4h0M271.5 566.5h0M275.9 556.5h0M270.8 547.7h0M280.1 564.5h0M287.7 556.7h0M269.2 567.0h0M280.3 562.0h0M268.0 561.8h0M283.1 559.2h0M275.6 563.6h0M286.7 559.0h0M278.2 565.2h0M273.8 550.4h0M268.9 566.6h0M273.9 538.2h0M279.9 541.6h0M297.7 557.7h0M276.9 545.6h0M268.6 561.9h0M268.6 560.8h0M272.6 563.4h0M271.1 561.2h0M271.2 559.3h0M276.6 563.7h0M278.7 564.6h0M270.8 549.1h0M277.3 551.6h0M269.2 564.9h0M278.3 557.4h0M279.3 557.8h0M271.1 564.3h0M273.4 539.3h0M282.6 493.7h0M272.6 564.4h0M267.3 563.5h0M268.8 566.5h0M270.4 565.5h0M282.4 531.1h0M271.9 563.6h0M271.7 562.5h0M273.0 565.5h0M268.1 566.2h0M269.4 566.1h0M282.2 555.1h0M279.7 563.4h0M273.7 557.2h0M267.0 557.6h0M268.3 563.0h0M273.6 546.2h0M271.9 565.2h0M273.8 564.7h0M280.7 563.8h0M278.4 557.6h0M268.4 558.1h0M273.7 544.0h0M266.8 559.0h0M283.6 544.4h0M267.2 558.7h0M268.7 563.0h0M270.2 563.8h0M271.2 566.0h0M281.1 564.3h0M271.7 562.0h0M268.5 566.4h0M285.0 563.2h0M269.7 564.3h0M275.5 546.4h0M291.6 551.8h0M277.5 559.7h0M267.8 563.0h0M287.7 489.7h0M278.8 552.3h0M268.6 564.7h0M282.1 553.7h0M272.2 563.1h0M283.7 499.3h0M271.7 563.3h0M271.6 542.8h0M269.9 565.8h0M268.9 559.0h0M272.2 553.8h0M266.8 565.6h0M276.6 563.5h0M268.7 567.0h0M268.6 557.8h0M294.1 537.2h0M274.5 541.8h0M293.1 490.8h0M290.0 525.4h0M279.6 565.3h0M267.7 563.2h0M267.7 565.2h0M275.4 559.1h0M300.6 548.9h0M274.8 534.7h0M268.6 566.6h0M270.0 554.9h0M272.3 566.7h0M282.9 557.7h0M267.8 561.8h0M267.5 565.7h0M269.5 564.1h0M276.1 556.1h0M281.5 531.9h0M269.7 559.0h0M268.9 555.9h0M298.9 516.5h0M282.0 552.8h0M272.5 559.2h0M271.3 566.0h0M278.5 556.0h0M280.1 552.5h0M268.9 555.4h0M278.9 559.3h0M272.3 554.2h0M266.9 565.5h0M269.6 560.0h0M271.2 548.8h0M273.2 564.8h0M274.6 564.6h0M273.7 548.9h0M269.8 562.4h0M282.1 562.7h0M272.5 552.2h0M266.8 565.3h0M272.5 558.8h0M273.1 548.5h0M269.8 563.4h0M267.6 556.7h0M267.4 564.0h0M276.8 565.3h0M280.4 564.4h0M272.9 560.2h0M274.0 566.3h0M296.3 548.2h0M271.5 564.5h0M275.3 557.5h0M271.4 551.3h0M281.4 560.4h0M276.6 554.8h0M269.9 557.3h0M273.5 537.8h0M273.6 562.2h0M284.1 545.6h0M270.3 562.4h0M286.6 518.6h0M286.5 530.3h0M271.3 564.2h0M272.5 564.1h0M272.6 552.5h0M278.6 537.3h0M270.1 556.3h0M272.6 566.0h0M286.5 498.6h0M279.4 537.7h0M269.1 566.2h0M270.3 557.9h0M272.8 561.9h0M277.6 561.0h0M272.1 566.2h0M269.7 553.5h0M274.4 546.5h0M277.7 564.8h0M276.3 547.0h0M270.2 562.9h0M270.8 542.2h0M278.4 546.3h0M267.7 564.9h0M271.3 566.4h0M277.7 557.1h0M274.0 553.0h0M271.4 562.2h0M269.8 560.1h0M269.7 559.9h0M275.7 525.5h0M288.3 541.0h0M296.3 546.5h0M270.2 550.3h0M267.1 558.2h0M290.7 544.1h0M270.9 545.5h0M272.0 561.7h0M274.1 559.0h0M267.6 565.5h0M282.8 548.6h0M286.0 563.9h0M269.9 566.9h0M283.3 536.2h0M267.8 563.2h0M267.9 564.3h0M271.9 547.0h0M268.2 557.2h0M276.4 536.9h0M280.4 561.4h0M297.2 546.6h0M277.3 562.1h0M278.0 564.0h0M267.0 563.8h0M273.4 554.2h0M282.8 557.8h0M281.1 507.5h0M283.8 555.8h0M273.9 558.0h0M267.8 566.2h0M272.1 556.2h0M282.1 563.5h0M268.1 566.3h0M271.0 556.8h0M282.0 564.8h0M280.4 564.3h0M285.1 546.0h0M274.3 549.1h0M267.0 562.7h0M276.2 548.6h0M281.2 531.7h0M274.3 539.8h0M271.7 563.8h0M271.5 561.6h0M278.0 543.5h0M276.7 563.1h0M275.2 552.3h0M270.3 557.3h0M266.8 565.6h0M269.3 549.5h0M271.9 558.8h0M277.0 565.9h0M271.7 565.1h0M271.2 541.5h0M281.5 539.0h0M285.6 504.6h0M283.4 536.6h0M288.1 545.6h0M267.1 562.9h0M290.4 517.6h0M271.9 560.0h0M268.5 566.0h0M282.9 557.9h0M281.1 556.3h0M277.4 552.0h0M285.7 560.9h0M270.1 559.6h0M276.9 554.7h0M289.7 563.1h0M280.0 553.3h0M274.7 565.1h0M279.9 563.5h0M268.5 566.5h0M281.2 544.6h0M274.5 563.2h0M273.7 555.5h0M275.0 564.7h0M268.7 558.0h0M277.2 557.5h0M271.1 566.2h0M269.4 553.9h0M294.0 559.1h0M284.5 551.4h0M279.4 562.0h0M274.5 549.7h0M268.3 560.3h0M287.9 547.6h0M270.1 556.2h0M267.8 564.9h0M271.1 560.2h0M272.7 561.1h0M279.1 550.8h0M270.7 563.6h0M267.6 565.5h0M276.8 537.1h0M278.4 544.1h0M282.0 557.8h0M276.3 562.3h0M273.4 560.2h0M276.4 553.1h0M278.9 551.2h0M271.8 566.5h0M267.8 566.3h0M280.0 559.1h0M267.4 563.9h0M270.2 561.5h0M273.1 554.2h0M273.2 549.0h0M273.2 559.1h0M270.6 561.9h0M267.9 563.8h0M271.9 565.1h0M275.5 550.3h0M268.6 563.8h0M267.4 565.3h0M279.9 556.0h0M285.3 544.4h0M275.9 547.5h0M268.8 559.9h0M268.1 563.7h0M275.8 565.9h0M283.8 487.3h0M274.1 566.1h0M271.6 560.4h0M272.6 549.6h0M273.4 554.1h0M279.2 562.3h0M269.4 562.6h0M271.2 564.8h0M274.4 565.3h0M280.3 520.7h0M275.5 548.4h0M277.9 565.6h0M272.5 565.1h0M283.8 554.5h0M279.2 539.9h0M293.6 551.9h0M277.1 534.8h0M281.2 563.4h0M275.2 563.7h0M268.5 564.9h0M279.3 534.9h0M267.5 560.6h0M281.1 523.8h0M271.1 549.6h0M275.9 564.9h0M274.4 529.0h0M284.3 554.0h0M269.7 560.1h0M272.9 566.5h0M270.1 562.6h0M272.2 564.9h0M274.0 563.7h0M284.1 558.9h0M272.7 564.5h0M269.9 557.2h0M279.1 559.8h0M271.1 565.9h0M278.8 563.2h0M278.8 559.3h0M270.1 561.6h0M282.1 539.2h0M275.1 560.5h0M268.5 560.0h0M279.8 560.1h0M270.2 550.5h0M267.0 565.4h0M274.7 550.6h0M272.4 562.4h0M275.3 553.4h0M282.1 555.6h0M293.1 534.1h0M278.6 562.7h0M273.8 562.1h0M267.0 566.7h0M268.4 563.2h0M267.1 563.1h0M267.8 564.4h0M269.4 552.4h0M273.4 562.6h0M273.9 564.8h0M283.3 546.2h0M273.1 552.5h0M274.0 564.0h0M286.5 556.1h0M274.6 563.6h0M270.4 561.9h0M268.3 557.3h0M267.5 559.2h0M286.3 542.6h0M271.4 564.1h0M285.9 557.8h0M268.5 566.2h0M292.4 553.2h0M275.9 562.9h0M271.3 558.1h0M273.6 562.7h0M280.0 558.6h0M269.4 562.9h0M282.1 552.0h0M284.1 556.3h0M270.2 565.1h0M276.8 557.1h0M279.3 530.7h0M275.1 549.7h0M275.5 557.6h0M269.8 566.7h0M276.5 565.5h0M277.2 562.2h0M272.3 546.5h0M283.6 556.9h0M276.8 559.0h0M268.5 556.0h0M275.4 546.0h0M281.9 544.4h0M272.0 565.7h0M294.3 558.4h0M269.7 557.6h0M272.5 535.0h0M287.6 563.0h0M288.7 561.2h0M289.2 540.6h0M283.2 561.7h0M268.4 564.5h0M270.0 560.2h0M267.6 561.6h0M268.3 566.2h0M269.1 560.8h0M269.2 566.6h0M284.1 563.5h0M293.0 549.3h0M271.6 563.9h0M295.4 537.8h0M274.3 559.2h0M276.7 565.1h0M283.3 564.2h0M273.3 564.9h0M274.4 563.3h0M283.7 552.6h0M270.0 562.3h0M290.1 548.1h0M267.6 560.4h0M280.7 522.6h0M280.5 543.3h0M269.1 565.7h0M270.1 566.1h0M267.8 557.3h0M276.3 559.3h0M274.9 563.1h0M272.7 561.3h0M270.3 555.4h0M279.1 553.4h0M285.1 562.5h0M267.2 560.7h0M289.9 561.6h0M273.5 564.8h0M275.1 564.9h0M276.2 560.0h0M274.9 558.9h0M276.6 542.1h0M282.3 546.8h0M279.3 551.9h0M281.5 558.9h0M286.2 559.5h0M271.4 555.8h0M286.7 562.2h0M269.7 565.9h0M278.1 535.8h0M270.3 548.8h0M268.6 567.0h0M270.9 560.0h0M273.0 559.7h0M291.2 541.7h0M280.2 565.4h0M277.1 563.0h0M281.0 536.7h0M288.5 520.1h0M272.0 538.0h0M269.5 557.3h0M273.2 566.5h0M278.9 547.6h0M277.9 563.4h0M272.1 562.0h0M276.0 557.0h0M272.7 551.7h0M277.1 553.4h0M275.0 550.3h0M273.1 560.7h0M273.5 563.0h0M275.3 555.4h0M273.4 561.9h0M272.8 559.8h0M272.3 555.5h0M267.0 564.1h0M279.7 543.5h0M284.4 556.8h0M274.6 541.3h0M270.6 566.2h0M273.4 561.0h0M268.0 557.5h0M281.1 528.4h0M269.1 557.9h0M270.8 548.0h0M267.9 559.0h0M276.5 563.6h0M271.1 561.8h0M271.7 565.2h0M291.4 556.2h0M281.3 552.6h0M270.2 554.6h0M293.8 556.3h0M272.8 563.2h0M270.1 564.8h0M272.7 556.8h0M271.8 565.2h0M269.1 557.4h0M267.9 565.9h0M279.6 561.2h0M269.2 557.4h0M279.0 551.1h0M269.8 556.9h0M269.0 550.3h0M278.6 553.8h0M287.9 559.5h0M274.6 564.0h0M280.9 564.5h0M268.2 565.7h0M269.8 566.8h0M276.4 561.2h0M276.3 540.3h0M267.8 556.8h0M274.1 542.1h0M277.5 562.7h0M272.5 559.0h0M275.9 565.3h0M278.6 512.3h0M274.2 556.6h0M271.0 555.5h0M268.6 563.3h0M272.4 560.5h0M277.3 538.3h0M267.2 560.2h0M277.2 562.7h0M273.8 564.1h0M282.0 561.2h0M269.4 556.6h0M271.7 563.8h0M272.7 552.4h0M294.3 554.9h0M288.6 555.5h0M270.4 566.6h0M267.2 561.1h0M267.1 565.0h0M270.0 562.7h0M268.8 562.4h0M278.0 564.2h0M295.8 518.6h0M276.9 566.0h0M276.3 565.8h0M272.9 566.5h0M281.2 563.7h0M281.3 565.2h0M299.9 552.7h0M267.9 566.9h0M268.0 566.5h0M270.7 562.1h0M273.6 560.8h0M283.3 559.2h0M268.2 563.8h0M269.8 565.6h0M284.1 539.3h0M282.8 555.6h0M273.6 559.2h0M280.8 546.3h0M297.2 560.6h0M277.1 561.6h0M283.7 556.6h0M272.2 561.8h0M268.6 557.6h0M270.2 566.5h0M279.5 527.7h0M269.8 556.3h0M273.0 539.6h0M291.5 558.5h0M269.3 566.0h0M273.3 543.0h0M272.9 544.4h0M272.0 566.6h0M274.5 560.1h0M291.2 480.1h0M280.7 564.5h0M297.1 533.3h0M281.6 554.5h0M270.1 557.7h0M270.6 548.7h0M276.3 565.1h0M279.2 561.8h0M276.0 563.9h0M272.9 562.1h0M271.7 548.1h0M271.5 560.7h0M268.5 558.6h0M269.2 557.6h0M272.9 564.8h0M267.8 557.8h0M275.4 542.8h0M274.5 565.6h0M272.1 559.7h0M270.2 557.3h0M277.8 545.0h0M270.8 565.4h0M267.2 562.4h0M274.8 557.0h0M290.4 544.6h0M275.3 564.7h0M269.0 564.4h0M273.9 565.2h0M276.5 565.1h0M270.5 562.4h0M271.9 544.0h0M273.6 561.3h0M276.0 564.4h0M266.9 564.0h0M272.0 552.2h0M280.9 556.1h0M273.1 549.2h0M275.8 541.9h0M272.8 563.3h0M277.3 565.2h0M267.5 562.0h0M268.5 563.5h0M268.5 563.7h0M272.8 550.8h0M276.0 551.0h0M274.9 539.8h0M271.7 557.3h0M273.1 552.9h0M277.8 551.3h0M275.5 565.7h0M273.8 551.2h0M267.8 562.2h0M273.6 557.3h0M273.4 556.2h0M272.2 561.9h0M278.1 562.9h0M274.3 562.6h0M290.5 488.6h0M269.6 556.3h0M278.3 560.7h0M271.7 555.1h0M276.0 556.0h0M269.3 557.6h0M287.2 562.7h0M269.6 565.4h0M269.3 559.1h0M274.0 552.7h0M280.7 561.0h0M272.3 548.1h0M278.3 565.8h0M270.6 550.0h0M268.8 561.1h0M277.1 556.6h0M270.4 555.9h0M287.1 534.4h0M272.8 533.9h0M273.7 555.5h0M277.4 564.0h0M269.7 560.2h0M270.3 555.3h0M269.6 564.1h0M272.0 565.3h0M289.3 493.8h0M283.1 551.8h0M274.6 552.8h0M271.7 564.5h0M268.3 556.6h0M269.3 561.9h0M271.4 554.8h0M280.7 551.4h0M280.9 555.2h0M284.9 563.1h0M271.5 566.1h0M272.3 560.5h0M269.0 566.5h0M278.2 551.4h0M271.5 560.9h0M273.2 564.9h0M271.0 555.4h0M298.5 545.9h0M301.2 488.7h0M269.7 560.3h0M279.4 550.6h0M277.8 565.7h0M277.0 564.6h0M273.8 552.6h0M300.7 535.6h0M279.2 527.1h0M267.8 559.8h0M267.3 564.6h0M272.0 566.1h0M284.1 534.9h0M268.0 562.7h0M272.1 546.7h0M267.3 560.8h0M273.9 557.4h0M269.1 566.1h0M277.8 562.8h0M266.9 565.7h0M269.0 562.3h0M280.7 525.3h0M270.2 564.9h0M284.2 563.2h0M281.6 562.5h0M278.9 561.0h0M280.1 557.9h0M277.3 556.4h0M267.0 558.3h0M296.4 543.3h0M271.2 555.6h0M271.2 553.7h0M277.4 551.5h0M291.1 561.8h0M281.0 564.4h0M271.1 558.8h0M274.6 566.4h0M270.1 560.5h0M267.8 558.5h0M267.6 566.5h0M273.2 557.3h0M278.0 542.3h0M270.9 562.9h0M288.5 538.7h0M271.4 557.1h0M274.9 559.7h0M270.6 562.4h0M268.4 562.6h0M271.6 557.5h0M276.9 560.4h0M268.4 565.1h0M272.8 557.9h0M270.1 558.4h0M268.2 558.1h0M300.8 539.6h0M268.2 557.5h0M279.0 508.4h0M276.0 561.9h0M271.8 541.9h0M272.7 566.1h0M285.5 552.3h0M272.0 564.6h0M267.8 555.8h0M281.8 529.4h0M271.8 566.8h0M272.5 559.5h0M273.9 564.3h0M287.6 563.3h0M284.4 551.9h0M269.4 556.6h0M267.4 561.0h0M286.5 559.1h0M269.3 562.9h0M272.0 553.6h0M272.8 563.6h0M283.2 560.6h0M269.7 564.6h0M271.5 565.0h0M284.7 558.1h0M273.9 562.9h0M285.5 563.6h0M279.1 558.7h0M273.2 562.8h0M289.0 563.0h0M274.8 548.3h0M278.9 556.3h0M274.0 556.0h0M277.4 548.0h0M286.0 560.6h0M275.8 549.2h0M271.1 563.8h0M275.9 563.7h0M277.5 534.2h0M270.4 546.3h0M270.5 558.7h0M277.3 549.9h0M275.5 553.7h0M272.1 538.8h0M277.6 552.4h0M282.2 534.6h0M279.0 553.3h0M270.4 549.7h0M266.8 566.3h0M272.5 564.3h0M270.7 564.1h0M277.2 538.1h0M268.3 560.2h0M279.0 559.2h0M281.5 557.3h0M272.1 562.8h0M270.4 554.4h0M270.1 564.9h0M270.7 551.7h0M276.1 558.8h0M273.5 566.0h0M283.6 540.5h0M272.6 539.9h0M274.0 558.6h0M276.1 563.0h0M268.8 560.0h0M286.9 557.8h0M269.8 562.3h0M273.5 562.9h0M270.7 550.5h0M286.2 553.6h0M273.0 564.6h0M278.0 546.5h0M266.8 566.7h0M271.4 560.9h0M277.1 555.7h0M278.6 556.9h0M275.3 526.7h0M274.1 548.7h0M281.3 563.8h0M278.4 557.3h0M270.4 553.5h0M270.8 562.9h0M281.7 564.7h0M276.0 559.1h0M287.3 562.2h0M291.7 560.1h0M267.8 562.5h0M272.7 552.3h0M276.1 558.9h0M275.9 561.6h0M269.2 566.4h0M273.9 542.1h0M271.0 555.8h0M274.2 566.0h0M277.4 529.5h0M266.7 567.1h0M273.7 556.4h0M272.6 563.1h0M271.4 562.3h0M283.8 555.5h0M281.0 562.3h0M292.0 554.9h0M270.8 561.1h0M272.3 564.7h0M277.7 552.8h0M279.8 544.5h0M272.2 562.9h0M267.7 554.9h0M268.6 558.8h0M274.1 562.0h0M274.7 560.1h0M298.9 548.2h0M279.5 552.9h0M273.3 562.3h0M269.6 561.5h0M277.4 560.4h0M272.3 558.9h0M271.1 556.5h0M280.4 565.0h0M272.1 538.7h0M280.1 522.1h0M269.7 558.7h0M276.5 540.1h0M271.1 546.5h0M271.6 557.6h0M290.5 557.5h0M279.6 534.0h0M280.5 564.2h0M270.5 564.3h0M272.9 558.3h0M275.2 565.3h0M267.6 558.0h0M274.5 562.4h0M283.9 562.3h0M270.4 564.6h0M290.0 550.0h0M280.8 563.5h0M274.9 566.1h0M274.7 560.4h0M271.2 559.7h0M282.0 522.4h0M274.6 566.4h0M272.5 560.5h0M270.0 558.5h0M279.1 561.1h0M277.5 556.7h0M269.3 565.5h0M289.1 563.2h0M276.2 563.8h0M271.5 566.5h0M271.2 548.6h0M292.7 552.7h0M268.2 562.4h0M290.5 560.8h0M270.6 556.1h0M274.0 558.0h0M268.3 567.0h0M269.9 564.7h0M268.0 562.6h0M282.1 561.5h0M275.5 549.9h0M289.1 537.8h0M277.7 557.8h0M288.1 541.6h0M270.0 564.4h0M273.6 565.4h0M270.0 563.5h0M281.8 548.2h0M268.9 553.4h0M271.6 566.3h0M275.9 558.0h0M274.6 551.2h0M279.4 551.9h0M271.7 553.2h0M268.1 561.1h0M270.6 551.2h0M272.6 541.1h0M282.4 538.9h0M277.3 563.4h0M279.9 540.4h0M287.2 559.8h0M284.9 531.8h0M272.3 555.1h0M282.6 559.4h0M269.0 562.2h0M267.3 560.6h0M270.9 558.4h0M270.9 547.5h0M271.7 555.4h0M281.5 507.8h0M282.9 559.1h0M279.4 561.1h0M272.7 551.7h0M286.7 559.8h0M279.8 563.8h0M284.1 552.6h0M269.8 556.2h0M280.2 560.8h0M286.4 561.4h0M277.4 565.8h0M272.7 558.3h0M282.8 563.3h0M277.3 563.4h0M269.9 556.6h0M267.0 563.7h0M267.2 566.2h0M270.4 549.8h0M275.5 563.3h0M285.4 560.5h0M272.9 560.4h0M272.2 566.3h0M270.5 558.6h0M277.5 544.7h0M290.7 559.3h0M272.2 545.9h0M272.5 553.6h0M287.4 563.5h0M271.6 559.9h0M274.5 560.1h0M273.8 560.7h0M277.3 561.1h0M274.7 553.6h0M267.4 561.1h0M283.0 563.7h0M273.2 564.5h0M290.5 560.5h0M276.9 565.3h0M271.4 564.9h0M291.0 534.9h0M276.2 560.3h0M271.0 563.7h0M271.3 566.2h0M282.4 558.7h0M271.1 566.1h0M285.2 563.4h0M276.3 533.6h0M278.6 548.1h0M275.6 554.4h0M269.3 563.2h0M284.1 561.8h0M283.0 544.9h0M271.0 565.2h0M268.2 566.2h0M267.3 562.9h0M271.6 554.6h0M275.2 553.7h0M275.3 550.4h0M268.2 554.9h0M268.0 562.8h0M283.1 541.4h0M273.8 559.1h0M274.4 565.6h0M281.7 545.8h0M272.2 565.0h0M267.8 558.4h0M269.8 555.2h0M266.9 557.9h0M268.6 560.2h0M271.2 562.0h0M267.3 562.3h0M270.2 556.8h0M296.6 486.2h0M276.7 540.8h0M269.0 551.2h0M268.3 565.4h0M267.7 557.5h0M266.8 559.0h0M289.9 560.9h0M286.0 558.4h0M275.9 533.1h0M276.2 554.6h0M271.8 558.5h0M269.1 566.2h0M275.0 561.7h0M269.0 558.3h0M271.0 565.0h0M267.9 566.9h0M268.9 565.4h0M267.4 566.3h0M273.4 551.8h0M280.4 537.5h0M270.7 566.2h0M269.0 557.6h0M274.0 560.0h0M267.2 565.8h0M270.4 557.6h0M267.3 558.6h0M272.1 549.1h0M292.2 558.5h0M287.7 554.9h0M268.8 562.3h0M272.5 560.7h0M280.2 558.2h0M281.0 545.8h0M281.4 557.6h0M271.9 557.4h0M270.7 559.6h0M271.1 565.0h0M270.8 549.0h0M284.6 520.4h0M275.6 563.3h0M275.3 564.6h0M282.1 554.3h0M270.4 564.3h0M272.8 555.6h0M274.8 565.9h0M287.3 545.5h0M281.6 563.9h0M276.2 553.4h0M271.2 565.7h0M276.2 541.3h0M282.1 494.1h0M268.2 566.4h0M272.6 554.6h0M291.0 549.6h0M281.3 565.0h0M270.8 565.7h0M292.8 524.7h0M274.0 552.4h0M267.7 565.1h0M289.2 559.7h0M267.3 566.0h0M274.4 551.3h0M273.1 542.6h0M278.1 547.6h0M267.1 560.5h0M269.6 551.3h0M276.4 561.2h0M285.8 541.2h0M285.3 540.8h0M269.3 556.9h0M267.8 562.1h0M267.5 558.5h0M268.1 566.5h0M284.0 543.0h0M268.9 561.5h0M275.8 519.2h0M286.2 563.8h0M269.1 562.8h0M270.5 565.0h0M293.7 545.9h0M283.9 559.1h0M283.2 533.3h0M276.3 560.6h0M271.1 541.1h0M269.5 564.4h0M274.7 546.7h0M274.3 563.3h0M267.2 559.0h0M272.0 560.1h0M272.6 562.8h0M267.2 565.2h0M274.7 527.0h0M274.9 566.1h0M268.6 563.2h0M267.6 562.3h0M281.0 563.5h0M271.6 545.3h0M276.3 548.8h0M283.1 552.4h0M275.6 552.1h0M284.0 563.4h0M273.8 563.1h0M269.5 559.9h0M277.6 550.8h0M271.0 555.8h0M281.1 554.1h0M277.7 550.5h0M274.8 553.6h0M270.6 565.8h0M284.4 562.2h0M286.4 554.1h0M289.1 552.4h0M273.4 563.4h0M271.8 558.5h0M267.7 564.4h0M300.2 529.6h0M271.9 545.4h0M291.3 561.5h0M274.2 561.1h0M268.6 566.3h0M275.7 539.4h0M280.3 538.4h0M271.0 563.4h0M286.7 543.5h0M298.2 547.3h0M271.8 558.1h0M277.2 554.3h0M278.1 564.1h0M272.9 564.5h0M273.5 533.1h0M284.1 501.2h0M281.6 559.9h0M278.2 549.7h0M284.6 534.0h0M275.0 563.2h0M271.7 566.8h0M267.0 560.8h0M279.7 559.9h0M269.4 562.2h0M297.5 496.6h0M267.4 557.2h0M281.3 561.5h0M269.9 562.9h0M268.8 561.7h0M284.1 563.7h0M283.8 564.6h0M286.4 560.4h0M275.3 554.4h0M273.8 565.6h0M282.8 547.8h0M280.2 560.1h0M270.9 565.4h0M280.1 552.6h0M268.7 562.5h0M278.3 549.7h0M275.7 565.8h0M285.4 562.4h0M270.9 561.9h0M268.7 562.0h0M269.0 561.1h0M267.2 565.0h0M270.8 548.8h0M266.8 560.5h0M266.9 559.5h0M273.9 561.8h0M272.6 554.7h0M285.9 563.1h0M270.7 555.3h0M267.9 564.6h0M277.7 553.3h0M266.7 566.5h0M274.1 557.3h0M269.8 563.6h0M280.9 535.6h0M273.4 536.4h0M267.2 562.8h0M279.1 564.0h0M286.7 540.6h0M290.2 550.8h0M270.8 552.1h0M269.4 554.9h0M268.6 555.6h0M268.8 565.4h0M277.1 563.5h0M272.4 557.3h0M288.9 563.1h0M278.8 561.5h0M273.5 560.1h0M280.8 553.8h0M274.0 561.8h0M287.3 542.3h0M282.8 545.1h0M270.9 555.0h0M269.1 553.3h0M283.3 558.1h0M269.3 563.2h0M275.8 544.2h0M271.5 547.1h0M270.7 566.3h0M292.3 554.9h0M277.7 562.8h0M282.2 559.7h0M276.2 562.9h0M279.5 565.2h0M272.3 555.6h0M270.2 556.3h0M267.5 566.5h0M267.0 564.3h0M279.1 562.5h0M270.2 561.7h0M273.0 545.8h0M280.1 546.5h0M271.4 545.7h0M269.3 563.3h0M268.6 557.6h0M279.3 546.5h0M297.5 544.6h0M268.4 555.4h0M272.3 566.3h0M267.2 564.5h0M269.3 566.4h0M271.4 555.2h0M273.3 556.4h0M273.7 545.6h0M275.1 562.9h0M271.8 561.0h0M270.1 555.7h0M277.4 556.8h0M272.3 564.1h0M287.0 555.6h0M272.4 564.6h0M278.9 559.6h0M268.3 554.2h0M275.4 556.4h0M269.4 552.6h0M279.4 559.6h0M271.3 555.6h0M284.0 560.2h0M279.0 565.2h0M275.6 562.5h0M289.8 549.2h0M284.7 560.5h0M286.3 551.8h0M268.7 563.7h0M276.3 561.7h0M279.7 553.8h0M275.9 564.5h0M268.7 561.7h0M271.3 556.6h0M276.8 561.1h0M277.3 564.7h0M274.3 560.6h0M271.6 546.6h0M271.9 549.8h0M286.8 562.1h0M274.4 541.0h0M272.0 554.9h0M287.3 562.5h0M276.5 554.7h0M269.5 556.8h0M283.1 557.5h0M269.8 559.3h0M271.6 556.4h0M289.5 547.0h0M281.2 549.9h0M270.7 560.8h0M277.6 562.0h0M269.9 563.9h0M282.4 556.9h0M290.1 533.4h0M284.5 541.5h0M296.5 556.5h0M281.7 554.5h0M272.5 558.8h0M274.5 565.0h0M276.7 545.1h0M278.6 544.8h0M280.8 542.0h0M270.0 546.9h0M268.6 565.2h0M274.4 565.7h0M279.7 564.9h0M269.5 558.8h0M275.8 539.4h0M270.7 566.2h0M270.7 561.2h0M268.6 563.2h0M267.3 559.6h0M273.1 562.8h0M270.5 563.4h0M269.7 558.2h0M276.0 552.9h0M271.7 554.3h0M274.0 545.6h0M284.2 564.0h0M277.5 547.8h0M268.3 565.1h0M272.1 559.7h0M273.6 565.7h0M271.5 565.8h0M272.3 563.4h0M281.3 553.2h0M274.4 540.8h0M271.9 563.4h0M270.7 557.9h0M276.6 479.1h0M278.1 479.1h0M279.6 479.1h0M281.0 479.1h0M282.5 479.1h0M284.0 479.1h0M285.5 479.1h0M287.5 479.1h0M289.5 479.1h0M291.5 479.1h0M293.9 479.1h0M296.4 479.1h0M298.9 479.1h0M301.4 479.1h0M303.9 479.1h0M306.3 479.1h0M308.8 479.1h0M311.3 479.1h0M310.8 489.3h0M310.3 488.1h0M309.3 507.6h0M312.8 513.4h0M308.3 506.1h0M302.9 510.5h0M298.4 507.6h0M321.7 524.5h0M319.7 527.1h0M317.3 542.5h0M315.0 544.0h0M312.3 546.6h0M311.1 548.7h0M309.3 552.7h0M307.3 553.9h0M306.3 556.8h0M304.9 557.4h0M303.4 560.3h0M301.9 561.2h0M300.4 562.9h0M298.9 563.2h0M297.4 564.4h0M295.9 564.5h0M293.9 565.6h0M292.0 565.6h0M290.0 566.1h0M288.0 566.3h0M297.9 535.3h0M293.4 529.4h0M296.4 541.1h0" stroke="#ff0000" stroke-width="2.1" stroke-linecap="round" fill="none"/>
<line x1="243.8" y1="567.47" x2="284.5" y2="567.47" stroke="#0a0a0a" stroke-width="1.15" stroke-linecap="round"/>
<path d="M287.0 567.3h0M298.4 567.3h0M313.8 567.3h0" stroke="#111111" stroke-width="2.0" stroke-linecap="round" fill="none"/>
<path d="M206.10 460.2V573.10M205.30 572.3H342.1" stroke="#111" stroke-width="1.7" fill="none"/>
<path d="M202.40 567.30H206.4M202.40 552.74H206.4M202.40 538.18H206.4M202.40 523.62H206.4M202.40 509.06H206.4M202.40 494.50H206.4M202.40 479.94H206.4M202.40 465.38H206.4M212.10 572.3V575.9M236.90 572.3V575.9M261.70 572.3V575.9M286.50 572.3V575.9M311.30 572.3V575.9M336.10 572.3V575.9" stroke="#1a1a1a" stroke-width="1.05" fill="none"/>
<text x="199.00" y="569.60" font-size="6.5" text-anchor="end" fill="#222" textLength="3.15" lengthAdjust="spacingAndGlyphs" class="bd">0</text>
<text x="199.00" y="555.04" font-size="6.5" text-anchor="end" fill="#222" textLength="6.30" lengthAdjust="spacingAndGlyphs" class="bd">50</text>
<text x="199.00" y="540.48" font-size="6.5" text-anchor="end" fill="#222" textLength="9.45" lengthAdjust="spacingAndGlyphs" class="bd">100</text>
<text x="199.00" y="525.92" font-size="6.5" text-anchor="end" fill="#222" textLength="9.45" lengthAdjust="spacingAndGlyphs" class="bd">150</text>
<text x="199.00" y="511.36" font-size="6.5" text-anchor="end" fill="#222" textLength="9.45" lengthAdjust="spacingAndGlyphs" class="bd">200</text>
<text x="199.00" y="496.80" font-size="6.5" text-anchor="end" fill="#222" textLength="9.45" lengthAdjust="spacingAndGlyphs" class="bd">250</text>
<text x="199.00" y="482.24" font-size="6.5" text-anchor="end" fill="#222" textLength="9.45" lengthAdjust="spacingAndGlyphs" class="bd">300</text>
<text x="199.00" y="467.68" font-size="6.5" text-anchor="end" fill="#222" textLength="9.45" lengthAdjust="spacingAndGlyphs" class="bd">350</text>
<text x="211.80" y="584.60" font-size="6.5" text-anchor="middle" fill="#222" textLength="8.30" lengthAdjust="spacingAndGlyphs" class="bd">-10</text>
<text x="236.60" y="584.60" font-size="6.5" text-anchor="middle" fill="#222" textLength="5.15" lengthAdjust="spacingAndGlyphs" class="bd">-5</text>
<text x="261.70" y="584.60" font-size="6.5" text-anchor="middle" fill="#222" textLength="3.15" lengthAdjust="spacingAndGlyphs" class="bd">0</text>
<text x="286.50" y="584.60" font-size="6.5" text-anchor="middle" fill="#222" textLength="3.15" lengthAdjust="spacingAndGlyphs" class="bd">5</text>
<text x="311.30" y="584.60" font-size="6.5" text-anchor="middle" fill="#222" textLength="6.30" lengthAdjust="spacingAndGlyphs" class="bd">10</text>
<text x="336.10" y="584.60" font-size="6.5" text-anchor="middle" fill="#222" textLength="6.30" lengthAdjust="spacingAndGlyphs" class="bd">15</text>
<text x="225.90" y="454.80" font-size="8.8" text-anchor="start" fill="#111" textLength="69.80" lengthAdjust="spacingAndGlyphs" class="bd">Untreated vs MRTFA</text>
<text x="296.60" y="451.00" font-size="6.5" text-anchor="start" fill="#111" textLength="7.40" lengthAdjust="spacingAndGlyphs" class="bd">OE</text>
<text x="304.40" y="454.80" font-size="8.8" text-anchor="start" fill="#111" textLength="18.20" lengthAdjust="spacingAndGlyphs" class="bd">TPA+</text>
<text x="242.20" y="596.00" font-size="8.3" text-anchor="start" fill="#111" textLength="64.20" lengthAdjust="spacingAndGlyphs" class="bd">log2 (fold change)</text>
<text x="217.10" y="471.50" font-size="6.5" text-anchor="start" fill="#5a50a5" textLength="13.70" lengthAdjust="spacingAndGlyphs">1,249</text>
<text x="309.40" y="471.50" font-size="6.5" text-anchor="start" fill="#d75a46" textLength="13.70" lengthAdjust="spacingAndGlyphs">2,014</text>
<line x1="288.3" y1="479.6" x2="314.8" y2="479.6" stroke="#111" stroke-width="0.95"/>
<line x1="240" y1="536" x2="249.2" y2="535.5" stroke="#111" stroke-width="0.95"/>
<line x1="231" y1="553.5" x2="254" y2="553.5" stroke="#111" stroke-width="0.95"/>
<line x1="272.5" y1="548" x2="284.6" y2="548" stroke="#111" stroke-width="0.95"/>
<line x1="277.3" y1="553.8" x2="310.4" y2="553.8" stroke="#111" stroke-width="0.95"/>
<rect x="268.7" y="476.3" width="19.60" height="8.10" rx="1.4" fill="#fff" stroke="#555" stroke-width="0.75"/>
<text x="278.50" y="482.20" font-size="5.8" text-anchor="middle" textLength="13.8" lengthAdjust="spacingAndGlyphs" fill="#3a3a3a">ACTA2</text>
<rect x="314.8" y="475" width="17.30" height="7.70" rx="1.4" fill="#fff" stroke="#555" stroke-width="0.75"/>
<text x="323.45" y="480.70" font-size="5.8" text-anchor="middle" textLength="11.5" lengthAdjust="spacingAndGlyphs" fill="#3a3a3a">EGR3</text>
<rect x="221.9" y="532.5" width="18.10" height="7.30" rx="1.4" fill="#fff" stroke="#555" stroke-width="0.75"/>
<text x="230.95" y="538.00" font-size="5.8" text-anchor="middle" textLength="12.3" lengthAdjust="spacingAndGlyphs" fill="#3a3a3a">GYPE</text>
<rect x="212.3" y="549.8" width="18.70" height="7.70" rx="1.4" fill="#fff" stroke="#555" stroke-width="0.75"/>
<text x="221.65" y="555.50" font-size="5.8" text-anchor="middle" textLength="12.9" lengthAdjust="spacingAndGlyphs" fill="#3a3a3a">GYPB</text>
<rect x="254" y="550.4" width="17.30" height="7.30" rx="1.4" fill="#fff" stroke="#555" stroke-width="0.75"/>
<text x="262.65" y="555.90" font-size="5.8" text-anchor="middle" textLength="11.5" lengthAdjust="spacingAndGlyphs" fill="#3a3a3a">GYPA</text>
<rect x="284.6" y="544.6" width="21.00" height="7.10" rx="1.4" fill="#fff" stroke="#555" stroke-width="0.75"/>
<text x="295.10" y="550.00" font-size="5.8" text-anchor="middle" textLength="15.2" lengthAdjust="spacingAndGlyphs" fill="#3a3a3a">CAPN2</text>
<rect x="310.4" y="550.4" width="25.60" height="7.30" rx="1.4" fill="#fff" stroke="#555" stroke-width="0.75"/>
<text x="323.20" y="555.90" font-size="5.8" text-anchor="middle" textLength="19.8" lengthAdjust="spacingAndGlyphs" fill="#3a3a3a">CORO1A</text>
</g>
<g id="pD">
<rect x="378.0" y="460.4" width="134.70" height="111.90" fill="#ebebeb"/>
<path d="M396.12 460.4V572.3M420.78 460.4V572.3M445.43 460.4V572.3M470.08 460.4V572.3M494.73 460.4V572.3M378.0 560.42H512.7M378.0 545.86H512.7M378.0 531.30H512.7M378.0 516.74H512.7M378.0 502.18H512.7M378.0 487.62H512.7M378.0 473.06H512.7" stroke="#f3f3f3" stroke-width="0.5" fill="none"/>
<path d="M383.80 460.4V572.3M408.45 460.4V572.3M433.10 460.4V572.3M457.75 460.4V572.3M482.40 460.4V572.3M507.05 460.4V572.3M378.0 567.70H512.7M378.0 553.14H512.7M378.0 538.58H512.7M378.0 524.02H512.7M378.0 509.46H512.7M378.0 494.90H512.7M378.0 480.34H512.7M378.0 465.78H512.7" stroke="#fafafa" stroke-width="0.6" fill="none"/>
<path d="M431.62 460.4V572.3M434.58 460.4V572.3M378.0 567.53H512.7" stroke="#666" stroke-width="0.9" stroke-dasharray="1.2 1.5" fill="none"/>
<path d="M433.1 567.4h0" stroke="#00fa00" stroke-width="2.1" stroke-linecap="round" fill="none"/>
<path d="M426.7 565.0h0M427.3 567.2h0M431.5 567.4h0M426.4 567.4h0M430.8 565.6h0M428.0 564.8h0M430.8 567.4h0M427.9 561.1h0M427.4 567.4h0M430.6 565.5h0M429.4 564.6h0M429.8 565.6h0M428.0 566.8h0M430.0 565.5h0M431.1 566.2h0M426.0 561.5h0M430.7 565.8h0M431.2 566.1h0M428.4 567.2h0M431.1 567.4h0M431.0 566.1h0M425.7 567.1h0M430.1 567.4h0M426.3 566.2h0M427.8 564.7h0M428.6 563.4h0M427.4 561.6h0M421.8 564.5h0M430.8 566.8h0M429.5 564.9h0M424.8 566.4h0M425.2 566.4h0M429.9 567.2h0M431.4 567.4h0M428.9 566.6h0M427.4 566.7h0M428.0 561.9h0M428.6 567.2h0M426.5 567.2h0M430.2 566.9h0M424.6 564.3h0M428.0 567.4h0M430.1 565.8h0M431.4 567.2h0M426.9 565.4h0M429.4 563.2h0M429.2 567.2h0M424.6 564.8h0M430.1 563.6h0M430.0 565.2h0M429.1 566.0h0M425.5 564.8h0M430.0 564.8h0M428.2 563.4h0M429.2 567.4h0M428.7 563.3h0M431.6 566.5h0M427.0 561.9h0M430.6 566.9h0M426.9 566.4h0M431.1 565.8h0M429.1 561.6h0M429.5 567.3h0M430.2 565.9h0M425.7 558.6h0M430.8 567.3h0M427.9 567.1h0M429.8 565.6h0M425.1 566.6h0M429.8 567.2h0M429.8 566.6h0M429.3 562.8h0M430.4 566.7h0M428.2 559.9h0M428.8 563.1h0M427.6 560.3h0M430.7 566.9h0M431.3 566.1h0M421.3 565.3h0M430.4 564.4h0M428.4 566.7h0M429.1 566.7h0M425.8 563.8h0M423.9 560.4h0M430.7 566.8h0M429.5 567.2h0M428.5 566.4h0M430.1 565.0h0M423.3 565.3h0M427.8 565.4h0M430.0 567.2h0M428.3 567.1h0M428.4 567.3h0M426.8 556.4h0M427.0 564.3h0M431.5 567.0h0M431.0 567.0h0M431.0 566.8h0M425.4 567.5h0M426.2 565.3h0M429.0 565.6h0M431.1 565.9h0M425.4 567.1h0M430.6 567.3h0M431.1 567.0h0M418.6 565.6h0M426.7 567.0h0M431.2 565.9h0M426.1 565.6h0M430.4 564.5h0M428.9 565.0h0M427.3 558.3h0M428.8 562.3h0M428.8 563.0h0M428.2 566.6h0M429.5 565.4h0M431.4 567.0h0M430.8 566.4h0M430.1 566.5h0M430.0 566.8h0M431.2 566.0h0M427.2 567.0h0M425.2 567.4h0M428.5 566.1h0M427.8 564.5h0M427.1 566.9h0M429.9 563.8h0M430.8 566.9h0M424.4 566.0h0M428.1 566.1h0M428.9 567.2h0M427.9 564.8h0M430.4 566.6h0M427.1 560.8h0M430.3 567.3h0M429.6 562.4h0M428.5 567.3h0M431.3 566.9h0M428.8 562.8h0M429.2 562.1h0M426.1 563.4h0M429.8 567.2h0M429.7 563.6h0M430.4 566.9h0M430.3 567.1h0M429.9 565.8h0M430.5 564.8h0M427.3 563.6h0M430.8 567.3h0M427.9 561.0h0M427.3 559.2h0M429.9 563.7h0M431.5 566.6h0M430.7 566.5h0M428.7 566.6h0M429.1 566.8h0M430.1 565.5h0M425.5 566.4h0M430.5 566.1h0M431.6 567.4h0M429.6 566.7h0M427.5 565.2h0M428.6 566.3h0M430.5 566.0h0M429.5 566.3h0M424.6 563.8h0M427.7 562.6h0M430.9 566.2h0M428.0 560.0h0M431.3 566.8h0M428.1 563.3h0M427.8 563.8h0M419.7 565.9h0M426.2 561.5h0M429.6 564.7h0M430.1 566.5h0M430.9 567.3h0M430.4 565.2h0M428.3 565.7h0M426.8 564.2h0M431.0 565.7h0M431.2 566.9h0M425.1 566.3h0M430.2 563.7h0M429.7 567.3h0M427.2 562.5h0M421.1 561.8h0M429.2 567.2h0M431.3 566.9h0M427.2 566.6h0M429.0 567.4h0M428.7 567.3h0M427.3 566.7h0M428.2 563.0h0M429.9 564.4h0M431.1 566.9h0M427.5 565.4h0M431.5 567.1h0M430.3 564.6h0M430.8 565.2h0M430.8 566.4h0M430.4 565.8h0M430.5 565.4h0M430.7 567.2h0M429.3 562.9h0M431.4 566.2h0M429.6 564.2h0M429.7 564.2h0M429.6 567.3h0M429.1 566.8h0M431.1 566.1h0M428.2 566.5h0M431.3 567.4h0M431.2 567.4h0M430.3 565.8h0M426.8 565.2h0M431.3 567.1h0M428.9 567.1h0M430.8 565.9h0M431.2 566.9h0M430.5 565.0h0M430.6 567.3h0M430.0 567.3h0M430.0 566.2h0M429.7 563.6h0M430.5 564.6h0M426.6 566.8h0M431.3 566.9h0M430.8 567.0h0M431.6 567.1h0M427.7 561.3h0M431.3 566.0h0M430.9 567.2h0M428.5 567.0h0M428.4 565.4h0M425.7 565.2h0M429.4 566.4h0M428.2 566.4h0M429.8 566.8h0M428.4 565.2h0M428.9 565.4h0M431.2 566.1h0M428.6 567.1h0M431.0 567.3h0M430.0 565.3h0M424.5 564.2h0M431.6 567.4h0M430.8 566.8h0M430.0 567.4h0M428.0 566.9h0M431.6 567.2h0M428.1 564.3h0M429.4 567.0h0M430.2 566.0h0M429.2 563.1h0M430.7 567.3h0M429.9 567.4h0M431.6 566.7h0M431.4 567.4h0M429.9 565.5h0M419.5 539.5h0" stroke="#0000ff" stroke-width="2.1" stroke-linecap="round" fill="none"/>
<path d="M437.2 563.4h0M435.0 565.2h0M435.4 566.6h0M439.6 565.7h0M436.4 562.5h0M435.6 563.5h0M435.1 565.3h0M436.2 563.7h0M441.3 566.5h0M442.9 566.5h0M436.0 566.7h0M434.8 566.9h0M435.6 567.0h0M436.2 566.5h0M436.3 567.2h0M435.1 565.8h0M442.4 566.8h0M434.9 566.5h0M438.8 561.2h0M436.3 567.0h0M435.6 565.2h0M435.1 567.0h0M434.8 567.4h0M435.7 563.5h0M436.3 566.3h0M440.1 566.4h0M435.5 565.3h0M437.2 565.4h0M437.0 567.4h0M435.9 565.6h0M438.3 563.4h0M436.0 565.6h0M441.6 554.1h0M435.4 567.2h0M435.2 567.2h0M435.9 564.0h0M437.7 565.2h0M434.8 567.3h0M434.8 567.3h0M435.6 564.0h0M434.9 567.3h0M435.8 567.3h0M435.4 563.9h0M442.2 561.6h0M435.1 567.0h0M435.8 564.7h0M437.1 567.3h0M439.6 553.3h0M435.8 567.3h0M438.0 566.3h0M435.7 564.7h0M437.0 566.6h0M437.2 563.1h0M445.0 566.6h0M438.2 567.2h0M440.2 566.5h0M439.5 567.3h0M437.3 565.8h0M435.5 564.6h0M435.9 566.3h0M437.1 561.8h0M435.7 566.9h0M437.4 558.9h0M436.4 563.6h0M438.2 566.9h0M436.0 562.3h0M437.5 564.8h0M437.0 565.0h0M435.8 563.9h0M444.4 566.1h0M439.6 564.0h0M437.0 563.4h0M436.8 565.4h0M436.7 565.2h0M441.1 566.6h0M435.1 567.3h0M437.6 564.0h0M442.3 567.0h0M439.6 565.8h0M435.5 567.3h0M436.6 561.3h0M446.3 562.5h0M435.7 565.7h0M435.9 564.1h0M435.3 566.5h0M435.5 566.6h0M435.6 566.9h0M438.0 566.6h0M436.4 564.2h0M436.4 563.8h0M436.4 567.2h0M434.7 565.9h0M435.8 567.1h0M442.3 554.2h0M436.1 566.8h0M448.0 552.3h0M435.5 566.6h0M436.9 562.0h0M445.0 558.2h0M437.3 565.8h0M436.2 564.0h0M434.8 565.5h0M435.3 565.4h0M435.0 566.9h0M435.0 566.6h0M437.4 567.0h0M436.3 565.2h0M436.5 562.6h0M438.5 565.2h0M435.0 566.8h0M438.8 565.1h0M437.5 566.4h0M435.9 567.0h0M435.7 567.2h0M447.3 551.4h0M436.7 565.2h0M435.0 565.0h0M437.8 566.8h0M436.2 566.8h0M438.7 562.9h0M435.2 567.4h0M435.6 563.9h0M435.5 565.9h0M436.5 565.4h0M434.8 566.3h0M436.1 563.5h0M435.4 567.2h0M436.5 563.1h0M438.2 564.5h0M440.3 563.5h0M444.7 567.2h0M436.6 567.3h0M435.5 566.6h0M435.5 566.5h0M436.9 562.6h0M441.7 563.9h0M440.2 555.8h0M436.3 561.9h0M435.6 564.0h0M438.0 565.0h0M436.6 566.9h0M436.5 563.7h0M448.8 560.0h0M437.9 566.4h0M435.4 566.2h0M434.6 566.1h0M436.4 565.2h0M436.5 562.4h0M450.8 564.6h0M435.3 565.3h0M437.7 565.2h0M435.3 566.3h0M436.8 566.5h0M435.5 566.0h0M437.4 565.1h0M436.0 567.1h0M434.6 566.5h0M435.2 565.0h0M434.6 566.7h0M437.6 564.9h0M436.3 566.8h0M435.2 567.2h0M435.7 565.9h0M439.6 560.0h0M436.2 567.4h0M438.2 567.3h0M439.7 555.6h0M436.0 567.1h0M442.4 566.8h0M436.5 562.9h0M437.8 566.4h0M437.2 566.6h0M440.8 547.1h0M437.5 566.3h0M434.6 567.0h0M436.8 562.7h0M440.7 566.6h0M437.0 567.5h0M435.4 566.5h0M437.5 565.5h0M438.6 558.6h0M439.2 562.2h0M434.9 566.0h0M435.8 566.4h0M438.6 560.1h0M440.6 558.3h0M437.0 562.2h0M436.2 563.3h0M435.2 565.0h0M435.8 565.0h0M436.7 565.8h0M440.7 565.7h0M444.3 561.0h0M434.6 566.4h0M447.2 560.5h0M442.0 560.3h0M435.0 567.3h0M436.9 567.0h0M435.4 565.7h0M441.0 566.8h0M439.7 566.9h0M435.4 565.4h0M441.2 566.6h0M436.3 566.7h0M434.6 566.5h0M436.2 566.5h0M438.2 558.8h0M435.4 567.1h0M434.7 566.5h0M438.4 567.1h0M440.2 557.6h0M435.6 566.6h0M438.1 559.4h0M437.4 566.3h0M436.4 564.1h0M435.0 567.4h0M440.3 565.8h0M439.6 565.9h0M444.5 565.5h0M438.6 557.3h0M436.1 564.1h0M441.3 565.7h0M439.9 567.4h0M437.3 565.2h0M435.8 565.7h0M437.1 566.5h0M438.8 566.2h0M440.2 566.9h0M439.6 564.0h0M435.4 567.1h0M438.0 561.5h0M443.1 566.4h0M434.7 567.0h0M435.6 564.0h0M441.3 564.4h0M436.3 567.3h0M437.6 561.7h0M445.4 566.8h0M435.3 566.5h0M435.0 567.2h0M438.4 566.1h0M440.3 565.9h0M438.2 559.3h0M436.5 566.1h0M436.1 566.4h0M436.1 567.1h0M436.1 567.3h0M437.2 567.0h0M436.0 567.1h0M436.5 565.6h0M436.1 562.8h0M437.1 565.2h0M439.3 563.2h0M440.2 564.5h0M436.2 566.4h0M435.1 564.9h0M438.1 565.4h0M435.2 567.3h0M435.0 565.0h0M435.4 566.9h0M440.6 565.3h0M434.7 565.9h0M437.0 564.9h0M436.2 564.3h0M437.0 560.2h0M446.8 555.4h0M436.9 566.5h0M435.5 565.3h0M435.4 567.2h0M437.0 566.7h0M443.7 558.0h0M441.9 563.9h0M439.0 556.5h0M435.0 565.1h0M437.3 567.1h0M434.7 566.8h0M436.5 564.2h0M435.7 563.2h0M438.1 563.8h0M436.2 567.1h0M448.0 566.7h0M439.4 566.1h0M446.2 565.0h0M435.3 567.4h0M437.0 567.4h0M437.2 565.3h0M442.6 566.5h0M443.2 560.4h0M444.5 563.7h0M440.3 563.5h0M436.6 565.5h0M443.1 566.3h0M434.6 567.4h0M435.5 565.9h0M435.7 563.5h0M446.2 545.6h0M437.8 567.3h0M436.0 563.4h0M438.9 557.9h0M438.2 557.4h0M436.2 565.1h0M434.9 566.1h0M434.7 567.4h0M441.8 547.2h0M436.1 564.7h0M437.3 567.3h0M435.9 566.6h0M438.2 557.5h0M437.9 566.9h0M436.7 567.3h0M443.6 563.4h0M439.6 565.3h0M438.6 566.3h0M435.2 565.8h0M437.2 563.1h0M439.5 560.1h0M434.7 566.2h0M437.2 563.4h0M439.1 566.8h0M440.4 566.9h0M436.7 563.7h0M437.5 566.1h0M442.1 566.7h0M434.7 566.4h0M441.2 566.4h0M436.8 565.3h0M441.9 563.6h0M442.0 547.5h0M439.4 563.7h0M435.8 565.2h0M437.4 565.9h0M438.6 564.5h0M446.6 566.5h0M436.3 563.8h0M437.3 567.1h0M435.9 566.8h0M439.4 557.8h0M434.6 565.9h0M438.4 567.0h0M438.0 566.7h0M435.8 566.8h0M435.0 565.0h0M437.7 562.0h0M443.4 566.3h0M436.5 566.7h0M439.1 564.5h0M442.3 567.1h0M437.8 560.1h0M437.8 563.8h0M436.7 567.3h0M434.9 566.9h0M449.3 563.9h0M440.4 567.3h0M434.8 566.5h0M435.2 565.9h0M435.4 565.7h0M434.8 565.5h0M440.4 552.0h0M436.0 567.2h0M435.5 565.5h0M438.5 566.4h0M437.0 565.3h0M436.6 567.1h0M437.1 566.4h0M435.5 565.5h0M437.1 564.7h0M435.6 565.0h0M438.5 567.1h0M436.5 561.8h0M435.4 567.1h0M435.4 566.5h0M435.0 567.2h0M436.0 566.0h0M436.8 564.8h0M435.9 566.0h0M436.1 566.6h0M437.1 564.1h0M442.7 565.0h0M440.2 552.1h0M437.7 564.6h0M435.2 565.6h0M447.2 565.9h0M436.7 566.2h0M434.8 567.4h0M437.1 562.1h0M436.6 567.4h0M439.8 564.7h0M437.4 562.8h0M436.8 566.8h0M441.2 562.5h0M435.9 566.8h0M443.0 565.2h0M439.0 558.8h0M438.6 567.4h0M436.0 564.0h0M439.8 563.8h0M434.8 566.1h0M435.2 567.4h0M436.4 565.6h0M436.0 565.1h0M434.9 565.4h0M435.8 567.3h0M439.2 565.5h0M437.2 566.3h0M438.0 563.1h0M435.4 564.5h0M436.0 567.2h0M443.3 561.9h0M436.3 562.4h0M434.7 565.7h0M435.9 566.8h0M435.9 564.6h0M434.8 567.0h0M436.5 567.4h0M436.7 562.1h0M438.1 560.5h0M436.5 567.2h0M435.3 567.2h0M440.7 566.5h0M438.7 565.8h0M435.5 567.2h0M440.3 565.6h0M436.7 564.3h0M436.1 563.8h0M435.1 567.3h0M436.7 565.9h0M450.0 561.6h0M435.0 564.9h0M438.8 566.4h0M435.0 567.2h0M435.5 564.5h0M439.3 565.9h0M442.7 567.0h0M435.0 565.6h0M435.8 566.6h0M442.2 566.6h0M444.7 565.8h0M434.8 566.5h0M434.6 566.4h0M436.3 564.6h0M436.8 564.6h0M434.7 567.4h0M435.6 566.7h0M435.2 566.3h0M436.3 565.7h0M437.1 565.0h0M436.1 566.1h0M441.1 560.4h0M437.7 567.0h0M441.0 567.4h0M434.7 567.2h0M438.6 566.9h0M435.9 566.9h0M440.7 564.1h0M436.0 567.3h0M435.5 566.7h0M436.8 567.0h0M437.5 567.2h0M440.1 565.7h0M435.2 565.7h0M439.6 566.9h0M435.5 566.6h0M437.7 558.1h0M437.7 567.4h0M435.8 567.1h0M436.6 566.7h0M439.6 566.8h0M440.2 558.9h0M435.7 566.6h0M438.1 566.6h0M439.2 552.8h0M436.1 566.3h0M444.6 564.8h0M438.7 567.1h0M437.2 566.3h0M434.8 566.4h0M436.5 564.4h0M435.1 567.2h0M436.7 567.3h0M436.9 567.3h0M437.1 560.3h0M435.0 567.2h0M435.1 566.7h0M435.3 566.7h0M435.8 567.1h0M436.2 564.6h0M438.1 563.2h0M435.6 566.5h0M435.2 565.8h0M437.0 562.4h0M434.6 565.8h0M436.4 564.9h0M436.0 566.7h0M434.9 566.9h0M441.3 563.1h0M438.6 565.8h0M446.1 566.9h0M438.4 563.0h0M437.7 566.8h0M435.2 567.1h0M439.4 566.2h0M436.3 565.4h0M436.6 566.8h0M435.6 567.1h0M434.9 565.3h0M438.1 566.5h0M441.4 564.8h0M435.8 567.4h0M447.8 566.5h0M436.3 567.3h0M436.4 567.2h0M440.6 557.1h0M439.8 564.0h0M437.5 559.6h0M434.6 567.4h0M440.7 565.8h0M435.4 566.3h0M444.6 552.9h0M437.5 566.5h0M444.5 561.9h0M438.3 567.2h0M436.4 567.5h0M436.9 565.3h0M437.0 563.5h0M436.8 566.6h0M441.4 564.8h0M436.3 567.3h0M436.0 566.5h0M436.2 566.1h0M438.1 563.6h0M439.5 564.9h0M437.7 561.0h0M445.8 563.8h0M437.6 566.7h0M437.8 566.9h0M435.4 566.2h0M449.3 565.9h0M436.3 566.6h0M435.0 567.3h0M437.8 558.8h0M444.8 565.2h0M436.1 565.1h0M436.2 567.4h0M437.1 566.0h0M438.8 566.4h0M436.2 562.9h0M440.4 566.9h0M435.5 567.3h0M438.0 567.0h0M435.8 567.0h0M439.4 566.5h0M439.2 566.4h0M440.4 563.6h0M436.5 567.2h0M439.1 564.6h0M441.4 565.0h0M435.6 566.5h0M435.0 566.4h0M435.1 567.3h0M436.8 564.7h0M436.1 566.3h0M435.9 565.2h0M444.4 566.1h0M439.5 565.0h0M440.4 555.5h0M437.6 561.3h0M434.7 567.2h0M436.2 567.5h0M440.7 567.5h0M437.6 566.9h0M437.0 567.1h0M435.7 567.3h0M435.8 565.6h0M436.0 565.5h0M435.7 566.4h0M435.6 566.9h0M442.4 566.3h0M436.6 566.5h0M435.8 566.1h0M434.7 565.6h0M435.5 564.8h0M439.2 553.8h0M438.9 566.3h0M437.1 564.8h0M443.4 564.8h0M437.7 566.3h0M435.1 565.6h0M438.2 567.4h0M437.8 567.4h0M436.1 566.0h0M436.7 565.7h0M438.1 557.7h0M436.1 566.7h0M437.9 567.4h0M435.3 567.0h0M434.8 566.4h0M434.7 566.7h0M436.7 567.4h0M436.3 563.2h0M436.3 566.7h0M440.5 565.8h0M437.1 564.5h0M434.9 566.9h0M437.6 567.3h0M434.7 566.0h0M437.8 567.1h0M444.0 564.8h0M436.3 566.7h0M435.6 566.3h0M440.8 561.7h0M435.0 566.0h0M435.3 565.7h0M436.2 567.3h0M439.3 566.0h0M438.6 558.4h0M435.6 564.7h0M438.7 567.2h0M436.1 564.9h0M436.5 565.4h0M437.2 567.2h0M437.9 567.4h0M436.1 563.5h0M436.5 567.2h0M434.8 565.7h0M437.2 565.7h0M437.3 565.0h0M436.8 566.7h0M436.0 565.9h0M435.3 566.7h0M439.1 566.2h0M436.6 565.5h0M435.7 564.6h0M439.4 567.3h0M435.9 566.6h0M436.9 565.4h0M436.5 563.1h0M435.2 566.8h0M434.7 567.3h0M447.7 566.7h0M434.6 566.6h0M436.5 564.2h0M435.2 565.8h0M436.1 567.1h0M439.6 558.3h0M435.5 567.4h0M435.4 564.1h0M435.0 566.7h0M438.5 564.3h0M436.3 564.3h0M438.7 565.5h0M439.3 565.9h0M437.4 566.4h0M442.4 566.4h0M435.4 563.7h0M436.5 565.9h0M437.2 564.6h0M438.5 564.1h0M437.0 565.6h0M438.4 566.7h0M439.1 567.3h0M436.0 565.5h0M436.4 566.6h0M437.0 567.1h0M434.9 567.4h0M434.6 566.7h0M435.1 566.1h0M436.1 567.4h0M435.5 566.1h0M438.4 564.8h0M434.8 567.2h0M435.8 564.3h0M440.4 566.2h0M440.3 560.7h0M435.5 567.1h0M436.4 563.8h0M438.7 567.1h0M435.3 566.8h0M435.0 565.0h0M442.3 567.1h0M438.3 564.3h0M436.6 565.1h0M436.3 565.1h0M437.8 566.2h0M439.0 564.0h0M436.7 565.1h0M435.4 564.8h0M438.7 567.2h0M437.4 565.5h0M437.2 564.1h0M437.7 564.3h0M437.7 567.3h0M436.8 564.8h0M438.4 565.8h0M434.7 566.7h0M435.3 567.3h0M436.8 567.0h0M434.9 565.0h0M443.3 563.1h0M438.0 566.4h0M436.9 563.1h0M434.9 566.9h0M434.9 566.0h0M435.0 566.3h0M437.8 558.5h0M437.8 566.8h0M437.1 560.9h0M435.2 567.1h0M438.3 557.7h0M437.2 567.5h0M437.0 565.7h0M435.8 565.9h0M437.0 563.8h0M438.8 566.6h0M435.9 564.6h0M441.2 566.6h0M438.9 561.9h0M438.0 565.4h0M437.1 565.5h0M445.1 564.0h0M437.3 562.6h0M438.1 567.3h0M434.6 567.0h0M437.6 567.0h0M436.6 567.3h0M436.4 565.9h0M436.6 566.7h0M438.2 567.4h0M439.7 560.9h0M444.7 556.3h0M436.0 566.9h0M435.0 567.4h0M435.1 567.2h0M439.6 567.1h0M436.7 563.2h0M437.4 565.8h0M440.9 566.4h0M446.9 563.6h0M436.0 563.4h0M435.8 567.2h0M441.4 566.7h0M436.4 565.1h0M439.6 559.6h0M444.2 566.6h0M439.5 567.4h0M439.9 565.9h0M436.1 566.7h0M435.6 566.4h0M436.8 564.6h0M438.5 566.6h0M435.3 565.9h0M435.8 565.7h0M435.9 563.4h0M435.1 567.4h0M434.9 567.4h0M435.6 564.4h0M439.1 553.5h0M441.2 567.2h0M440.2 554.7h0M436.5 560.4h0M435.1 567.4h0M435.0 566.6h0M435.4 564.0h0M436.4 566.6h0M435.0 567.2h0M436.3 564.7h0M435.5 567.1h0M435.0 565.7h0M436.2 567.1h0M439.5 554.2h0M439.3 566.8h0M438.0 566.6h0M437.6 559.2h0M434.9 566.8h0M435.7 567.4h0M437.1 566.2h0M444.6 565.8h0M447.9 566.6h0M434.6 567.2h0M436.4 564.6h0M438.4 559.6h0M443.1 565.8h0M437.5 567.1h0M437.6 565.1h0M437.9 558.8h0M434.7 567.0h0M436.8 562.2h0M435.5 566.9h0M434.6 566.5h0M441.0 566.8h0M439.4 558.0h0M436.1 567.4h0M442.1 567.3h0M437.3 566.2h0M435.1 566.0h0M436.0 565.5h0M437.3 563.1h0M438.5 562.9h0M436.0 566.0h0M435.5 564.9h0M439.0 566.1h0M435.3 566.0h0M441.2 567.4h0M435.5 566.8h0M434.6 567.2h0M439.8 566.7h0M439.1 560.5h0M436.1 566.2h0M438.2 567.3h0M440.8 566.2h0M437.5 565.3h0M441.9 566.5h0M434.7 566.3h0M435.0 567.2h0M436.0 564.6h0M437.2 566.6h0M435.0 566.3h0M439.8 562.5h0M435.0 565.5h0M435.0 567.2h0M437.9 567.4h0M435.0 567.0h0M438.7 561.8h0M437.5 565.0h0M435.3 565.6h0M437.9 567.1h0M438.6 558.0h0M436.7 566.1h0M438.3 566.8h0M435.8 566.7h0M435.7 567.0h0M443.2 564.5h0M437.7 566.1h0M436.9 565.2h0M435.0 567.5h0M449.0 559.8h0M436.3 565.3h0M437.9 563.8h0M438.9 567.2h0M437.6 557.8h0M437.7 567.4h0M436.7 564.6h0M435.5 565.9h0M439.5 566.9h0M436.0 566.0h0M435.8 562.8h0M448.2 563.9h0M439.7 564.0h0M435.8 567.3h0M435.0 566.6h0M437.0 564.2h0M435.6 564.3h0M438.9 566.5h0M435.8 565.2h0M440.3 563.3h0M440.5 552.9h0M442.3 566.1h0M436.4 563.4h0M436.7 567.2h0M434.7 566.7h0M434.9 566.9h0M442.0 567.3h0M437.4 566.1h0M436.5 567.0h0M437.4 566.6h0M436.4 567.1h0M435.1 567.3h0M435.2 564.7h0M435.5 565.3h0M435.1 567.0h0M435.1 567.2h0M438.6 564.1h0M436.7 566.9h0M437.2 558.7h0M435.5 566.6h0M442.5 566.4h0M436.1 566.1h0M441.3 567.0h0M437.4 558.9h0M438.2 565.0h0M440.4 548.9h0M436.1 567.0h0M438.1 558.4h0M437.2 566.4h0M438.8 567.0h0M438.8 566.6h0M438.0 565.6h0M437.2 567.2h0M436.5 561.9h0M439.6 554.2h0M437.5 564.3h0M437.6 567.2h0M439.7 567.2h0M445.9 560.5h0M438.3 567.0h0M435.7 565.4h0M436.7 566.0h0M440.6 567.4h0M442.3 564.2h0M437.5 567.5h0M437.2 567.4h0M468.6 480.3h0M470.6 480.9h0M450.8 520.2h0M464.7 523.4h0M456.8 526.3h0M450.4 529.0h0M465.1 529.8h0M466.1 532.8h0M442.5 538.6h0M446.4 539.7h0M466.6 549.4h0M467.6 548.5h0M468.1 550.2h0M467.1 550.8h0M463.2 552.3h0M471.6 552.0h0M460.7 557.2h0M463.7 560.7h0M454.8 562.5h0" stroke="#ff0000" stroke-width="2.1" stroke-linecap="round" fill="none"/>
<line x1="434.6" y1="567.53" x2="460.2" y2="567.53" stroke="#ff0000" stroke-width="1.5" stroke-linecap="round"/>
<line x1="418.3" y1="567.87" x2="434.1" y2="567.87" stroke="#0a0a0a" stroke-width="1.15" stroke-linecap="round"/>
<path d="M377.70 460.4V573.10M376.90 572.3H512.7" stroke="#111" stroke-width="1.7" fill="none"/>
<path d="M374.00 567.70H378.0M374.00 553.14H378.0M374.00 538.58H378.0M374.00 524.02H378.0M374.00 509.46H378.0M374.00 494.90H378.0M374.00 480.34H378.0M374.00 465.78H378.0M383.80 572.3V575.9M408.45 572.3V575.9M433.10 572.3V575.9M457.75 572.3V575.9M482.40 572.3V575.9M507.05 572.3V575.9" stroke="#1a1a1a" stroke-width="1.05" fill="none"/>
<text x="370.60" y="570.00" font-size="6.5" text-anchor="end" fill="#222" textLength="3.15" lengthAdjust="spacingAndGlyphs" class="bd">0</text>
<text x="370.60" y="555.44" font-size="6.5" text-anchor="end" fill="#222" textLength="6.30" lengthAdjust="spacingAndGlyphs" class="bd">50</text>
<text x="370.60" y="540.88" font-size="6.5" text-anchor="end" fill="#222" textLength="9.45" lengthAdjust="spacingAndGlyphs" class="bd">100</text>
<text x="370.60" y="526.32" font-size="6.5" text-anchor="end" fill="#222" textLength="9.45" lengthAdjust="spacingAndGlyphs" class="bd">150</text>
<text x="370.60" y="511.76" font-size="6.5" text-anchor="end" fill="#222" textLength="9.45" lengthAdjust="spacingAndGlyphs" class="bd">200</text>
<text x="370.60" y="497.20" font-size="6.5" text-anchor="end" fill="#222" textLength="9.45" lengthAdjust="spacingAndGlyphs" class="bd">250</text>
<text x="370.60" y="482.64" font-size="6.5" text-anchor="end" fill="#222" textLength="9.45" lengthAdjust="spacingAndGlyphs" class="bd">300</text>
<text x="370.60" y="468.08" font-size="6.5" text-anchor="end" fill="#222" textLength="9.45" lengthAdjust="spacingAndGlyphs" class="bd">350</text>
<text x="383.50" y="584.60" font-size="6.5" text-anchor="middle" fill="#222" textLength="8.30" lengthAdjust="spacingAndGlyphs" class="bd">-10</text>
<text x="408.15" y="584.60" font-size="6.5" text-anchor="middle" fill="#222" textLength="5.15" lengthAdjust="spacingAndGlyphs" class="bd">-5</text>
<text x="433.10" y="584.60" font-size="6.5" text-anchor="middle" fill="#222" textLength="3.15" lengthAdjust="spacingAndGlyphs" class="bd">0</text>
<text x="457.75" y="584.60" font-size="6.5" text-anchor="middle" fill="#222" textLength="3.15" lengthAdjust="spacingAndGlyphs" class="bd">5</text>
<text x="482.40" y="584.60" font-size="6.5" text-anchor="middle" fill="#222" textLength="6.30" lengthAdjust="spacingAndGlyphs" class="bd">10</text>
<text x="507.05" y="584.60" font-size="6.5" text-anchor="middle" fill="#222" textLength="6.30" lengthAdjust="spacingAndGlyphs" class="bd">15</text>
<text x="406.00" y="455.00" font-size="8.8" text-anchor="start" fill="#111" textLength="52.50" lengthAdjust="spacingAndGlyphs" class="bd">TPA+ vs MRTFA</text>
<text x="459.10" y="451.20" font-size="6.5" text-anchor="start" fill="#111" textLength="7.20" lengthAdjust="spacingAndGlyphs" class="bd">OE</text>
<text x="466.60" y="455.00" font-size="8.8" text-anchor="start" fill="#111" textLength="18.30" lengthAdjust="spacingAndGlyphs" class="bd">TPA+</text>
<text x="387.10" y="472.10" font-size="6.5" text-anchor="start" fill="#5a50a5" textLength="13.70" lengthAdjust="spacingAndGlyphs">1,964</text>
<text x="479.00" y="472.10" font-size="6.5" text-anchor="start" fill="#d75a46" textLength="13.70" lengthAdjust="spacingAndGlyphs">2,424</text>
<line x1="459.4" y1="490.8" x2="469" y2="481.2" stroke="#111" stroke-width="0.95"/>
<line x1="397.1" y1="534.4" x2="430.8" y2="565.8" stroke="#111" stroke-width="0.95"/>
<line x1="437.5" y1="534.4" x2="434" y2="566" stroke="#111" stroke-width="0.95"/>
<line x1="425" y1="555.2" x2="431" y2="565" stroke="#111" stroke-width="0.95"/>
<line x1="401.9" y1="563" x2="423" y2="566.7" stroke="#111" stroke-width="0.95"/>
<line x1="467.1" y1="545.6" x2="440.2" y2="563.5" stroke="#111" stroke-width="0.95"/>
<line x1="488.8" y1="562.6" x2="439.2" y2="567.1" stroke="#111" stroke-width="0.95"/>
<rect x="444.6" y="490.8" width="20.00" height="7.30" rx="1.4" fill="#fff" stroke="#555" stroke-width="0.75"/>
<text x="454.60" y="496.30" font-size="5.8" text-anchor="middle" textLength="14.2" lengthAdjust="spacingAndGlyphs" fill="#3a3a3a">ACTA2</text>
<rect x="384.6" y="527.3" width="17.90" height="7.10" rx="1.4" fill="#fff" stroke="#555" stroke-width="0.75"/>
<text x="393.55" y="532.70" font-size="5.8" text-anchor="middle" textLength="12.1" lengthAdjust="spacingAndGlyphs" fill="#3a3a3a">GYPB</text>
<rect x="429.4" y="527.3" width="17.30" height="7.10" rx="1.4" fill="#fff" stroke="#555" stroke-width="0.75"/>
<text x="438.05" y="532.70" font-size="5.8" text-anchor="middle" textLength="11.5" lengthAdjust="spacingAndGlyphs" fill="#3a3a3a">GYPA</text>
<rect x="414.8" y="548.1" width="19.80" height="7.10" rx="1.4" fill="#fff" stroke="#555" stroke-width="0.75"/>
<text x="424.70" y="553.50" font-size="5.8" text-anchor="middle" textLength="14.0" lengthAdjust="spacingAndGlyphs" fill="#3a3a3a">CAPN2</text>
<rect x="384.6" y="559" width="17.30" height="7.20" rx="1.4" fill="#fff" stroke="#555" stroke-width="0.75"/>
<text x="393.25" y="564.45" font-size="5.8" text-anchor="middle" textLength="11.5" lengthAdjust="spacingAndGlyphs" fill="#3a3a3a">GYPE</text>
<rect x="459.8" y="538.3" width="26.00" height="7.30" rx="1.4" fill="#fff" stroke="#555" stroke-width="0.75"/>
<text x="472.80" y="543.80" font-size="5.8" text-anchor="middle" textLength="20.2" lengthAdjust="spacingAndGlyphs" fill="#3a3a3a">CORO1A</text>
<rect x="488.8" y="558.5" width="18.50" height="7.50" rx="1.4" fill="#fff" stroke="#555" stroke-width="0.75"/>
<text x="498.05" y="564.10" font-size="5.8" text-anchor="middle" textLength="12.7" lengthAdjust="spacingAndGlyphs" fill="#3a3a3a">EGR3</text>
</g>
<g id="pE">
<rect x="39.6" y="638.9" width="131.20" height="109.05" fill="#ebebeb"/>
<path d="M60.40 638.9V747.95M90.40 638.9V747.95M120.40 638.9V747.95M150.40 638.9V747.95M39.6 736.13H170.8M39.6 721.99H170.8M39.6 707.85H170.8M39.6 693.71H170.8M39.6 679.57H170.8M39.6 665.43H170.8M39.6 651.29H170.8" stroke="#f3f3f3" stroke-width="0.5" fill="none"/>
<path d="M45.40 638.9V747.95M75.40 638.9V747.95M105.40 638.9V747.95M135.40 638.9V747.95M165.40 638.9V747.95M39.6 743.20H170.8M39.6 729.06H170.8M39.6 714.92H170.8M39.6 700.78H170.8M39.6 686.64H170.8M39.6 672.50H170.8M39.6 658.36H170.8M39.6 644.22H170.8" stroke="#fafafa" stroke-width="0.6" fill="none"/>
<path d="M69.40 638.9V747.95M81.40 638.9V747.95M39.6 743.03H170.8" stroke="#666" stroke-width="0.9" stroke-dasharray="1.2 1.5" fill="none"/>
<path d="M69.16 743.20L69.16 735.85L69.61 735.85L70.05 735.85L70.50 735.85L70.94 736.40L71.39 737.42L71.83 738.34L72.28 739.15L72.73 739.85L73.17 740.44L73.62 740.92L74.06 741.30L74.51 741.57L74.95 741.73L75.40 741.79L75.85 741.73L76.29 741.57L76.74 741.30L77.18 740.92L77.63 740.44L78.07 739.85L78.52 739.15L78.97 738.34L79.41 737.42L79.86 736.40L80.30 735.85L80.75 735.85L81.19 735.85L81.64 735.85L81.64 743.20Z" fill="#00fa00" stroke="#00fa00" stroke-width="0.8" stroke-linejoin="round"/>
<path d="M58.3 696.8h0M58.9 697.4h0M59.2 712.7h0M58.0 719.7h0M65.2 725.9h0M65.8 727.6h0M56.8 736.7h0M56.8 740.4h0M64.0 734.7h0M64.6 736.4h0M65.8 738.4h0M66.4 740.4h0M64.6 740.9h0" stroke="#0000ff" stroke-width="2.1" stroke-linecap="round" fill="none"/>
<path d="M85.9 732.5h0M85.6 724.6h0M81.6 741.6h0M91.1 727.2h0M90.7 705.7h0M88.6 735.0h0M85.9 716.7h0M83.2 741.7h0M86.5 738.8h0M82.6 731.0h0M84.6 736.8h0M101.9 740.3h0M83.5 740.8h0M84.0 739.6h0M89.4 736.0h0M97.7 739.0h0M98.1 732.6h0M82.0 737.3h0M89.9 721.1h0M84.3 740.5h0M85.0 734.0h0M86.4 738.1h0M92.2 717.3h0M87.2 722.0h0M82.1 734.4h0M101.2 731.2h0M85.3 723.1h0M90.4 735.7h0M93.6 735.2h0M86.5 734.3h0M85.5 722.3h0M85.6 733.9h0M86.9 741.0h0M84.4 721.0h0M91.4 708.9h0M90.2 736.7h0M81.8 739.3h0M86.7 718.8h0M89.8 733.6h0M83.5 729.3h0M82.3 735.2h0M85.5 726.4h0M83.6 742.4h0M85.0 725.3h0M96.2 734.7h0M101.6 737.4h0M83.9 741.5h0M91.4 705.1h0M85.4 722.4h0M85.4 738.1h0M93.1 728.2h0M84.9 729.9h0M90.7 711.2h0M86.7 742.5h0M82.9 733.0h0M90.9 742.1h0M83.8 732.0h0M81.7 741.7h0M83.2 742.8h0M84.0 740.9h0M90.4 738.5h0M82.1 741.8h0M81.7 740.0h0M88.7 712.5h0M82.0 742.0h0M88.2 742.1h0M85.9 724.9h0M86.4 730.5h0M84.4 730.0h0M82.9 730.4h0M85.5 741.3h0M92.7 735.1h0M85.2 740.1h0M85.6 727.1h0M84.0 734.7h0M88.8 738.9h0M82.4 733.2h0M90.6 707.9h0M94.5 729.9h0M86.7 731.4h0M87.6 731.9h0M88.1 741.6h0M83.7 728.3h0M91.0 726.5h0M87.1 724.2h0M84.3 729.7h0M87.1 738.9h0M91.1 723.5h0M85.9 717.4h0M83.7 742.2h0M81.6 742.1h0M84.7 732.0h0M84.1 727.3h0M90.2 705.8h0M97.6 707.4h0M89.3 738.2h0M83.3 739.3h0M83.7 731.3h0M85.8 724.5h0M96.0 724.7h0M85.9 724.2h0M84.6 723.3h0M84.4 724.8h0M82.3 734.1h0M85.8 740.0h0M81.9 742.0h0M85.4 718.1h0M100.9 731.1h0M84.4 740.0h0M82.5 739.4h0M90.2 716.3h0M83.3 739.9h0M85.1 726.7h0M85.0 737.5h0M83.4 741.2h0M87.9 741.8h0M84.4 740.0h0M83.7 741.5h0M92.4 723.9h0M86.7 735.0h0M85.1 721.1h0M86.3 732.5h0M85.0 730.8h0M84.8 736.2h0M84.5 740.7h0M83.1 739.3h0M83.1 733.9h0M82.7 740.5h0M86.2 733.7h0M86.6 727.6h0M81.7 740.2h0M81.9 740.6h0M85.8 728.0h0M85.6 725.8h0M83.9 739.8h0M98.2 656.9h0M100.6 656.9h0M106.0 656.9h0M112.0 657.5h0M125.2 656.9h0M101.8 665.1h0M97.0 673.9h0M97.6 673.1h0M96.4 674.8h0M95.8 681.3h0M101.8 683.0h0M91.9 693.4h0M97.6 696.3h0M92.8 699.6h0M94.6 703.6h0M106.6 704.7h0M114.4 702.5h0M122.2 703.0h0M113.2 716.9h0M128.2 734.2h0M124.0 737.3h0" stroke="#ff0000" stroke-width="2.1" stroke-linecap="round" fill="none"/>
<line x1="71.8" y1="743.37" x2="91.0" y2="743.37" stroke="#0a0a0a" stroke-width="1.15" stroke-linecap="round"/>
<path d="M39.30 638.9V748.75M38.50 747.95H170.8" stroke="#111" stroke-width="1.7" fill="none"/>
<path d="M35.60 743.20H39.6M35.60 729.06H39.6M35.60 714.92H39.6M35.60 700.78H39.6M35.60 686.64H39.6M35.60 672.50H39.6M35.60 658.36H39.6M35.60 644.22H39.6M45.40 747.95V751.5500000000001M75.40 747.95V751.5500000000001M105.40 747.95V751.5500000000001M135.40 747.95V751.5500000000001M165.40 747.95V751.5500000000001" stroke="#1a1a1a" stroke-width="1.05" fill="none"/>
<text x="32.20" y="745.50" font-size="6.5" text-anchor="end" fill="#222" textLength="3.15" lengthAdjust="spacingAndGlyphs" class="bd">0</text>
<text x="32.20" y="731.36" font-size="6.5" text-anchor="end" fill="#222" textLength="6.30" lengthAdjust="spacingAndGlyphs" class="bd">50</text>
<text x="32.20" y="717.22" font-size="6.5" text-anchor="end" fill="#222" textLength="9.45" lengthAdjust="spacingAndGlyphs" class="bd">100</text>
<text x="32.20" y="703.08" font-size="6.5" text-anchor="end" fill="#222" textLength="9.45" lengthAdjust="spacingAndGlyphs" class="bd">150</text>
<text x="32.20" y="688.94" font-size="6.5" text-anchor="end" fill="#222" textLength="9.45" lengthAdjust="spacingAndGlyphs" class="bd">200</text>
<text x="32.20" y="674.80" font-size="6.5" text-anchor="end" fill="#222" textLength="9.45" lengthAdjust="spacingAndGlyphs" class="bd">250</text>
<text x="32.20" y="660.66" font-size="6.5" text-anchor="end" fill="#222" textLength="9.45" lengthAdjust="spacingAndGlyphs" class="bd">300</text>
<text x="32.20" y="646.52" font-size="6.5" text-anchor="end" fill="#222" textLength="9.45" lengthAdjust="spacingAndGlyphs" class="bd">350</text>
<text x="45.10" y="760.25" font-size="6.5" text-anchor="middle" fill="#222" textLength="5.15" lengthAdjust="spacingAndGlyphs" class="bd">-5</text>
<text x="75.40" y="760.25" font-size="6.5" text-anchor="middle" fill="#222" textLength="3.15" lengthAdjust="spacingAndGlyphs" class="bd">0</text>
<text x="105.40" y="760.25" font-size="6.5" text-anchor="middle" fill="#222" textLength="3.15" lengthAdjust="spacingAndGlyphs" class="bd">5</text>
<text x="135.40" y="760.25" font-size="6.5" text-anchor="middle" fill="#222" textLength="6.30" lengthAdjust="spacingAndGlyphs" class="bd">10</text>
<text x="165.40" y="760.25" font-size="6.5" text-anchor="middle" fill="#222" textLength="6.30" lengthAdjust="spacingAndGlyphs" class="bd">15</text>
<text x="72.80" y="633.90" font-size="8.8" text-anchor="start" fill="#111" textLength="64.40" lengthAdjust="spacingAndGlyphs" class="bd">Untreated vs TPA+</text>
<text class="bd" transform="translate(16.0,693.5) rotate(-90)" font-size="8.2" text-anchor="middle" textLength="43.9" lengthAdjust="spacingAndGlyphs" fill="#111">-log10 (FDR)</text>
<text x="46.70" y="654.20" font-size="6.5" text-anchor="start" fill="#5a50a5" textLength="6.10" lengthAdjust="spacingAndGlyphs">50</text>
<text x="146.30" y="667.70" font-size="6.5" text-anchor="start" fill="#d75a46" textLength="9.15" lengthAdjust="spacingAndGlyphs">172</text>
<line x1="135.4" y1="652.7" x2="125.2" y2="656.5" stroke="#111" stroke-width="0.95"/>
<line x1="97.3" y1="713.7" x2="87.7" y2="721" stroke="#111" stroke-width="0.95"/>
<line x1="74" y1="734" x2="80.8" y2="737.4" stroke="#111" stroke-width="0.95"/>
<rect x="134.4" y="646" width="17.30" height="7.70" rx="1.4" fill="#fff" stroke="#555" stroke-width="0.75"/>
<text x="143.05" y="651.70" font-size="5.8" text-anchor="middle" textLength="11.5" lengthAdjust="spacingAndGlyphs" fill="#3a3a3a">EGR3</text>
<rect x="92.5" y="706.2" width="19.80" height="7.50" rx="1.4" fill="#fff" stroke="#555" stroke-width="0.75"/>
<text x="102.40" y="711.80" font-size="5.8" text-anchor="middle" textLength="14.0" lengthAdjust="spacingAndGlyphs" fill="#3a3a3a">CAPN2</text>
<rect x="50.4" y="728.7" width="23.60" height="7.30" rx="1.4" fill="#fff" stroke="#555" stroke-width="0.75"/>
<text x="62.20" y="734.20" font-size="5.8" text-anchor="middle" textLength="17.8" lengthAdjust="spacingAndGlyphs" fill="#3a3a3a">CORO1A</text>
</g>
<g id="pF">
<rect x="206.4" y="638.9" width="131.10" height="109.05" fill="#ebebeb"/>
<path d="M227.05 638.9V747.95M257.15 638.9V747.95M287.25 638.9V747.95M317.35 638.9V747.95M206.4 736.13H337.5M206.4 721.99H337.5M206.4 707.85H337.5M206.4 693.71H337.5M206.4 679.57H337.5M206.4 665.43H337.5M206.4 651.29H337.5" stroke="#f3f3f3" stroke-width="0.5" fill="none"/>
<path d="M212.00 638.9V747.95M242.10 638.9V747.95M272.20 638.9V747.95M302.30 638.9V747.95M332.40 638.9V747.95M206.4 743.20H337.5M206.4 729.06H337.5M206.4 714.92H337.5M206.4 700.78H337.5M206.4 686.64H337.5M206.4 672.50H337.5M206.4 658.36H337.5M206.4 644.22H337.5" stroke="#fafafa" stroke-width="0.6" fill="none"/>
<path d="M236.08 638.9V747.95M248.12 638.9V747.95M206.4 743.03H337.5" stroke="#666" stroke-width="0.9" stroke-dasharray="1.2 1.5" fill="none"/>
<path d="M235.78 743.20L235.78 734.72L236.23 734.72L236.68 734.72L237.13 734.72L237.59 734.72L238.04 735.57L238.49 736.88L238.94 738.03L239.39 739.02L239.84 739.87L240.29 740.56L240.75 741.10L241.20 741.48L241.65 741.71L242.10 741.79L242.55 741.71L243.00 741.48L243.45 741.10L243.91 740.56L244.36 739.87L244.81 739.02L245.26 738.03L245.71 736.88L246.16 735.57L246.62 734.72L247.07 734.72L247.52 734.72L247.97 734.72L248.42 734.72L248.42 743.20Z" fill="#00fa00" stroke="#00fa00" stroke-width="0.8" stroke-linejoin="round"/>
<path d="M227.1 741.8h0M226.5 737.3h0M229.8 726.9h0M226.2 725.2h0M227.1 734.8h0M233.9 732.5h0M226.0 731.9h0M223.7 731.2h0M228.1 726.5h0M221.9 738.4h0M227.9 741.4h0M228.7 726.9h0M231.1 729.3h0M220.4 738.0h0M232.8 735.1h0M222.9 739.4h0M226.2 742.4h0M223.4 732.6h0M225.8 732.1h0M233.7 739.1h0M231.5 739.6h0M232.7 733.0h0M234.7 742.7h0M221.9 732.4h0M223.2 734.9h0M222.1 734.8h0M224.9 737.3h0M230.1 725.1h0M230.7 724.8h0M229.0 732.4h0M224.0 730.4h0M234.3 734.7h0M232.5 734.3h0M220.4 731.6h0M228.5 732.9h0M229.2 721.7h0M229.0 723.7h0M221.9 733.3h0M228.5 740.3h0M223.8 740.5h0M231.6 739.6h0M233.1 733.8h0M231.0 739.4h0M230.0 738.1h0M229.8 737.7h0M227.4 738.0h0M225.4 738.9h0M225.9 726.5h0M223.5 732.2h0M223.5 736.6h0M225.8 732.3h0M222.5 731.7h0M222.6 732.4h0M222.6 738.7h0M234.9 742.8h0M226.1 727.3h0M232.8 738.9h0M222.8 740.6h0M228.6 724.1h0M232.9 735.3h0M229.1 725.6h0M223.2 735.8h0M229.3 724.0h0M222.7 742.0h0M233.8 736.4h0M226.2 736.3h0M225.9 736.0h0M228.8 725.3h0M222.1 732.6h0M231.0 742.9h0M235.5 739.9h0M227.5 730.0h0M226.0 741.4h0M227.1 725.1h0M233.0 743.1h0M223.7 741.1h0M225.0 734.2h0M230.5 731.5h0M226.6 733.4h0M228.9 732.6h0M230.9 734.9h0M231.1 740.8h0M229.7 741.3h0M224.4 732.6h0M223.8 727.2h0M227.8 727.3h0M225.1 727.2h0M227.2 732.1h0M221.2 732.4h0M226.8 724.9h0M231.4 738.3h0M228.7 721.7h0M224.1 739.7h0M223.0 734.3h0M228.4 728.8h0M230.9 740.4h0M226.6 733.2h0M223.8 731.5h0M230.4 728.7h0M234.8 736.8h0" stroke="#0000ff" stroke-width="2.1" stroke-linecap="round" fill="none"/>
<path d="M262.0 728.9h0M267.5 714.3h0M271.5 699.6h0M269.3 712.4h0M256.5 728.6h0M259.1 696.3h0M259.4 738.5h0M264.5 697.0h0M265.7 695.9h0M266.9 705.3h0M264.0 711.0h0M261.1 728.2h0M258.8 704.0h0M267.7 703.3h0M266.8 696.8h0M261.2 735.9h0M263.8 709.0h0M269.0 717.2h0M273.6 712.8h0M265.9 721.3h0M264.0 686.0h0M259.0 718.9h0M256.4 728.2h0M260.7 739.8h0M264.6 718.5h0M260.6 738.2h0M265.9 717.4h0M259.8 693.8h0M270.1 723.6h0M256.9 727.7h0M269.4 703.6h0M268.2 687.8h0M272.1 702.0h0M280.9 734.8h0M259.7 717.9h0M268.8 716.0h0M279.5 722.3h0M276.4 726.2h0M259.0 729.3h0M257.7 706.3h0M272.5 711.9h0M266.9 724.7h0M259.4 724.4h0M259.3 697.3h0M274.3 721.2h0M268.1 720.3h0M261.0 696.5h0M276.6 717.2h0M266.1 707.8h0M263.9 701.1h0M267.3 690.5h0M261.2 727.0h0M282.0 732.8h0M269.3 738.9h0M262.0 686.5h0M252.6 711.4h0M262.1 693.7h0M270.3 725.9h0M257.2 725.6h0M249.7 735.9h0M248.6 729.1h0M249.3 735.3h0M257.5 741.2h0M248.3 729.6h0M248.7 732.7h0M249.2 739.0h0M262.1 702.9h0M248.5 731.7h0M257.2 741.1h0M254.1 738.8h0M250.6 721.8h0M252.7 718.0h0M249.9 741.8h0M250.3 724.8h0M256.2 741.3h0M251.8 725.6h0M259.8 732.5h0M248.7 731.2h0M250.6 730.7h0M267.6 716.6h0M248.7 740.5h0M250.5 729.8h0M254.8 729.2h0M263.4 715.2h0M252.7 729.2h0M255.8 739.7h0M253.4 736.0h0M259.4 706.2h0M258.5 724.0h0M249.4 738.9h0M266.1 675.2h0M255.3 741.9h0M251.8 736.0h0M271.5 668.0h0M252.5 733.4h0M249.2 732.5h0M250.0 726.5h0M274.5 667.1h0M266.2 725.7h0M255.2 740.1h0M251.5 736.5h0M260.5 687.8h0M248.9 729.9h0M274.4 718.1h0M260.1 710.2h0M249.6 742.5h0M251.0 720.0h0M256.5 723.0h0M271.6 739.2h0M260.3 729.9h0M248.8 736.1h0M255.2 718.7h0M249.7 732.3h0M249.8 725.5h0M255.2 730.7h0M250.1 726.3h0M254.7 729.9h0M249.4 729.8h0M250.9 726.2h0M256.3 733.4h0M253.2 721.3h0M248.3 737.9h0M252.9 740.2h0M254.1 734.5h0M252.3 727.0h0M252.0 739.5h0M251.2 719.2h0M248.7 727.9h0M252.8 738.9h0M250.1 733.5h0M248.5 738.5h0M255.4 724.5h0M248.2 740.0h0M265.6 666.0h0M252.6 738.2h0M265.3 689.8h0M253.8 739.0h0M254.5 734.7h0M253.5 723.8h0M250.8 719.4h0M253.8 729.6h0M248.5 738.1h0M248.4 740.4h0M249.3 739.9h0M248.9 733.5h0M250.8 739.0h0M250.0 730.8h0M254.1 718.0h0M250.8 738.3h0M253.2 719.4h0M253.2 742.1h0M272.8 718.0h0M253.4 729.2h0M258.8 739.3h0M248.4 737.3h0M249.0 730.0h0M251.4 722.2h0M250.2 742.4h0M257.4 712.4h0M262.2 735.1h0M248.8 732.3h0M249.3 739.8h0M252.6 721.1h0M255.3 702.2h0M250.4 735.9h0M267.8 708.6h0M249.7 722.9h0M249.6 742.7h0M264.6 727.0h0M251.1 740.0h0M251.0 729.6h0M248.9 739.9h0M249.2 727.7h0M251.0 718.9h0M263.5 691.7h0M251.4 739.2h0M251.6 740.8h0M273.8 689.9h0M258.0 735.1h0M249.4 732.5h0M253.9 718.4h0M256.2 734.3h0M249.0 729.9h0M258.5 731.7h0M253.9 729.9h0M249.8 739.0h0M260.1 717.6h0M251.3 741.9h0M269.4 736.5h0M248.6 739.3h0M258.9 722.1h0M250.8 742.0h0M248.3 736.8h0M256.0 739.1h0M250.7 739.6h0M251.6 722.4h0M251.9 731.9h0M253.7 729.1h0M254.6 736.3h0M249.1 742.8h0M248.8 742.2h0M249.0 739.0h0M248.2 742.4h0M251.1 730.9h0M252.5 721.8h0M254.9 722.1h0M253.1 732.3h0M251.9 722.1h0M250.2 733.6h0M263.1 681.1h0M257.5 725.5h0M256.9 740.6h0M256.6 723.6h0M259.9 703.0h0M262.4 709.9h0M255.1 707.6h0M249.5 739.7h0M249.9 741.3h0M248.8 739.2h0M253.5 706.6h0M270.6 727.5h0M255.5 738.0h0M249.0 732.8h0M257.0 729.3h0M250.2 742.8h0M255.4 709.4h0M250.5 742.0h0M249.0 738.3h0M264.3 696.6h0M248.3 733.8h0M249.1 739.3h0M265.6 695.4h0M253.1 720.5h0M256.9 739.1h0M248.8 742.8h0M249.8 729.7h0M258.5 694.1h0M257.9 724.2h0M250.5 734.2h0M250.1 738.9h0M251.7 740.2h0M248.7 734.8h0M250.4 732.3h0M254.4 738.3h0M252.1 741.9h0M257.7 723.7h0M250.0 739.8h0M258.9 698.4h0M249.9 731.1h0M254.5 740.3h0M248.8 742.6h0M252.0 742.7h0M250.0 735.2h0M248.7 739.6h0M266.4 722.4h0M248.6 739.0h0M249.5 741.6h0M249.9 737.1h0M250.3 742.4h0M269.2 727.2h0M255.6 704.2h0M250.1 735.7h0M270.1 699.8h0M248.4 739.0h0M248.4 740.1h0M259.8 731.5h0M250.6 740.9h0M248.5 736.5h0M251.7 742.8h0M249.9 742.2h0M248.7 729.4h0M262.5 737.5h0M251.7 728.9h0M249.5 723.3h0M265.2 699.5h0M267.5 696.6h0M261.7 731.1h0M248.6 737.1h0M254.5 738.1h0M249.3 737.0h0M250.8 732.8h0M253.5 739.8h0M255.5 731.7h0M249.4 733.8h0M249.8 722.1h0M248.8 728.6h0M275.9 730.8h0M255.4 735.9h0M249.2 736.5h0M258.0 740.2h0M249.8 728.3h0M248.8 739.0h0M251.9 727.8h0M250.4 737.9h0M251.5 727.8h0M249.5 736.6h0M253.8 734.3h0M258.4 718.2h0M248.7 740.3h0M260.3 735.5h0M263.5 696.3h0M266.5 696.8h0M248.2 736.5h0M251.2 735.2h0M261.0 734.8h0M248.5 739.4h0M266.7 659.6h0M248.4 739.0h0M248.2 729.1h0M254.2 729.9h0M253.5 740.4h0M265.0 733.6h0M253.4 730.4h0M248.9 728.4h0M249.2 729.7h0M250.8 732.2h0M256.5 741.2h0M252.4 737.6h0M252.8 740.3h0M264.0 720.9h0M264.0 691.7h0M254.8 733.2h0M248.6 739.0h0M253.5 741.7h0M262.8 739.4h0M250.8 724.1h0M277.2 720.5h0M250.7 739.8h0M248.9 736.9h0M254.3 714.3h0M257.2 714.6h0M248.7 736.2h0M255.6 731.6h0M255.6 735.8h0M252.4 716.0h0M255.1 742.2h0M253.8 709.8h0M249.9 742.7h0M249.5 737.9h0M251.4 735.8h0M262.2 738.8h0M249.9 722.4h0M269.4 722.5h0M250.7 725.0h0M248.4 735.9h0M261.8 727.7h0M253.0 735.1h0M258.6 735.0h0M250.5 733.0h0M273.3 697.0h0M260.2 725.8h0M257.0 703.9h0M250.1 741.4h0M260.7 692.8h0M250.2 719.8h0M252.0 741.7h0M268.2 660.1h0M253.3 727.2h0M263.7 737.2h0M253.2 713.3h0M248.4 739.0h0M255.2 735.3h0M256.4 710.1h0M249.9 739.0h0M267.0 684.8h0M259.3 741.8h0M254.1 719.5h0M253.4 739.4h0M253.1 732.7h0M248.1 740.1h0M271.5 679.8h0M249.7 735.1h0M249.8 734.7h0M249.0 740.1h0M253.1 741.7h0M248.9 742.6h0M251.1 732.4h0M251.3 737.1h0M252.9 731.3h0M254.9 733.6h0M248.8 740.4h0M250.3 730.9h0M262.1 694.9h0M254.8 727.7h0M251.4 739.5h0M270.8 727.2h0M251.7 716.3h0M252.5 716.8h0M257.5 703.9h0M273.2 696.4h0M250.0 735.1h0M253.5 740.5h0M259.6 716.0h0M271.9 661.7h0M249.5 742.4h0M270.3 708.8h0M248.6 730.6h0M275.0 685.7h0M251.6 739.7h0M248.3 732.0h0M259.8 719.2h0M257.0 740.1h0M250.5 719.1h0M263.1 711.2h0M249.7 724.2h0M253.2 741.1h0M250.1 736.6h0M264.7 719.1h0M251.4 741.6h0M253.9 734.9h0M249.5 739.0h0M253.6 731.3h0M252.6 721.3h0M264.6 729.0h0M264.4 699.8h0M250.7 721.9h0M262.0 723.7h0M252.8 733.0h0M265.8 676.3h0M250.6 741.0h0M250.7 722.2h0M250.4 721.0h0M252.9 719.3h0M260.4 699.6h0M248.4 738.8h0M248.2 735.3h0M252.0 738.6h0M252.3 716.4h0M248.2 734.8h0M252.6 740.3h0M249.9 733.9h0M248.3 736.0h0M252.9 721.8h0M256.1 737.1h0M251.6 730.4h0M250.8 724.6h0M256.1 719.6h0M249.7 740.2h0M249.7 740.6h0M249.7 727.9h0M252.1 712.8h0M256.0 710.4h0M251.0 735.8h0M270.7 708.8h0M259.6 696.3h0M253.2 734.6h0M251.5 719.2h0M252.1 733.8h0M255.7 731.5h0M257.2 724.8h0M249.2 741.9h0M254.3 741.9h0M253.7 736.7h0M251.5 718.6h0M250.0 740.9h0M251.3 725.7h0M249.3 728.4h0M248.9 736.2h0M275.5 711.3h0M251.7 741.8h0M276.9 661.8h0M280.3 669.1h0M251.9 739.7h0M252.8 736.3h0M253.8 725.4h0M249.1 736.2h0M265.4 739.2h0M249.0 735.9h0M259.3 731.0h0M251.7 734.1h0M251.8 740.4h0M251.0 737.1h0M252.3 741.4h0M249.7 743.0h0M252.3 720.1h0M282.9 734.4h0M249.4 742.7h0M260.6 726.3h0M249.1 734.7h0M258.6 736.6h0M254.2 741.7h0M264.4 719.4h0M249.4 738.8h0M249.0 734.1h0M249.7 727.4h0M266.8 657.5h0M272.2 657.5h0M278.2 657.5h0M280.0 657.5h0M285.4 657.5h0M293.9 657.5h0M298.1 657.5h0M308.3 657.5h0M262.0 662.6h0M265.6 661.8h0M263.2 666.3h0M275.8 660.6h0M311.3 704.5h0M309.5 719.4h0M305.9 721.7h0M284.2 718.9h0M289.7 725.1h0M283.0 729.9h0M279.4 686.6h0M275.2 678.2h0" stroke="#ff0000" stroke-width="2.1" stroke-linecap="round" fill="none"/>
<line x1="238.5" y1="743.37" x2="264.4" y2="743.37" stroke="#0a0a0a" stroke-width="1.15" stroke-linecap="round"/>
<path d="M273.4 743.2h0M304.7 743.2h0" stroke="#111111" stroke-width="2.0" stroke-linecap="round" fill="none"/>
<path d="M206.10 638.9V748.75M205.30 747.95H337.5" stroke="#111" stroke-width="1.7" fill="none"/>
<path d="M202.40 743.20H206.4M202.40 729.06H206.4M202.40 714.92H206.4M202.40 700.78H206.4M202.40 686.64H206.4M202.40 672.50H206.4M202.40 658.36H206.4M202.40 644.22H206.4M212.00 747.95V751.5500000000001M242.10 747.95V751.5500000000001M272.20 747.95V751.5500000000001M302.30 747.95V751.5500000000001M332.40 747.95V751.5500000000001" stroke="#1a1a1a" stroke-width="1.05" fill="none"/>
<text x="199.00" y="745.50" font-size="6.5" text-anchor="end" fill="#222" textLength="3.15" lengthAdjust="spacingAndGlyphs" class="bd">0</text>
<text x="199.00" y="731.36" font-size="6.5" text-anchor="end" fill="#222" textLength="6.30" lengthAdjust="spacingAndGlyphs" class="bd">50</text>
<text x="199.00" y="717.22" font-size="6.5" text-anchor="end" fill="#222" textLength="9.45" lengthAdjust="spacingAndGlyphs" class="bd">100</text>
<text x="199.00" y="703.08" font-size="6.5" text-anchor="end" fill="#222" textLength="9.45" lengthAdjust="spacingAndGlyphs" class="bd">150</text>
<text x="199.00" y="688.94" font-size="6.5" text-anchor="end" fill="#222" textLength="9.45" lengthAdjust="spacingAndGlyphs" class="bd">200</text>
<text x="199.00" y="674.80" font-size="6.5" text-anchor="end" fill="#222" textLength="9.45" lengthAdjust="spacingAndGlyphs" class="bd">250</text>
<text x="199.00" y="660.66" font-size="6.5" text-anchor="end" fill="#222" textLength="9.45" lengthAdjust="spacingAndGlyphs" class="bd">300</text>
<text x="199.00" y="646.52" font-size="6.5" text-anchor="end" fill="#222" textLength="9.45" lengthAdjust="spacingAndGlyphs" class="bd">350</text>
<text x="211.70" y="760.25" font-size="6.5" text-anchor="middle" fill="#222" textLength="5.15" lengthAdjust="spacingAndGlyphs" class="bd">-5</text>
<text x="242.10" y="760.25" font-size="6.5" text-anchor="middle" fill="#222" textLength="3.15" lengthAdjust="spacingAndGlyphs" class="bd">0</text>
<text x="272.20" y="760.25" font-size="6.5" text-anchor="middle" fill="#222" textLength="3.15" lengthAdjust="spacingAndGlyphs" class="bd">5</text>
<text x="302.30" y="760.25" font-size="6.5" text-anchor="middle" fill="#222" textLength="6.30" lengthAdjust="spacingAndGlyphs" class="bd">10</text>
<text x="332.40" y="760.25" font-size="6.5" text-anchor="middle" fill="#222" textLength="6.30" lengthAdjust="spacingAndGlyphs" class="bd">15</text>
<text x="223.80" y="633.90" font-size="8.8" text-anchor="start" fill="#111" textLength="70.20" lengthAdjust="spacingAndGlyphs" class="bd">Untreated vs MRTFA</text>
<text x="294.50" y="630.20" font-size="6.5" text-anchor="start" fill="#111" textLength="6.90" lengthAdjust="spacingAndGlyphs" class="bd">OE</text>
<text x="301.70" y="633.90" font-size="8.8" text-anchor="start" fill="#111" textLength="18.20" lengthAdjust="spacingAndGlyphs" class="bd">TPA+</text>
<text x="240.20" y="772.00" font-size="8.3" text-anchor="start" fill="#111" textLength="63.60" lengthAdjust="spacingAndGlyphs" class="bd">log2 (fold change)</text>
<text x="213.70" y="654.20" font-size="6.5" text-anchor="start" fill="#5a50a5" textLength="9.15" lengthAdjust="spacingAndGlyphs">118</text>
<text x="310.00" y="672.50" font-size="6.5" text-anchor="start" fill="#d75a46" textLength="9.15" lengthAdjust="spacingAndGlyphs">503</text>
<line x1="302.7" y1="653.8" x2="293.7" y2="657.5" stroke="#111" stroke-width="0.95"/>
<line x1="276.3" y1="666.7" x2="286" y2="658.5" stroke="#111" stroke-width="0.95"/>
<line x1="242.5" y1="716.6" x2="252.7" y2="724" stroke="#111" stroke-width="0.95"/>
<line x1="258.8" y1="730.7" x2="266.6" y2="735" stroke="#111" stroke-width="0.95"/>
<rect x="301.7" y="646" width="17.00" height="7.70" rx="1.4" fill="#fff" stroke="#555" stroke-width="0.75"/>
<text x="310.20" y="651.70" font-size="5.8" text-anchor="middle" textLength="11.2" lengthAdjust="spacingAndGlyphs" fill="#3a3a3a">EGR3</text>
<rect x="262.3" y="666.7" width="19.40" height="7.30" rx="1.4" fill="#fff" stroke="#555" stroke-width="0.75"/>
<text x="272.00" y="672.20" font-size="5.8" text-anchor="middle" textLength="13.6" lengthAdjust="spacingAndGlyphs" fill="#3a3a3a">ACTA2</text>
<rect x="228.7" y="709.5" width="19.60" height="7.10" rx="1.4" fill="#fff" stroke="#555" stroke-width="0.75"/>
<text x="238.50" y="714.90" font-size="5.8" text-anchor="middle" textLength="13.8" lengthAdjust="spacingAndGlyphs" fill="#3a3a3a">CAPN2</text>
<rect x="265.8" y="734.5" width="25.00" height="7.10" rx="1.4" fill="#fff" stroke="#555" stroke-width="0.75"/>
<text x="278.30" y="739.90" font-size="5.8" text-anchor="middle" textLength="19.2" lengthAdjust="spacingAndGlyphs" fill="#3a3a3a">CORO1A</text>
</g>
<g id="pG">
<rect x="378.0" y="638.9" width="131.00" height="109.05" fill="#ebebeb"/>
<path d="M398.50 638.9V747.95M428.50 638.9V747.95M458.50 638.9V747.95M488.50 638.9V747.95M378.0 736.13H509.0M378.0 721.99H509.0M378.0 707.85H509.0M378.0 693.71H509.0M378.0 679.57H509.0M378.0 665.43H509.0M378.0 651.29H509.0" stroke="#f3f3f3" stroke-width="0.5" fill="none"/>
<path d="M383.50 638.9V747.95M413.50 638.9V747.95M443.50 638.9V747.95M473.50 638.9V747.95M503.50 638.9V747.95M378.0 743.20H509.0M378.0 729.06H509.0M378.0 714.92H509.0M378.0 700.78H509.0M378.0 686.64H509.0M378.0 672.50H509.0M378.0 658.36H509.0M378.0 644.22H509.0" stroke="#fafafa" stroke-width="0.6" fill="none"/>
<path d="M411.94 638.9V747.95M415.06 638.9V747.95M378.0 743.03H509.0" stroke="#666" stroke-width="0.9" stroke-dasharray="1.2 1.5" fill="none"/>
<path d="M413.5 742.9h0" stroke="#00fa00" stroke-width="2.1" stroke-linecap="round" fill="none"/>
<path d="M409.4 742.4h0M411.9 742.7h0M409.3 742.8h0M409.6 742.1h0M410.1 742.8h0M410.1 742.1h0M408.0 741.4h0M407.5 741.0h0M411.7 742.8h0M405.0 741.2h0M407.8 741.6h0M410.1 742.1h0M403.4 741.5h0M408.9 742.8h0M409.3 741.6h0M408.4 742.9h0M409.9 743.0h0M408.2 742.5h0M409.9 742.6h0M406.4 741.7h0M410.0 741.9h0M405.9 740.6h0M407.4 741.6h0M409.0 742.0h0M407.6 742.6h0M407.3 740.9h0M405.9 740.3h0M410.0 742.9h0M405.0 742.3h0M410.3 742.8h0M411.4 742.5h0M410.3 742.5h0M411.4 742.6h0M410.7 742.7h0M409.8 741.9h0M411.4 742.4h0M407.4 741.0h0M410.6 742.4h0M410.2 741.9h0M410.3 742.4h0M403.5 742.9h0M407.8 742.9h0M403.3 742.6h0M410.4 742.8h0M407.0 742.3h0M407.6 741.7h0M405.9 741.9h0M410.0 743.0h0M404.0 742.1h0M408.5 742.4h0M410.2 742.0h0M411.7 742.8h0M410.5 742.2h0M409.8 742.4h0M409.8 743.0h0M411.8 742.7h0M410.6 742.9h0M406.7 742.0h0M407.4 742.4h0M408.5 741.2h0M409.0 741.7h0M411.2 742.7h0M411.3 742.8h0M409.0 742.0h0M409.2 742.4h0M407.5 741.0h0M408.5 742.9h0M411.0 742.6h0M407.7 741.7h0M409.3 742.2h0M406.3 742.9h0M410.9 742.2h0M409.5 741.6h0M409.3 742.6h0M410.5 742.1h0M405.6 742.5h0M408.5 742.6h0M407.4 742.2h0M408.6 742.0h0M411.9 742.9h0M405.5 740.2h0M409.9 742.0h0M411.1 742.4h0M408.4 741.7h0M410.7 742.1h0M409.9 742.0h0M410.4 742.0h0M409.3 741.9h0M407.8 742.9h0M408.5 741.7h0M405.5 742.4h0M408.0 741.6h0M411.2 742.7h0M411.2 742.9h0M409.9 742.7h0M403.1 742.4h0M405.3 742.6h0M407.8 742.7h0M410.0 742.5h0M406.3 742.8h0M407.1 741.1h0M410.3 742.1h0M409.3 742.6h0M408.0 741.0h0M405.4 742.1h0M406.9 741.1h0M407.5 741.2h0M410.7 742.5h0M410.8 742.9h0M405.2 741.1h0M407.9 742.9h0M411.1 742.9h0M408.6 742.2h0M411.3 742.8h0M410.4 742.9h0M407.9 742.4h0M409.5 741.6h0M411.2 742.8h0M411.2 742.7h0M408.6 743.0h0M411.6 742.7h0M409.7 741.9h0" stroke="#0000ff" stroke-width="2.1" stroke-linecap="round" fill="none"/>
<path d="M417.1 742.9h0M416.5 742.4h0M415.6 742.0h0M416.0 741.6h0M419.3 739.9h0M416.2 742.6h0M432.9 739.8h0M417.9 740.9h0M418.1 740.6h0M416.1 742.5h0M416.1 742.3h0M420.9 741.4h0M425.2 739.7h0M419.5 737.4h0M423.4 741.6h0M421.3 741.5h0M416.8 742.6h0M419.7 736.1h0M421.9 741.6h0M415.1 742.0h0M417.0 742.3h0M416.5 742.1h0M418.9 737.8h0M431.9 742.0h0M416.4 741.0h0M419.2 742.6h0M420.3 742.9h0M416.9 740.5h0M423.6 734.9h0M419.6 740.9h0M417.5 741.8h0M415.3 742.1h0M423.5 734.2h0M417.2 740.5h0M416.3 740.6h0M415.4 742.8h0M418.6 739.0h0M415.8 741.3h0M417.6 740.6h0M417.0 741.2h0M420.6 742.4h0M421.6 734.9h0M416.2 741.2h0M419.6 736.8h0M421.7 740.3h0M419.1 742.7h0M415.6 742.5h0M417.4 742.7h0M432.7 742.0h0M416.4 742.8h0M421.7 742.4h0M416.6 741.9h0M424.8 733.4h0M421.1 735.9h0M416.7 742.0h0M415.3 742.1h0M416.4 742.5h0M417.5 738.9h0M415.2 742.9h0M418.3 741.1h0M417.1 742.6h0M417.7 740.8h0M423.5 742.9h0M416.0 742.9h0M420.6 740.2h0M415.7 741.4h0M415.4 742.4h0M433.1 741.3h0M415.8 742.5h0M424.4 732.9h0M424.5 740.9h0M416.5 742.6h0M419.1 742.6h0M415.3 742.5h0M417.6 741.8h0M417.8 741.6h0M416.0 742.3h0M422.0 742.6h0M422.5 736.7h0M415.3 742.7h0M416.8 742.3h0M422.8 735.0h0M427.2 734.3h0M419.6 740.2h0M424.3 740.6h0M417.7 741.1h0M415.9 741.9h0M420.0 736.8h0M416.9 742.4h0M417.3 739.6h0M416.2 741.8h0M416.8 741.9h0M420.8 742.6h0M417.6 739.9h0M417.5 741.8h0M419.6 741.8h0M415.8 741.5h0M421.5 739.3h0M416.5 742.5h0M418.2 742.1h0M419.5 738.0h0M419.4 737.9h0M421.1 739.2h0M421.6 740.2h0M421.3 739.4h0M422.8 742.4h0M422.7 740.3h0M415.7 741.6h0M422.2 736.9h0M421.7 733.4h0M418.8 739.4h0M419.4 741.2h0M416.0 741.8h0M419.3 742.8h0M420.3 742.3h0M417.5 742.1h0M415.8 742.0h0M423.6 742.2h0M415.2 742.4h0M418.9 742.2h0M420.1 738.0h0M421.7 742.9h0M417.4 742.9h0M416.1 742.5h0M419.1 742.7h0M415.7 742.7h0M422.2 741.7h0M421.6 737.3h0M415.5 742.9h0M417.3 742.6h0M419.2 740.8h0M419.0 740.4h0M415.6 741.9h0M421.7 739.3h0M418.0 740.8h0M416.2 742.8h0M421.8 735.9h0M433.9 742.0h0M428.7 742.0h0M420.1 741.0h0M416.1 741.7h0M418.0 742.8h0M423.2 740.6h0M420.8 741.3h0M415.9 742.6h0M418.1 742.5h0M426.6 739.5h0M417.7 739.9h0M423.4 742.9h0M416.3 742.0h0M415.6 742.7h0M418.2 739.3h0M417.2 741.0h0M420.7 742.8h0M416.7 742.3h0M418.7 741.3h0M417.7 742.1h0M416.5 742.6h0M423.9 742.4h0M415.1 742.3h0M418.6 741.7h0M416.3 743.0h0M416.8 741.9h0M416.1 742.3h0M426.4 741.8h0M424.4 741.6h0M417.3 741.8h0M417.7 742.5h0M418.6 737.8h0M417.4 742.6h0M417.2 741.7h0M422.6 738.0h0M417.3 741.8h0M416.2 742.7h0M417.0 742.8h0M415.9 742.9h0M417.4 742.7h0M421.5 741.9h0M421.4 741.7h0M421.3 742.0h0M419.3 737.0h0M416.8 740.1h0M419.2 742.5h0M415.5 742.9h0M416.2 742.1h0M418.2 741.8h0M415.1 742.9h0M415.5 742.4h0M415.6 742.2h0M418.1 742.9h0M422.2 736.3h0M425.3 732.6h0M422.0 741.2h0M415.2 742.8h0M425.1 742.5h0M419.3 742.7h0M418.3 741.6h0M416.2 742.9h0M429.1 742.1h0M417.1 741.4h0M416.5 742.1h0M418.7 738.8h0M419.0 742.2h0M425.1 735.8h0M421.7 739.0h0M415.5 741.6h0M428.4 742.0h0M416.1 741.2h0M417.1 741.1h0M419.5 742.5h0M417.0 741.5h0M415.2 742.4h0M419.9 739.3h0M416.9 741.4h0M417.9 742.2h0M417.8 740.8h0M420.4 742.7h0M417.4 742.2h0M419.1 742.4h0M419.0 743.0h0M459.7 658.4h0M429.7 716.1h0M424.3 722.3h0M426.7 720.9h0M427.9 720.3h0M434.5 723.1h0M426.7 724.5h0M426.7 726.2h0M436.9 725.7h0M427.3 729.6h0M430.9 729.1h0M433.9 729.9h0M439.9 729.9h0M452.5 706.2h0M456.7 726.2h0M447.1 732.2h0M442.9 742.6h0" stroke="#ff0000" stroke-width="2.1" stroke-linecap="round" fill="none"/>
<line x1="404.5" y1="743.37" x2="426.7" y2="743.37" stroke="#0a0a0a" stroke-width="1.15" stroke-linecap="round"/>
<path d="M434.8 742.9h0" stroke="#111111" stroke-width="2.0" stroke-linecap="round" fill="none"/>
<path d="M377.70 638.9V748.75M376.90 747.95H509.0" stroke="#111" stroke-width="1.7" fill="none"/>
<path d="M374.00 743.20H378.0M374.00 729.06H378.0M374.00 714.92H378.0M374.00 700.78H378.0M374.00 686.64H378.0M374.00 672.50H378.0M374.00 658.36H378.0M374.00 644.22H378.0M383.50 747.95V751.5500000000001M413.50 747.95V751.5500000000001M443.50 747.95V751.5500000000001M473.50 747.95V751.5500000000001M503.50 747.95V751.5500000000001" stroke="#1a1a1a" stroke-width="1.05" fill="none"/>
<text x="370.60" y="745.50" font-size="6.5" text-anchor="end" fill="#222" textLength="3.15" lengthAdjust="spacingAndGlyphs" class="bd">0</text>
<text x="370.60" y="731.36" font-size="6.5" text-anchor="end" fill="#222" textLength="6.30" lengthAdjust="spacingAndGlyphs" class="bd">50</text>
<text x="370.60" y="717.22" font-size="6.5" text-anchor="end" fill="#222" textLength="9.45" lengthAdjust="spacingAndGlyphs" class="bd">100</text>
<text x="370.60" y="703.08" font-size="6.5" text-anchor="end" fill="#222" textLength="9.45" lengthAdjust="spacingAndGlyphs" class="bd">150</text>
<text x="370.60" y="688.94" font-size="6.5" text-anchor="end" fill="#222" textLength="9.45" lengthAdjust="spacingAndGlyphs" class="bd">200</text>
<text x="370.60" y="674.80" font-size="6.5" text-anchor="end" fill="#222" textLength="9.45" lengthAdjust="spacingAndGlyphs" class="bd">250</text>
<text x="370.60" y="660.66" font-size="6.5" text-anchor="end" fill="#222" textLength="9.45" lengthAdjust="spacingAndGlyphs" class="bd">300</text>
<text x="370.60" y="646.52" font-size="6.5" text-anchor="end" fill="#222" textLength="9.45" lengthAdjust="spacingAndGlyphs" class="bd">350</text>
<text x="383.20" y="760.25" font-size="6.5" text-anchor="middle" fill="#222" textLength="5.15" lengthAdjust="spacingAndGlyphs" class="bd">-5</text>
<text x="413.50" y="760.25" font-size="6.5" text-anchor="middle" fill="#222" textLength="3.15" lengthAdjust="spacingAndGlyphs" class="bd">0</text>
<text x="443.50" y="760.25" font-size="6.5" text-anchor="middle" fill="#222" textLength="3.15" lengthAdjust="spacingAndGlyphs" class="bd">5</text>
<text x="473.50" y="760.25" font-size="6.5" text-anchor="middle" fill="#222" textLength="6.30" lengthAdjust="spacingAndGlyphs" class="bd">10</text>
<text x="503.50" y="760.25" font-size="6.5" text-anchor="middle" fill="#222" textLength="6.30" lengthAdjust="spacingAndGlyphs" class="bd">15</text>
<text x="403.90" y="633.90" font-size="8.8" text-anchor="start" fill="#111" textLength="52.40" lengthAdjust="spacingAndGlyphs" class="bd">TPA+ vs MRTFA</text>
<text x="457.00" y="630.20" font-size="6.5" text-anchor="start" fill="#111" textLength="7.00" lengthAdjust="spacingAndGlyphs" class="bd">OE</text>
<text x="464.40" y="633.90" font-size="8.8" text-anchor="start" fill="#111" textLength="18.00" lengthAdjust="spacingAndGlyphs" class="bd">TPA+</text>
<text x="388.50" y="654.20" font-size="6.5" text-anchor="start" fill="#5a50a5" textLength="9.15" lengthAdjust="spacingAndGlyphs">124</text>
<text x="427.30" y="658.10" font-size="6.5" text-anchor="start" fill="#d75a46" textLength="9.15" lengthAdjust="spacingAndGlyphs">309</text>
<line x1="471" y1="653.8" x2="460.4" y2="658.1" stroke="#111" stroke-width="0.95"/>
<line x1="418.7" y1="717.6" x2="414.4" y2="742.2" stroke="#111" stroke-width="0.95"/>
<line x1="401.9" y1="737.4" x2="410.6" y2="741.6" stroke="#111" stroke-width="0.95"/>
<line x1="431.5" y1="738" x2="423.8" y2="740.3" stroke="#111" stroke-width="0.95"/>
<rect x="469.6" y="646" width="19.10" height="7.70" rx="1.4" fill="#fff" stroke="#555" stroke-width="0.75"/>
<text x="479.15" y="651.70" font-size="5.8" text-anchor="middle" textLength="13.3" lengthAdjust="spacingAndGlyphs" fill="#3a3a3a">ACTA2</text>
<rect x="410.2" y="710.1" width="17.70" height="7.50" rx="1.4" fill="#fff" stroke="#555" stroke-width="0.75"/>
<text x="419.05" y="715.70" font-size="5.8" text-anchor="middle" textLength="11.9" lengthAdjust="spacingAndGlyphs" fill="#3a3a3a">EGR3</text>
<rect x="384.2" y="730.3" width="19.30" height="7.50" rx="1.4" fill="#fff" stroke="#555" stroke-width="0.75"/>
<text x="393.85" y="735.90" font-size="5.8" text-anchor="middle" textLength="13.5" lengthAdjust="spacingAndGlyphs" fill="#3a3a3a">CAPN2</text>
<rect x="431.5" y="732.6" width="24.50" height="7.70" rx="1.4" fill="#fff" stroke="#555" stroke-width="0.75"/>
<text x="443.75" y="738.30" font-size="5.8" text-anchor="middle" textLength="18.7" lengthAdjust="spacingAndGlyphs" fill="#3a3a3a">CORO1A</text>
</g>
<rect x="167.2" y="777.5" width="12.30" height="12.5" fill="#ebebeb"/>
<circle cx="173.5" cy="783.8" r="1.6" fill="#1a1a7a"/>
<text x="183.0" y="786.1" font-size="6.7" fill="#222" textLength="39.5" lengthAdjust="spacingAndGlyphs">Downregulated</text>
<rect x="226.0" y="777.5" width="12.20" height="12.5" fill="#ebebeb"/>
<circle cx="232.0" cy="783.8" r="1.6" fill="#000000"/>
<text x="242.0" y="786.1" font-size="6.7" fill="#222" textLength="36.3" lengthAdjust="spacingAndGlyphs">Not significant</text>
<rect x="283.0" y="777.5" width="12.20" height="12.5" fill="#ebebeb"/>
<circle cx="289.0" cy="783.8" r="1.6" fill="#5a9e2d"/>
<text x="298.3" y="786.1" font-size="6.7" fill="#222" textLength="26.7" lengthAdjust="spacingAndGlyphs">Significant</text>
<rect x="329.3" y="777.5" width="12.20" height="12.5" fill="#ebebeb"/>
<circle cx="335.5" cy="783.8" r="1.6" fill="#c42a10"/>
<text x="345.0" y="786.1" font-size="6.7" fill="#222" textLength="31.8" lengthAdjust="spacingAndGlyphs">Upregulated</text>
<rect x="0" y="0" width="520" height="1.2" fill="#000"/><rect x="0" y="0" width="1.2" height="797" fill="#000"/>
<rect x="517.8" y="0" width="2.2" height="797" fill="#000"/><rect x="0" y="795.1" width="520" height="1.9" fill="#000"/>
</svg></body></html>
